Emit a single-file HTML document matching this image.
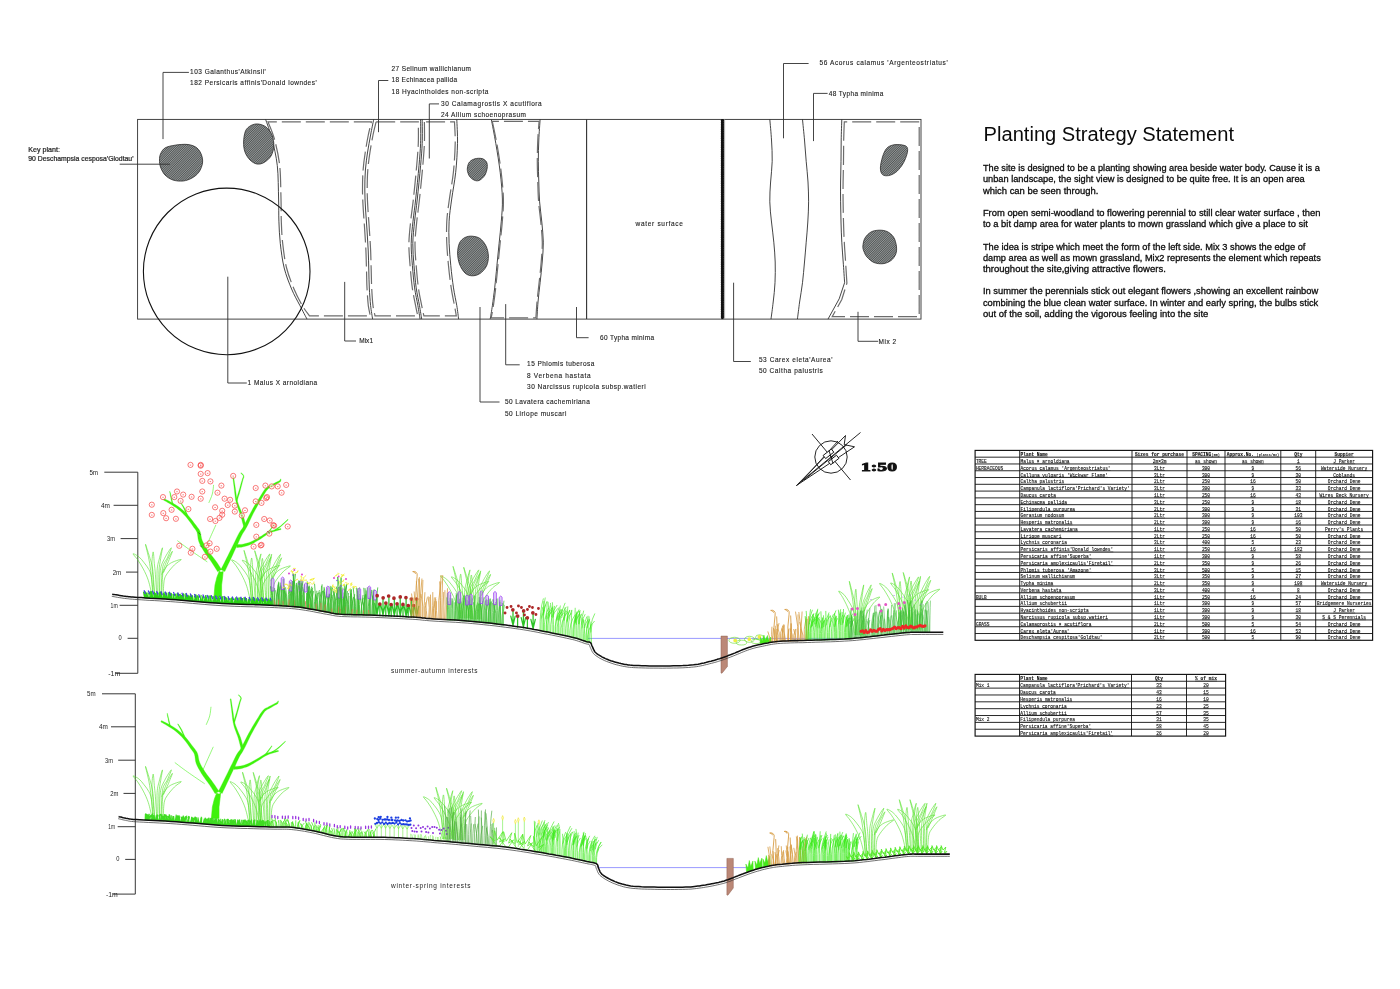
<!DOCTYPE html>
<html lang="en">
<head>
<meta charset="utf-8">
<title>Planting Strategy Statement</title>
<style>
html,body{margin:0;padding:0;background:#fff;}
body{width:1400px;height:989px;overflow:hidden;}
svg{display:block;}
.cad,.key,.ttl,.para,.tb,.ax,.scale{filter:grayscale(1);}
.cad text{font-family:"Liberation Sans","DejaVu Sans",sans-serif;fill:#222;stroke:#222;stroke-width:0.12;}
.key text{font-family:"Liberation Sans","DejaVu Sans",sans-serif;fill:#1c1c1c;stroke:#1c1c1c;stroke-width:0.2;}
.ttl text{font-family:"Liberation Sans","DejaVu Sans",sans-serif;fill:#0a0a0a;}
.para text{font-family:"Liberation Sans","DejaVu Sans",sans-serif;fill:#0c0c0c;stroke:#0c0c0c;stroke-width:0.3;}
.tb text{font-family:"Liberation Mono","DejaVu Sans Mono",monospace;fill:#111;stroke:#111;stroke-width:0.12;}
.scale text{font-family:"Liberation Serif","DejaVu Serif",serif;fill:#111;stroke:#111;stroke-width:0.9;}
.ax text{font-family:"Liberation Sans","DejaVu Sans",sans-serif;fill:#222;}
</style>
</head>
<body>
<svg width="1400" height="989" viewBox="0 0 1400 989">
<defs>
<pattern id="hatch" width="1.6" height="1.6" patternUnits="userSpaceOnUse" patternTransform="rotate(-45)">
<rect width="1.6" height="1.6" fill="#959999"/>
<rect width="1.6" height="0.8" fill="#505454"/>
</pattern>
</defs>
<rect width="1400" height="989" fill="#fff"/>
<!-- plan -->
<g fill="none" stroke="#303030" stroke-width="0.9">
<rect x="137.6" y="119.4" width="783.4" height="199.7"/>
<path d="M265.6,119.4C266.7,122.7 270.1,131.2 272.0,138.9C273.9,146.6 276.2,155.6 277.3,165.6C278.4,175.6 278.3,189.7 278.6,199.0C278.9,208.3 278.6,213.8 278.9,221.2C279.2,228.6 279.4,235.7 280.3,243.5C281.2,251.3 282.3,260.4 284.2,268.0C286.1,275.6 289.0,282.7 291.6,289.0C294.2,295.3 297.4,300.7 300.0,305.7C302.6,310.7 305.8,316.9 307.0,319.1"/>
<path d="M373.7,119.4C373.2,122.0 371.6,129.6 370.6,135.0C369.6,140.4 368.5,146.2 367.6,152.0C366.7,157.8 365.9,163.7 365.4,170.0C364.9,176.3 364.8,183.3 364.8,190.0C364.8,196.7 365.2,203.3 365.6,210.0C366.0,216.7 366.6,223.3 367.0,230.0C367.4,236.7 367.9,243.3 368.2,250.0C368.5,256.7 368.6,263.7 368.8,270.0C369.0,276.3 369.0,282.1 369.3,288.0C369.6,293.9 370.1,300.5 370.6,305.7C371.2,310.9 372.3,316.9 372.6,319.1"/>
<path d="M420.6,119.4C420.6,123.4 420.9,135.7 420.6,143.4C420.3,151.1 419.8,156.3 419.0,165.6C418.2,174.9 416.7,189.7 415.7,199.0C414.7,208.3 413.8,213.8 413.0,221.2C412.2,228.6 411.3,236.1 411.2,243.5C411.1,250.9 411.8,258.3 412.4,265.7C413.0,273.1 413.7,281.2 414.6,287.9C415.5,294.6 417.0,300.5 417.9,305.7C418.8,310.9 419.7,316.9 420.1,319.1"/>
<path d="M456.8,119.4C456.9,123.4 457.7,134.6 457.5,143.4C457.3,152.2 456.7,163.0 455.7,172.3C454.7,181.6 452.8,190.8 451.7,199.0C450.6,207.2 449.5,213.8 449.1,221.2C448.7,228.6 448.8,236.1 449.1,243.5C449.4,250.9 450.1,258.3 450.8,265.7C451.5,273.1 452.5,281.2 453.5,287.9C454.5,294.6 455.9,300.5 456.8,305.7C457.7,310.9 458.3,316.9 458.6,319.1"/>
<path d="M491.3,119.4C492.1,123.4 494.3,134.6 495.8,143.4C497.3,152.2 499.1,163.0 500.2,172.3C501.3,181.6 502.2,190.8 502.4,199.0C502.6,207.2 501.9,213.8 501.3,221.2C500.8,228.6 499.8,236.1 499.1,243.5C498.4,250.9 497.6,258.3 496.9,265.7C496.2,273.1 495.4,281.2 494.7,287.9C493.9,294.6 493.1,300.5 492.4,305.7C491.6,310.9 490.6,316.9 490.2,319.1"/>
<path d="M540.1,119.4C539.9,122.8 539.1,133.0 538.8,140.0C538.5,147.0 538.3,154.3 538.3,161.3C538.3,168.3 538.6,175.2 538.8,182.0C539.0,188.8 539.1,195.1 539.6,201.8C540.1,208.5 541.2,215.3 541.8,222.0C542.4,228.7 543.2,235.5 543.3,242.2C543.4,248.9 542.7,255.2 542.2,262.0C541.7,268.8 540.8,276.0 540.1,282.7C539.4,289.4 538.5,295.9 538.0,302.0C537.5,308.1 537.1,316.2 536.9,319.1"/>
<path d="M769.8,119.4C770.1,122.8 771.1,133.0 771.5,140.0C771.9,147.0 772.4,154.3 772.2,161.3C772.1,168.3 771.0,175.2 770.6,182.0C770.2,188.8 769.6,195.1 769.8,201.8C769.9,208.5 770.8,215.3 771.5,222.0C772.2,228.7 773.2,235.5 773.8,242.2C774.4,248.9 775.0,255.2 775.2,262.0C775.4,268.8 775.3,276.0 775.0,282.7C774.7,289.4 773.9,295.9 773.2,302.0C772.5,308.1 771.4,316.2 771.0,319.1"/>
<path d="M802.5,119.4C802.8,122.8 803.9,133.0 804.5,140.0C805.1,147.0 805.6,154.3 806.2,161.3C806.8,168.3 807.6,175.2 808.0,182.0C808.4,188.8 808.6,195.1 808.6,201.8C808.6,208.5 808.2,215.3 807.8,222.0C807.4,228.7 806.8,235.5 806.2,242.2C805.7,248.9 805.1,255.2 804.5,262.0C803.9,268.8 803.3,276.0 802.5,282.7C801.7,289.4 800.5,295.9 799.6,302.0C798.8,308.1 797.8,316.2 797.4,319.1"/>
<path d="M422.2,119.4C422.2,123.4 422.5,135.7 422.2,143.4C421.9,151.1 421.4,156.3 420.6,165.6C419.8,174.9 418.3,189.7 417.3,199.0C416.3,208.3 415.4,213.8 414.6,221.2C413.9,228.6 412.9,236.1 412.8,243.5C412.7,250.9 413.4,258.3 414.0,265.7C414.6,273.1 415.3,281.2 416.2,287.9C417.1,294.6 418.6,300.5 419.5,305.7C420.4,310.9 421.3,316.9 421.7,319.1"/>
<path d="M841.8,119.4C841.7,122.8 841.3,133.0 841.2,140.0C841.1,147.0 841.1,154.3 841.0,161.3C840.9,168.3 840.7,175.2 840.6,182.0C840.5,188.8 840.5,195.1 840.6,201.8C840.7,208.5 840.8,215.3 841.0,222.0C841.2,228.7 841.4,235.5 841.8,242.2C842.2,248.9 842.7,255.2 843.2,262.0C843.7,268.8 844.4,279.2 844.6,282.7"/>
<path d="M844.6,282.7L839.2,298.8L828.0,319.1"/>
<path d="M586.6,119.4V319.1" stroke-width="1.1"/>
</g>
<g fill="none" stroke="#6c6c6c" stroke-width="1.2" stroke-dasharray="19 5">
<path d="M268.0,121.9C269.1,124.7 272.4,131.6 274.4,138.9C276.3,146.2 278.6,155.6 279.7,165.6C280.8,175.6 280.7,189.7 281.0,199.0C281.3,208.3 281.0,213.8 281.3,221.2C281.6,228.6 281.8,235.7 282.7,243.5C283.6,251.3 284.7,260.4 286.6,268.0C288.5,275.6 291.4,282.7 294.0,289.0C296.6,295.3 299.8,301.2 302.4,305.7C305.0,310.2 308.2,314.1 309.4,315.8L370.3,315.8C370.0,314.1 368.9,310.3 368.3,305.7C367.8,301.1 367.3,293.9 367.0,288.0C366.7,282.1 366.7,276.3 366.5,270.0C366.3,263.7 366.2,256.7 365.9,250.0C365.6,243.3 365.1,236.7 364.7,230.0C364.3,223.3 363.7,216.7 363.3,210.0C362.9,203.3 362.5,196.7 362.5,190.0C362.5,183.3 362.6,176.3 363.1,170.0C363.6,163.7 364.4,157.8 365.3,152.0C366.2,146.2 367.3,140.0 368.3,135.0C369.3,130.0 370.9,124.1 371.4,121.9Z"/>
<path d="M376.1,121.9C375.6,124.1 374.0,130.0 373.0,135.0C372.0,140.0 370.9,146.2 370.0,152.0C369.1,157.8 368.3,163.7 367.8,170.0C367.3,176.3 367.2,183.3 367.2,190.0C367.2,196.7 367.6,203.3 368.0,210.0C368.4,216.7 369.0,223.3 369.4,230.0C369.8,236.7 370.3,243.3 370.6,250.0C370.9,256.7 371.0,263.7 371.2,270.0C371.4,276.3 371.4,282.1 371.7,288.0C372.0,293.9 372.4,301.1 373.0,305.7C373.6,310.3 374.7,314.1 375.0,315.8L417.8,315.8C417.4,314.1 416.5,310.4 415.6,305.7C414.7,301.0 413.2,294.6 412.3,287.9C411.4,281.2 410.7,273.1 410.1,265.7C409.5,258.3 408.8,250.9 408.9,243.5C409.0,236.1 409.9,228.6 410.7,221.2C411.4,213.8 412.4,208.3 413.4,199.0C414.4,189.7 415.9,174.9 416.7,165.6C417.5,156.3 418.0,150.7 418.3,143.4C418.6,136.1 418.3,125.5 418.3,121.9Z"/>
<path d="M424.4,121.9C424.4,125.5 424.7,136.1 424.4,143.4C424.1,150.7 423.6,156.3 422.8,165.6C422.0,174.9 420.5,189.7 419.5,199.0C418.5,208.3 417.6,213.8 416.8,221.2C416.1,228.6 415.1,236.1 415.0,243.5C414.9,250.9 415.6,258.3 416.2,265.7C416.8,273.1 417.5,281.2 418.4,287.9C419.3,294.6 420.8,301.0 421.7,305.7C422.6,310.4 423.5,314.1 423.9,315.8L456.3,315.8C456.0,314.1 455.4,310.4 454.5,305.7C453.6,301.0 452.2,294.6 451.2,287.9C450.2,281.2 449.2,273.1 448.5,265.7C447.8,258.3 447.1,250.9 446.8,243.5C446.5,236.1 446.4,228.6 446.8,221.2C447.2,213.8 448.3,207.2 449.4,199.0C450.5,190.8 452.4,181.6 453.4,172.3C454.4,163.0 455.0,151.8 455.2,143.4C455.4,135.0 454.6,125.5 454.5,121.9Z"/>
<path d="M492.3,121.3C493.1,125.0 495.3,134.9 496.8,143.4C498.3,151.9 500.1,163.0 501.2,172.3C502.3,181.6 503.2,190.8 503.4,199.0C503.6,207.2 502.9,213.8 502.3,221.2C501.8,228.6 500.8,236.1 500.1,243.5C499.4,250.9 498.6,258.3 497.9,265.7C497.2,273.1 496.4,281.2 495.7,287.9C494.9,294.6 494.1,300.7 493.4,305.7C492.6,310.7 491.6,315.8 491.2,317.8L535.9,317.8C536.1,315.2 536.5,307.9 537.0,302.0C537.5,296.1 538.4,289.4 539.1,282.7C539.8,276.0 540.7,268.8 541.2,262.0C541.7,255.2 542.4,248.9 542.3,242.2C542.2,235.5 541.4,228.7 540.8,222.0C540.2,215.3 539.1,208.5 538.6,201.8C538.1,195.1 538.0,188.8 537.8,182.0C537.6,175.2 537.3,168.3 537.3,161.3C537.3,154.3 537.5,146.7 537.8,140.0C538.1,133.3 538.9,124.4 539.1,121.3Z"/>
<path d="M844.3,121.9C844.2,124.9 843.8,133.4 843.7,140.0C843.6,146.6 843.6,154.3 843.5,161.3C843.4,168.3 843.2,175.2 843.1,182.0C843.0,188.8 843.0,195.1 843.1,201.8C843.2,208.5 843.3,215.3 843.5,222.0C843.7,228.7 843.9,235.5 844.3,242.2C844.6,248.9 845.2,255.2 845.6,262.0C846.0,268.8 846.7,279.7 846.9,283.2L841.8,299.5L832.2,316.7L919.2,316.7L919.2,121.9Z"/>
</g>
<path d="M722.4,119.4V319.1" stroke="#111" stroke-width="2.2" fill="none"/>
<path d="M722.4,120.6V317.9" stroke="#111" stroke-width="3.3" stroke-dasharray="0.1 1.7" stroke-linecap="round" fill="none"/>
<path d="M724.6,119.4V319.1" stroke="#999" stroke-width="0.8" fill="none"/>
<circle cx="226.7" cy="271.4" r="83.3" fill="none" stroke="#111" stroke-width="1.1"/>
<g fill="url(#hatch)" stroke="#2b2b2b" stroke-width="0.8">
<path d="M159.5,160.0C159.5,157.8 159.6,156.0 160.5,154.0C161.4,152.0 162.6,149.5 165.0,148.0C167.4,146.5 171.2,145.8 175.0,145.2C178.8,144.6 184.3,144.0 188.0,144.5C191.7,145.0 194.8,146.2 197.0,148.0C199.2,149.8 200.6,152.5 201.5,155.0C202.4,157.5 202.9,160.2 202.5,163.0C202.1,165.8 200.8,169.5 199.0,172.0C197.2,174.5 194.7,176.5 192.0,178.0C189.3,179.5 186.2,180.7 183.0,181.0C179.8,181.3 176.0,181.0 173.0,180.0C170.0,179.0 167.1,177.2 165.0,175.0C162.9,172.8 161.4,169.5 160.5,167.0C159.6,164.5 159.5,162.2 159.5,160.0Z"/>
<path d="M243.6,142.0C243.7,138.5 244.3,133.8 245.5,131.0C246.7,128.2 248.9,126.7 251.0,125.5C253.1,124.3 255.5,123.8 258.0,124.0C260.5,124.2 263.7,125.2 266.0,127.0C268.3,128.8 270.7,131.8 272.0,135.0C273.3,138.2 274.0,142.5 273.8,146.0C273.6,149.5 272.6,153.2 271.0,156.0C269.4,158.8 266.3,161.2 264.0,162.5C261.7,163.8 259.3,164.4 257.0,164.0C254.7,163.6 252.0,162.0 250.0,160.0C248.0,158.0 246.1,155.0 245.0,152.0C243.9,149.0 243.5,145.5 243.6,142.0Z"/>
<path d="M467.4,168.0C467.6,166.2 468.2,163.5 469.5,162.0C470.8,160.5 472.9,159.4 475.0,158.8C477.1,158.2 480.1,158.1 482.0,158.6C483.9,159.1 485.6,160.4 486.5,162.0C487.4,163.6 487.4,165.8 487.2,168.0C486.9,170.2 486.2,173.0 485.0,175.0C483.8,177.0 481.6,179.1 480.0,180.0C478.4,180.9 477.1,181.0 475.5,180.6C473.9,180.2 471.8,178.8 470.5,177.5C469.2,176.2 468.5,174.6 468.0,173.0C467.5,171.4 467.1,169.8 467.4,168.0Z"/>
<path d="M457.6,253.0C457.6,249.5 458.3,245.6 459.5,243.0C460.7,240.4 462.9,238.6 465.0,237.5C467.1,236.4 469.5,236.0 472.0,236.2C474.5,236.4 477.7,236.9 480.0,238.5C482.3,240.1 484.6,243.1 486.0,246.0C487.4,248.9 488.3,252.7 488.4,256.0C488.5,259.3 487.9,263.1 486.5,266.0C485.1,268.9 482.4,271.9 480.0,273.5C477.6,275.1 474.5,275.9 472.0,275.8C469.5,275.7 467.1,275.0 465.0,273.0C462.9,271.0 460.7,267.3 459.5,264.0C458.3,260.7 457.6,256.5 457.6,253.0Z"/>
<path d="M880.4,168.0C880.4,165.1 881.5,160.2 882.5,157.0C883.5,153.8 884.8,150.5 886.5,148.5C888.2,146.5 890.6,145.6 893.0,145.0C895.4,144.4 898.8,144.6 901.0,144.8C903.2,145.1 905.4,145.5 906.5,146.5C907.6,147.5 907.8,149.0 907.6,151.0C907.4,153.0 906.5,156.0 905.5,158.5C904.5,161.0 903.2,163.7 901.5,166.0C899.8,168.3 897.7,170.9 895.5,172.5C893.3,174.1 890.7,175.2 888.5,175.6C886.3,175.9 883.9,175.9 882.5,174.6C881.1,173.3 880.4,170.9 880.4,168.0Z"/>
<path d="M862.9,246.0C863.1,243.8 863.6,240.3 865.0,238.0C866.4,235.7 868.7,233.3 871.0,232.0C873.3,230.7 876.3,230.3 879.0,230.2C881.7,230.1 884.6,230.4 887.0,231.5C889.4,232.6 891.9,234.6 893.5,237.0C895.1,239.4 896.0,243.2 896.4,246.0C896.8,248.8 896.7,251.6 895.8,254.0C894.9,256.4 893.1,258.9 891.0,260.5C888.9,262.1 885.8,263.4 883.0,263.7C880.2,264.0 876.7,263.6 874.0,262.5C871.3,261.4 868.7,258.9 867.0,257.0C865.3,255.1 864.5,252.8 863.8,251.0C863.1,249.2 862.7,248.2 862.9,246.0Z"/>
</g>
<g fill="none" stroke="#303030" stroke-width="0.9">
<path d="M163,139.1V72.4H188.9"/>
<path d="M119.7,164.2H169.9"/>
<path d="M227.8,276.7V383H246.8"/>
<path d="M344.7,281.9V341H356"/>
<path d="M378.5,132.2V80.5H388.3"/>
<path d="M429.3,158.5V103.9H439"/>
<path d="M480,307V402H499.5"/>
<path d="M505.7,304.1V364.8H519.7"/>
<path d="M576.5,307V337.7H588.6"/>
<path d="M733.6,282.7V361.5H750.8"/>
<path d="M783.5,138.3V63.5H808.6"/>
<path d="M813.5,141.1V93.4H827.6"/>
<path d="M858,311.8V341.3H878.2"/>
</g>
<g class="cad">
<text x="190.1" y="74.4" font-size="6.5" textLength="75.7" lengthAdjust="spacing">103 Galanthus'Atkinsii'</text>
<text x="190.1" y="85.3" font-size="6.5" textLength="126.6" lengthAdjust="spacing">182 Persicaris affinis'Donald lowndes'</text>
<text x="391.6" y="71.1" font-size="6.5" textLength="79.3" lengthAdjust="spacing">27 Selinum wallichianum</text>
<text x="391.6" y="82.4" font-size="6.5" textLength="65.5" lengthAdjust="spacing">18 Echinacea pallida</text>
<text x="391.6" y="93.8" font-size="6.5" textLength="96.7" lengthAdjust="spacing">18 Hyacinthoides non-scripta</text>
<text x="441.0" y="105.9" font-size="6.5" textLength="100.7" lengthAdjust="spacing">30 Calamagrostis X acutiflora</text>
<text x="441.0" y="117.2" font-size="6.5" textLength="84.9" lengthAdjust="spacing">24 Allium schoenoprasum</text>
<text x="359.2" y="343.4" font-size="6.5" textLength="13.8" lengthAdjust="spacing">Mix1</text>
<text x="247.6" y="385.4" font-size="6.5" textLength="69.6" lengthAdjust="spacing">1 Malus X arnoldiana</text>
<text x="635.5" y="226.4" font-size="6.5" textLength="47.4" lengthAdjust="spacing">water surface</text>
<text x="600.0" y="339.7" font-size="6.5" textLength="54.1" lengthAdjust="spacing">60 Typha minima</text>
<text x="527.1" y="366.4" font-size="6.5" textLength="67.2" lengthAdjust="spacing">15 Phlomis tuberosa</text>
<text x="527.1" y="377.7" font-size="6.5" textLength="63.5" lengthAdjust="spacing">8 Verbena hastata</text>
<text x="527.1" y="389.0" font-size="6.5" textLength="118.5" lengthAdjust="spacing">30 Narcissus rupicola subsp.watieri</text>
<text x="504.9" y="404.4" font-size="6.5" textLength="84.9" lengthAdjust="spacing">50 Lavatera cachemiriana</text>
<text x="504.9" y="415.7" font-size="6.5" textLength="61.5" lengthAdjust="spacing">50 Liriope muscari</text>
<text x="819.5" y="65.4" font-size="6.5" textLength="128.2" lengthAdjust="spacing">56 Acorus calamus 'Argenteostriatus'</text>
<text x="828.8" y="96.2" font-size="6.5" textLength="54.6" lengthAdjust="spacing">48 Typha minima</text>
<text x="878.6" y="343.7" font-size="6.5" textLength="17.4" lengthAdjust="spacing">Mix 2</text>
<text x="758.9" y="361.5" font-size="6.5" textLength="73.6" lengthAdjust="spacing">53 Carex eleta'Aurea'</text>
<text x="758.9" y="372.8" font-size="6.5" textLength="63.9" lengthAdjust="spacing">50 Caltha palustris</text>
</g>
<g class="key">
<text x="28.3" y="151.9" font-size="6.6" textLength="31.6" lengthAdjust="spacingAndGlyphs">Key plant:</text>
<text x="28.3" y="160.8" font-size="6.6" textLength="105.2" lengthAdjust="spacingAndGlyphs">90 Deschampsia cesposa'Glodtau'</text>
</g>
<!-- statement -->
<g class="ttl"><text x="983.6" y="140.9" font-size="19.6" textLength="250.4" lengthAdjust="spacingAndGlyphs">Planting Strategy Statement</text></g>
<g class="para">
<text x="982.9" y="171.2" font-size="9.4" textLength="336.9" lengthAdjust="spacingAndGlyphs">The site is designed to be a planting showing area beside water body. Cause it is a</text>
<text x="982.9" y="182.4" font-size="9.4" textLength="321.8" lengthAdjust="spacingAndGlyphs">unban landscape, the sight view is designed to be quite free. It is an open area</text>
<text x="982.9" y="193.6" font-size="9.4" textLength="115.4" lengthAdjust="spacingAndGlyphs">which can be seen through.</text>
<text x="982.9" y="216.0" font-size="9.4" textLength="337.6" lengthAdjust="spacingAndGlyphs">From open semi-woodland to flowering perennial to still clear water surface , then</text>
<text x="982.9" y="227.1" font-size="9.4" textLength="325.0" lengthAdjust="spacingAndGlyphs">to a bit damp area for water plants to mown grassland which give a place to sit</text>
<text x="982.9" y="249.5" font-size="9.4" textLength="322.5" lengthAdjust="spacingAndGlyphs">The idea is stripe which meet the form of the left side. Mix 3 shows the edge of</text>
<text x="982.9" y="260.7" font-size="9.4" textLength="337.9" lengthAdjust="spacingAndGlyphs">damp area as well as mown grassland, Mix2 represents the element which repeats</text>
<text x="982.9" y="271.9" font-size="9.4" textLength="182.9" lengthAdjust="spacingAndGlyphs">throughout the site,giving attractive flowers.</text>
<text x="982.9" y="294.3" font-size="9.4" textLength="335.4" lengthAdjust="spacingAndGlyphs">In summer the perennials stick out elegant flowers ,showing an excellent rainbow</text>
<text x="982.9" y="305.5" font-size="9.4" textLength="335.4" lengthAdjust="spacingAndGlyphs">combining the blue clean water surface. In winter and early spring, the bulbs stick</text>
<text x="982.9" y="316.7" font-size="9.4" textLength="225.4" lengthAdjust="spacingAndGlyphs">out of the soil, adding the vigorous feeling into the site</text>
</g>
<!-- tables -->
<g fill="none" stroke="#111" stroke-width="0.9">
<rect x="975.1" y="450.4" width="397.5" height="189.9" stroke-width="1.15"/>
<path d="M975.1,457.18H1372.6M975.1,463.96H1372.6M975.1,470.75H1372.6M975.1,477.53H1372.6M975.1,484.31H1372.6M975.1,491.09H1372.6M975.1,497.88H1372.6M975.1,504.66H1372.6M975.1,511.44H1372.6M975.1,518.22H1372.6M975.1,525.00H1372.6M975.1,531.79H1372.6M975.1,538.57H1372.6M975.1,545.35H1372.6M975.1,552.13H1372.6M975.1,558.91H1372.6M975.1,565.70H1372.6M975.1,572.48H1372.6M975.1,579.26H1372.6M975.1,586.04H1372.6M975.1,592.82H1372.6M975.1,599.61H1372.6M975.1,606.39H1372.6M975.1,613.17H1372.6M975.1,619.95H1372.6M975.1,626.74H1372.6M975.1,633.52H1372.6M1019.7,450.4V640.3M1132.0,450.4V640.3M1187.0,450.4V640.3M1225.0,450.4V640.3M1280.8,450.4V640.3M1315.7,450.4V640.3"/>
</g>
<g class="tb">
<text x="1020.5" y="456.2" font-size="5.2" textLength="27.3" lengthAdjust="spacingAndGlyphs" font-weight="bold">Plant Name</text>
<path d="M1020.5,456.93H1047.8" stroke="#222" stroke-width="0.5"/>
<text x="1134.9" y="456.2" font-size="5.2" textLength="49.1" lengthAdjust="spacingAndGlyphs" font-weight="bold">Sizes for purchase</text>
<path d="M1134.9,456.93H1184.1" stroke="#222" stroke-width="0.5"/>
<text x="1192.2" y="456.2" font-size="5.2" textLength="19.1" lengthAdjust="spacingAndGlyphs" font-weight="bold">SPACING</text>
<text x="1211.6" y="456.2" font-size="3.9" textLength="8.2" lengthAdjust="spacingAndGlyphs">(mm)</text>
<path d="M1192.2,456.93H1219.8" stroke="#222" stroke-width="0.5"/>
<text x="1226.7" y="456.2" font-size="5.2" textLength="27.3" lengthAdjust="spacingAndGlyphs" font-weight="bold">Approx.No.</text>
<text x="1256.6" y="456.2" font-size="3.9" textLength="22.5" lengthAdjust="spacingAndGlyphs">(plants/m2)</text>
<path d="M1226.7,456.93H1279.1" stroke="#222" stroke-width="0.5"/>
<text x="1294.2" y="456.2" font-size="5.2" textLength="8.2" lengthAdjust="spacingAndGlyphs" font-weight="bold">Qty</text>
<path d="M1294.2,456.93H1302.3" stroke="#222" stroke-width="0.5"/>
<text x="1334.6" y="456.2" font-size="5.2" textLength="19.1" lengthAdjust="spacingAndGlyphs" font-weight="bold">Suppier</text>
<path d="M1334.6,456.93H1353.7" stroke="#222" stroke-width="0.5"/>
<text x="975.9" y="463.0" font-size="5.2" textLength="10.9" lengthAdjust="spacingAndGlyphs">TREE</text>
<text x="1020.5" y="463.0" font-size="5.2" textLength="49.1" lengthAdjust="spacingAndGlyphs">Malus × arnoldiana</text>
<path d="M1020.5,463.71H1069.6" stroke="#222" stroke-width="0.5"/>
<text x="1152.7" y="463.0" font-size="5.2" textLength="13.7" lengthAdjust="spacingAndGlyphs">2m×3m</text>
<path d="M1152.7,463.71H1166.3" stroke="#222" stroke-width="0.5"/>
<text x="1195.1" y="463.0" font-size="5.2" textLength="21.8" lengthAdjust="spacingAndGlyphs">as shown</text>
<path d="M1195.1,463.71H1216.9" stroke="#222" stroke-width="0.5"/>
<text x="1242.0" y="463.0" font-size="5.2" textLength="21.8" lengthAdjust="spacingAndGlyphs">as shown</text>
<path d="M1242.0,463.71H1263.8" stroke="#222" stroke-width="0.5"/>
<text x="1296.9" y="463.0" font-size="5.2" textLength="2.7" lengthAdjust="spacingAndGlyphs">1</text>
<path d="M1296.9,463.71H1299.6" stroke="#222" stroke-width="0.5"/>
<text x="1333.2" y="463.0" font-size="5.2" textLength="21.8" lengthAdjust="spacingAndGlyphs">J Parker</text>
<path d="M1333.2,463.71H1355.1" stroke="#222" stroke-width="0.5"/>
<text x="975.9" y="469.8" font-size="5.2" textLength="27.3" lengthAdjust="spacingAndGlyphs">HERBACEOUS</text>
<text x="1020.5" y="469.8" font-size="5.2" textLength="90.1" lengthAdjust="spacingAndGlyphs">Acorus calamus 'Argenteostriatus'</text>
<path d="M1020.5,470.50H1110.6" stroke="#222" stroke-width="0.5"/>
<text x="1154.0" y="469.8" font-size="5.2" textLength="10.9" lengthAdjust="spacingAndGlyphs">3Ltr</text>
<path d="M1154.0,470.50H1165.0" stroke="#222" stroke-width="0.5"/>
<text x="1201.9" y="469.8" font-size="5.2" textLength="8.2" lengthAdjust="spacingAndGlyphs">300</text>
<path d="M1201.9,470.50H1210.1" stroke="#222" stroke-width="0.5"/>
<text x="1251.5" y="469.8" font-size="5.2" textLength="2.7" lengthAdjust="spacingAndGlyphs">9</text>
<path d="M1251.5,470.50H1254.3" stroke="#222" stroke-width="0.5"/>
<text x="1295.5" y="469.8" font-size="5.2" textLength="5.5" lengthAdjust="spacingAndGlyphs">56</text>
<path d="M1295.5,470.50H1301.0" stroke="#222" stroke-width="0.5"/>
<text x="1320.9" y="469.8" font-size="5.2" textLength="46.4" lengthAdjust="spacingAndGlyphs">Waterside Nursery</text>
<path d="M1320.9,470.50H1367.4" stroke="#222" stroke-width="0.5"/>
<text x="1020.5" y="476.6" font-size="5.2" textLength="87.4" lengthAdjust="spacingAndGlyphs">Calluna vulgaris 'Wickwar Flame'</text>
<path d="M1020.5,477.28H1107.9" stroke="#222" stroke-width="0.5"/>
<text x="1154.0" y="476.6" font-size="5.2" textLength="10.9" lengthAdjust="spacingAndGlyphs">3Ltr</text>
<path d="M1154.0,477.28H1165.0" stroke="#222" stroke-width="0.5"/>
<text x="1201.9" y="476.6" font-size="5.2" textLength="8.2" lengthAdjust="spacingAndGlyphs">300</text>
<path d="M1201.9,477.28H1210.1" stroke="#222" stroke-width="0.5"/>
<text x="1251.5" y="476.6" font-size="5.2" textLength="2.7" lengthAdjust="spacingAndGlyphs">9</text>
<path d="M1251.5,477.28H1254.3" stroke="#222" stroke-width="0.5"/>
<text x="1295.5" y="476.6" font-size="5.2" textLength="5.5" lengthAdjust="spacingAndGlyphs">30</text>
<path d="M1295.5,477.28H1301.0" stroke="#222" stroke-width="0.5"/>
<text x="1333.2" y="476.6" font-size="5.2" textLength="21.8" lengthAdjust="spacingAndGlyphs">Coblands</text>
<path d="M1333.2,477.28H1355.1" stroke="#222" stroke-width="0.5"/>
<text x="1020.5" y="483.4" font-size="5.2" textLength="43.7" lengthAdjust="spacingAndGlyphs">Caltha palustris</text>
<path d="M1020.5,484.06H1064.2" stroke="#222" stroke-width="0.5"/>
<text x="1154.0" y="483.4" font-size="5.2" textLength="10.9" lengthAdjust="spacingAndGlyphs">2Ltr</text>
<path d="M1154.0,484.06H1165.0" stroke="#222" stroke-width="0.5"/>
<text x="1201.9" y="483.4" font-size="5.2" textLength="8.2" lengthAdjust="spacingAndGlyphs">250</text>
<path d="M1201.9,484.06H1210.1" stroke="#222" stroke-width="0.5"/>
<text x="1250.2" y="483.4" font-size="5.2" textLength="5.5" lengthAdjust="spacingAndGlyphs">16</text>
<path d="M1250.2,484.06H1255.6" stroke="#222" stroke-width="0.5"/>
<text x="1295.5" y="483.4" font-size="5.2" textLength="5.5" lengthAdjust="spacingAndGlyphs">50</text>
<path d="M1295.5,484.06H1301.0" stroke="#222" stroke-width="0.5"/>
<text x="1327.8" y="483.4" font-size="5.2" textLength="32.8" lengthAdjust="spacingAndGlyphs">Orchard Dene</text>
<path d="M1327.8,484.06H1360.5" stroke="#222" stroke-width="0.5"/>
<text x="1020.5" y="490.1" font-size="5.2" textLength="109.2" lengthAdjust="spacingAndGlyphs">Campanula lactiflora'Prichard's Variety'</text>
<path d="M1020.5,490.84H1129.7" stroke="#222" stroke-width="0.5"/>
<text x="1154.0" y="490.1" font-size="5.2" textLength="10.9" lengthAdjust="spacingAndGlyphs">3Ltr</text>
<path d="M1154.0,490.84H1165.0" stroke="#222" stroke-width="0.5"/>
<text x="1201.9" y="490.1" font-size="5.2" textLength="8.2" lengthAdjust="spacingAndGlyphs">300</text>
<path d="M1201.9,490.84H1210.1" stroke="#222" stroke-width="0.5"/>
<text x="1251.5" y="490.1" font-size="5.2" textLength="2.7" lengthAdjust="spacingAndGlyphs">9</text>
<path d="M1251.5,490.84H1254.3" stroke="#222" stroke-width="0.5"/>
<text x="1295.5" y="490.1" font-size="5.2" textLength="5.5" lengthAdjust="spacingAndGlyphs">33</text>
<path d="M1295.5,490.84H1301.0" stroke="#222" stroke-width="0.5"/>
<text x="1327.8" y="490.1" font-size="5.2" textLength="32.8" lengthAdjust="spacingAndGlyphs">Orchard Dene</text>
<path d="M1327.8,490.84H1360.5" stroke="#222" stroke-width="0.5"/>
<text x="1020.5" y="496.9" font-size="5.2" textLength="35.5" lengthAdjust="spacingAndGlyphs">Daucus carota</text>
<path d="M1020.5,497.62H1056.0" stroke="#222" stroke-width="0.5"/>
<text x="1154.0" y="496.9" font-size="5.2" textLength="10.9" lengthAdjust="spacingAndGlyphs">1Ltr</text>
<path d="M1154.0,497.62H1165.0" stroke="#222" stroke-width="0.5"/>
<text x="1201.9" y="496.9" font-size="5.2" textLength="8.2" lengthAdjust="spacingAndGlyphs">250</text>
<path d="M1201.9,497.62H1210.1" stroke="#222" stroke-width="0.5"/>
<text x="1250.2" y="496.9" font-size="5.2" textLength="5.5" lengthAdjust="spacingAndGlyphs">16</text>
<path d="M1250.2,497.62H1255.6" stroke="#222" stroke-width="0.5"/>
<text x="1295.5" y="496.9" font-size="5.2" textLength="5.5" lengthAdjust="spacingAndGlyphs">43</text>
<path d="M1295.5,497.62H1301.0" stroke="#222" stroke-width="0.5"/>
<text x="1319.6" y="496.9" font-size="5.2" textLength="49.1" lengthAdjust="spacingAndGlyphs">Wires Beck Nursery</text>
<path d="M1319.6,497.62H1368.7" stroke="#222" stroke-width="0.5"/>
<text x="1020.5" y="503.7" font-size="5.2" textLength="46.4" lengthAdjust="spacingAndGlyphs">Echinacea pallida</text>
<path d="M1020.5,504.41H1066.9" stroke="#222" stroke-width="0.5"/>
<text x="1154.0" y="503.7" font-size="5.2" textLength="10.9" lengthAdjust="spacingAndGlyphs">3Ltr</text>
<path d="M1154.0,504.41H1165.0" stroke="#222" stroke-width="0.5"/>
<text x="1201.9" y="503.7" font-size="5.2" textLength="8.2" lengthAdjust="spacingAndGlyphs">250</text>
<path d="M1201.9,504.41H1210.1" stroke="#222" stroke-width="0.5"/>
<text x="1251.5" y="503.7" font-size="5.2" textLength="2.7" lengthAdjust="spacingAndGlyphs">9</text>
<path d="M1251.5,504.41H1254.3" stroke="#222" stroke-width="0.5"/>
<text x="1295.5" y="503.7" font-size="5.2" textLength="5.5" lengthAdjust="spacingAndGlyphs">18</text>
<path d="M1295.5,504.41H1301.0" stroke="#222" stroke-width="0.5"/>
<text x="1327.8" y="503.7" font-size="5.2" textLength="32.8" lengthAdjust="spacingAndGlyphs">Orchard Dene</text>
<path d="M1327.8,504.41H1360.5" stroke="#222" stroke-width="0.5"/>
<text x="1020.5" y="510.5" font-size="5.2" textLength="54.6" lengthAdjust="spacingAndGlyphs">Filipendula purpurea</text>
<path d="M1020.5,511.19H1075.1" stroke="#222" stroke-width="0.5"/>
<text x="1154.0" y="510.5" font-size="5.2" textLength="10.9" lengthAdjust="spacingAndGlyphs">2Ltr</text>
<path d="M1154.0,511.19H1165.0" stroke="#222" stroke-width="0.5"/>
<text x="1201.9" y="510.5" font-size="5.2" textLength="8.2" lengthAdjust="spacingAndGlyphs">300</text>
<path d="M1201.9,511.19H1210.1" stroke="#222" stroke-width="0.5"/>
<text x="1251.5" y="510.5" font-size="5.2" textLength="2.7" lengthAdjust="spacingAndGlyphs">9</text>
<path d="M1251.5,511.19H1254.3" stroke="#222" stroke-width="0.5"/>
<text x="1295.5" y="510.5" font-size="5.2" textLength="5.5" lengthAdjust="spacingAndGlyphs">31</text>
<path d="M1295.5,511.19H1301.0" stroke="#222" stroke-width="0.5"/>
<text x="1327.8" y="510.5" font-size="5.2" textLength="32.8" lengthAdjust="spacingAndGlyphs">Orchard Dene</text>
<path d="M1327.8,511.19H1360.5" stroke="#222" stroke-width="0.5"/>
<text x="1020.5" y="517.3" font-size="5.2" textLength="43.7" lengthAdjust="spacingAndGlyphs">Geranium nodosum</text>
<path d="M1020.5,517.97H1064.2" stroke="#222" stroke-width="0.5"/>
<text x="1154.0" y="517.3" font-size="5.2" textLength="10.9" lengthAdjust="spacingAndGlyphs">2Ltr</text>
<path d="M1154.0,517.97H1165.0" stroke="#222" stroke-width="0.5"/>
<text x="1201.9" y="517.3" font-size="5.2" textLength="8.2" lengthAdjust="spacingAndGlyphs">300</text>
<path d="M1201.9,517.97H1210.1" stroke="#222" stroke-width="0.5"/>
<text x="1251.5" y="517.3" font-size="5.2" textLength="2.7" lengthAdjust="spacingAndGlyphs">9</text>
<path d="M1251.5,517.97H1254.3" stroke="#222" stroke-width="0.5"/>
<text x="1294.2" y="517.3" font-size="5.2" textLength="8.2" lengthAdjust="spacingAndGlyphs">103</text>
<path d="M1294.2,517.97H1302.3" stroke="#222" stroke-width="0.5"/>
<text x="1327.8" y="517.3" font-size="5.2" textLength="32.8" lengthAdjust="spacingAndGlyphs">Orchard Dene</text>
<path d="M1327.8,517.97H1360.5" stroke="#222" stroke-width="0.5"/>
<text x="1020.5" y="524.1" font-size="5.2" textLength="51.9" lengthAdjust="spacingAndGlyphs">Hesperis matronalis</text>
<path d="M1020.5,524.75H1072.4" stroke="#222" stroke-width="0.5"/>
<text x="1154.0" y="524.1" font-size="5.2" textLength="10.9" lengthAdjust="spacingAndGlyphs">2Ltr</text>
<path d="M1154.0,524.75H1165.0" stroke="#222" stroke-width="0.5"/>
<text x="1201.9" y="524.1" font-size="5.2" textLength="8.2" lengthAdjust="spacingAndGlyphs">300</text>
<path d="M1201.9,524.75H1210.1" stroke="#222" stroke-width="0.5"/>
<text x="1251.5" y="524.1" font-size="5.2" textLength="2.7" lengthAdjust="spacingAndGlyphs">9</text>
<path d="M1251.5,524.75H1254.3" stroke="#222" stroke-width="0.5"/>
<text x="1295.5" y="524.1" font-size="5.2" textLength="5.5" lengthAdjust="spacingAndGlyphs">16</text>
<path d="M1295.5,524.75H1301.0" stroke="#222" stroke-width="0.5"/>
<text x="1327.8" y="524.1" font-size="5.2" textLength="32.8" lengthAdjust="spacingAndGlyphs">Orchard Dene</text>
<path d="M1327.8,524.75H1360.5" stroke="#222" stroke-width="0.5"/>
<text x="1020.5" y="530.8" font-size="5.2" textLength="57.3" lengthAdjust="spacingAndGlyphs">Lavatera cachemiriana</text>
<path d="M1020.5,531.54H1077.8" stroke="#222" stroke-width="0.5"/>
<text x="1154.0" y="530.8" font-size="5.2" textLength="10.9" lengthAdjust="spacingAndGlyphs">1Ltr</text>
<path d="M1154.0,531.54H1165.0" stroke="#222" stroke-width="0.5"/>
<text x="1201.9" y="530.8" font-size="5.2" textLength="8.2" lengthAdjust="spacingAndGlyphs">250</text>
<path d="M1201.9,531.54H1210.1" stroke="#222" stroke-width="0.5"/>
<text x="1250.2" y="530.8" font-size="5.2" textLength="5.5" lengthAdjust="spacingAndGlyphs">16</text>
<path d="M1250.2,531.54H1255.6" stroke="#222" stroke-width="0.5"/>
<text x="1295.5" y="530.8" font-size="5.2" textLength="5.5" lengthAdjust="spacingAndGlyphs">50</text>
<path d="M1295.5,531.54H1301.0" stroke="#222" stroke-width="0.5"/>
<text x="1325.0" y="530.8" font-size="5.2" textLength="38.2" lengthAdjust="spacingAndGlyphs">Perry's Plants</text>
<path d="M1325.0,531.54H1363.3" stroke="#222" stroke-width="0.5"/>
<text x="1020.5" y="537.6" font-size="5.2" textLength="41.0" lengthAdjust="spacingAndGlyphs">Liriope muscari</text>
<path d="M1020.5,538.32H1061.5" stroke="#222" stroke-width="0.5"/>
<text x="1154.0" y="537.6" font-size="5.2" textLength="10.9" lengthAdjust="spacingAndGlyphs">2Ltr</text>
<path d="M1154.0,538.32H1165.0" stroke="#222" stroke-width="0.5"/>
<text x="1201.9" y="537.6" font-size="5.2" textLength="8.2" lengthAdjust="spacingAndGlyphs">250</text>
<path d="M1201.9,538.32H1210.1" stroke="#222" stroke-width="0.5"/>
<text x="1250.2" y="537.6" font-size="5.2" textLength="5.5" lengthAdjust="spacingAndGlyphs">16</text>
<path d="M1250.2,538.32H1255.6" stroke="#222" stroke-width="0.5"/>
<text x="1295.5" y="537.6" font-size="5.2" textLength="5.5" lengthAdjust="spacingAndGlyphs">50</text>
<path d="M1295.5,538.32H1301.0" stroke="#222" stroke-width="0.5"/>
<text x="1327.8" y="537.6" font-size="5.2" textLength="32.8" lengthAdjust="spacingAndGlyphs">Orchard Dene</text>
<path d="M1327.8,538.32H1360.5" stroke="#222" stroke-width="0.5"/>
<text x="1020.5" y="544.4" font-size="5.2" textLength="46.4" lengthAdjust="spacingAndGlyphs">Lychnis coronaria</text>
<path d="M1020.5,545.10H1066.9" stroke="#222" stroke-width="0.5"/>
<text x="1154.0" y="544.4" font-size="5.2" textLength="10.9" lengthAdjust="spacingAndGlyphs">3Ltr</text>
<path d="M1154.0,545.10H1165.0" stroke="#222" stroke-width="0.5"/>
<text x="1201.9" y="544.4" font-size="5.2" textLength="8.2" lengthAdjust="spacingAndGlyphs">400</text>
<path d="M1201.9,545.10H1210.1" stroke="#222" stroke-width="0.5"/>
<text x="1251.5" y="544.4" font-size="5.2" textLength="2.7" lengthAdjust="spacingAndGlyphs">5</text>
<path d="M1251.5,545.10H1254.3" stroke="#222" stroke-width="0.5"/>
<text x="1295.5" y="544.4" font-size="5.2" textLength="5.5" lengthAdjust="spacingAndGlyphs">23</text>
<path d="M1295.5,545.10H1301.0" stroke="#222" stroke-width="0.5"/>
<text x="1327.8" y="544.4" font-size="5.2" textLength="32.8" lengthAdjust="spacingAndGlyphs">Orchard Dene</text>
<path d="M1327.8,545.10H1360.5" stroke="#222" stroke-width="0.5"/>
<text x="1020.5" y="551.2" font-size="5.2" textLength="92.8" lengthAdjust="spacingAndGlyphs">Persicaris affinis'Donald lowndes'</text>
<path d="M1020.5,551.88H1113.3" stroke="#222" stroke-width="0.5"/>
<text x="1154.0" y="551.2" font-size="5.2" textLength="10.9" lengthAdjust="spacingAndGlyphs">1Ltr</text>
<path d="M1154.0,551.88H1165.0" stroke="#222" stroke-width="0.5"/>
<text x="1201.9" y="551.2" font-size="5.2" textLength="8.2" lengthAdjust="spacingAndGlyphs">250</text>
<path d="M1201.9,551.88H1210.1" stroke="#222" stroke-width="0.5"/>
<text x="1250.2" y="551.2" font-size="5.2" textLength="5.5" lengthAdjust="spacingAndGlyphs">16</text>
<path d="M1250.2,551.88H1255.6" stroke="#222" stroke-width="0.5"/>
<text x="1294.2" y="551.2" font-size="5.2" textLength="8.2" lengthAdjust="spacingAndGlyphs">182</text>
<path d="M1294.2,551.88H1302.3" stroke="#222" stroke-width="0.5"/>
<text x="1327.8" y="551.2" font-size="5.2" textLength="32.8" lengthAdjust="spacingAndGlyphs">Orchard Dene</text>
<path d="M1327.8,551.88H1360.5" stroke="#222" stroke-width="0.5"/>
<text x="1020.5" y="558.0" font-size="5.2" textLength="71.0" lengthAdjust="spacingAndGlyphs">Persicaria affine'Superba'</text>
<path d="M1020.5,558.66H1091.5" stroke="#222" stroke-width="0.5"/>
<text x="1154.0" y="558.0" font-size="5.2" textLength="10.9" lengthAdjust="spacingAndGlyphs">1Ltr</text>
<path d="M1154.0,558.66H1165.0" stroke="#222" stroke-width="0.5"/>
<text x="1201.9" y="558.0" font-size="5.2" textLength="8.2" lengthAdjust="spacingAndGlyphs">300</text>
<path d="M1201.9,558.66H1210.1" stroke="#222" stroke-width="0.5"/>
<text x="1251.5" y="558.0" font-size="5.2" textLength="2.7" lengthAdjust="spacingAndGlyphs">9</text>
<path d="M1251.5,558.66H1254.3" stroke="#222" stroke-width="0.5"/>
<text x="1295.5" y="558.0" font-size="5.2" textLength="5.5" lengthAdjust="spacingAndGlyphs">58</text>
<path d="M1295.5,558.66H1301.0" stroke="#222" stroke-width="0.5"/>
<text x="1327.8" y="558.0" font-size="5.2" textLength="32.8" lengthAdjust="spacingAndGlyphs">Orchard Dene</text>
<path d="M1327.8,558.66H1360.5" stroke="#222" stroke-width="0.5"/>
<text x="1020.5" y="564.7" font-size="5.2" textLength="92.8" lengthAdjust="spacingAndGlyphs">Persicaria amplexicaulis'Firetail'</text>
<path d="M1020.5,565.45H1113.3" stroke="#222" stroke-width="0.5"/>
<text x="1154.0" y="564.7" font-size="5.2" textLength="10.9" lengthAdjust="spacingAndGlyphs">2Ltr</text>
<path d="M1154.0,565.45H1165.0" stroke="#222" stroke-width="0.5"/>
<text x="1201.9" y="564.7" font-size="5.2" textLength="8.2" lengthAdjust="spacingAndGlyphs">350</text>
<path d="M1201.9,565.45H1210.1" stroke="#222" stroke-width="0.5"/>
<text x="1251.5" y="564.7" font-size="5.2" textLength="2.7" lengthAdjust="spacingAndGlyphs">9</text>
<path d="M1251.5,565.45H1254.3" stroke="#222" stroke-width="0.5"/>
<text x="1295.5" y="564.7" font-size="5.2" textLength="5.5" lengthAdjust="spacingAndGlyphs">26</text>
<path d="M1295.5,565.45H1301.0" stroke="#222" stroke-width="0.5"/>
<text x="1327.8" y="564.7" font-size="5.2" textLength="32.8" lengthAdjust="spacingAndGlyphs">Orchard Dene</text>
<path d="M1327.8,565.45H1360.5" stroke="#222" stroke-width="0.5"/>
<text x="1020.5" y="571.5" font-size="5.2" textLength="71.0" lengthAdjust="spacingAndGlyphs">Phlomis tuberosa 'Amazone'</text>
<path d="M1020.5,572.23H1091.5" stroke="#222" stroke-width="0.5"/>
<text x="1154.0" y="571.5" font-size="5.2" textLength="10.9" lengthAdjust="spacingAndGlyphs">3Ltr</text>
<path d="M1154.0,572.23H1165.0" stroke="#222" stroke-width="0.5"/>
<text x="1201.9" y="571.5" font-size="5.2" textLength="8.2" lengthAdjust="spacingAndGlyphs">500</text>
<path d="M1201.9,572.23H1210.1" stroke="#222" stroke-width="0.5"/>
<text x="1251.5" y="571.5" font-size="5.2" textLength="2.7" lengthAdjust="spacingAndGlyphs">5</text>
<path d="M1251.5,572.23H1254.3" stroke="#222" stroke-width="0.5"/>
<text x="1295.5" y="571.5" font-size="5.2" textLength="5.5" lengthAdjust="spacingAndGlyphs">15</text>
<path d="M1295.5,572.23H1301.0" stroke="#222" stroke-width="0.5"/>
<text x="1327.8" y="571.5" font-size="5.2" textLength="32.8" lengthAdjust="spacingAndGlyphs">Orchard Dene</text>
<path d="M1327.8,572.23H1360.5" stroke="#222" stroke-width="0.5"/>
<text x="1020.5" y="578.3" font-size="5.2" textLength="54.6" lengthAdjust="spacingAndGlyphs">Selinum wallichianum</text>
<path d="M1020.5,579.01H1075.1" stroke="#222" stroke-width="0.5"/>
<text x="1154.0" y="578.3" font-size="5.2" textLength="10.9" lengthAdjust="spacingAndGlyphs">3Ltr</text>
<path d="M1154.0,579.01H1165.0" stroke="#222" stroke-width="0.5"/>
<text x="1201.9" y="578.3" font-size="5.2" textLength="8.2" lengthAdjust="spacingAndGlyphs">350</text>
<path d="M1201.9,579.01H1210.1" stroke="#222" stroke-width="0.5"/>
<text x="1251.5" y="578.3" font-size="5.2" textLength="2.7" lengthAdjust="spacingAndGlyphs">9</text>
<path d="M1251.5,579.01H1254.3" stroke="#222" stroke-width="0.5"/>
<text x="1295.5" y="578.3" font-size="5.2" textLength="5.5" lengthAdjust="spacingAndGlyphs">27</text>
<path d="M1295.5,579.01H1301.0" stroke="#222" stroke-width="0.5"/>
<text x="1327.8" y="578.3" font-size="5.2" textLength="32.8" lengthAdjust="spacingAndGlyphs">Orchard Dene</text>
<path d="M1327.8,579.01H1360.5" stroke="#222" stroke-width="0.5"/>
<text x="1020.5" y="585.1" font-size="5.2" textLength="32.8" lengthAdjust="spacingAndGlyphs">Typha minima</text>
<path d="M1020.5,585.79H1053.3" stroke="#222" stroke-width="0.5"/>
<text x="1154.0" y="585.1" font-size="5.2" textLength="10.9" lengthAdjust="spacingAndGlyphs">2Ltr</text>
<path d="M1154.0,585.79H1165.0" stroke="#222" stroke-width="0.5"/>
<text x="1201.9" y="585.1" font-size="5.2" textLength="8.2" lengthAdjust="spacingAndGlyphs">350</text>
<path d="M1201.9,585.79H1210.1" stroke="#222" stroke-width="0.5"/>
<text x="1251.5" y="585.1" font-size="5.2" textLength="2.7" lengthAdjust="spacingAndGlyphs">9</text>
<path d="M1251.5,585.79H1254.3" stroke="#222" stroke-width="0.5"/>
<text x="1294.2" y="585.1" font-size="5.2" textLength="8.2" lengthAdjust="spacingAndGlyphs">108</text>
<path d="M1294.2,585.79H1302.3" stroke="#222" stroke-width="0.5"/>
<text x="1320.9" y="585.1" font-size="5.2" textLength="46.4" lengthAdjust="spacingAndGlyphs">Waterside Nursery</text>
<path d="M1320.9,585.79H1367.4" stroke="#222" stroke-width="0.5"/>
<text x="1020.5" y="591.9" font-size="5.2" textLength="41.0" lengthAdjust="spacingAndGlyphs">Verbena hastata</text>
<path d="M1020.5,592.57H1061.5" stroke="#222" stroke-width="0.5"/>
<text x="1154.0" y="591.9" font-size="5.2" textLength="10.9" lengthAdjust="spacingAndGlyphs">3Ltr</text>
<path d="M1154.0,592.57H1165.0" stroke="#222" stroke-width="0.5"/>
<text x="1201.9" y="591.9" font-size="5.2" textLength="8.2" lengthAdjust="spacingAndGlyphs">400</text>
<path d="M1201.9,592.57H1210.1" stroke="#222" stroke-width="0.5"/>
<text x="1251.5" y="591.9" font-size="5.2" textLength="2.7" lengthAdjust="spacingAndGlyphs">4</text>
<path d="M1251.5,592.57H1254.3" stroke="#222" stroke-width="0.5"/>
<text x="1296.9" y="591.9" font-size="5.2" textLength="2.7" lengthAdjust="spacingAndGlyphs">8</text>
<path d="M1296.9,592.57H1299.6" stroke="#222" stroke-width="0.5"/>
<text x="1327.8" y="591.9" font-size="5.2" textLength="32.8" lengthAdjust="spacingAndGlyphs">Orchard Dene</text>
<path d="M1327.8,592.57H1360.5" stroke="#222" stroke-width="0.5"/>
<text x="975.9" y="598.7" font-size="5.2" textLength="10.9" lengthAdjust="spacingAndGlyphs">BULB</text>
<text x="1020.5" y="598.7" font-size="5.2" textLength="54.6" lengthAdjust="spacingAndGlyphs">Allium schoenoprasum</text>
<path d="M1020.5,599.36H1075.1" stroke="#222" stroke-width="0.5"/>
<text x="1154.0" y="598.7" font-size="5.2" textLength="10.9" lengthAdjust="spacingAndGlyphs">1Ltr</text>
<path d="M1154.0,599.36H1165.0" stroke="#222" stroke-width="0.5"/>
<text x="1201.9" y="598.7" font-size="5.2" textLength="8.2" lengthAdjust="spacingAndGlyphs">250</text>
<path d="M1201.9,599.36H1210.1" stroke="#222" stroke-width="0.5"/>
<text x="1250.2" y="598.7" font-size="5.2" textLength="5.5" lengthAdjust="spacingAndGlyphs">16</text>
<path d="M1250.2,599.36H1255.6" stroke="#222" stroke-width="0.5"/>
<text x="1295.5" y="598.7" font-size="5.2" textLength="5.5" lengthAdjust="spacingAndGlyphs">24</text>
<path d="M1295.5,599.36H1301.0" stroke="#222" stroke-width="0.5"/>
<text x="1327.8" y="598.7" font-size="5.2" textLength="32.8" lengthAdjust="spacingAndGlyphs">Orchard Dene</text>
<path d="M1327.8,599.36H1360.5" stroke="#222" stroke-width="0.5"/>
<text x="1020.5" y="605.4" font-size="5.2" textLength="46.4" lengthAdjust="spacingAndGlyphs">Allium schubertii</text>
<path d="M1020.5,606.14H1066.9" stroke="#222" stroke-width="0.5"/>
<text x="1154.0" y="605.4" font-size="5.2" textLength="10.9" lengthAdjust="spacingAndGlyphs">1Ltr</text>
<path d="M1154.0,606.14H1165.0" stroke="#222" stroke-width="0.5"/>
<text x="1201.9" y="605.4" font-size="5.2" textLength="8.2" lengthAdjust="spacingAndGlyphs">300</text>
<path d="M1201.9,606.14H1210.1" stroke="#222" stroke-width="0.5"/>
<text x="1251.5" y="605.4" font-size="5.2" textLength="2.7" lengthAdjust="spacingAndGlyphs">9</text>
<path d="M1251.5,606.14H1254.3" stroke="#222" stroke-width="0.5"/>
<text x="1295.5" y="605.4" font-size="5.2" textLength="5.5" lengthAdjust="spacingAndGlyphs">57</text>
<path d="M1295.5,606.14H1301.0" stroke="#222" stroke-width="0.5"/>
<text x="1316.9" y="605.4" font-size="5.2" textLength="54.6" lengthAdjust="spacingAndGlyphs">Bridgemere Nurseries</text>
<path d="M1316.9,606.14H1371.5" stroke="#222" stroke-width="0.5"/>
<text x="1020.5" y="612.2" font-size="5.2" textLength="68.2" lengthAdjust="spacingAndGlyphs">Hyacinthoides non-scripta</text>
<path d="M1020.5,612.92H1088.8" stroke="#222" stroke-width="0.5"/>
<text x="1154.0" y="612.2" font-size="5.2" textLength="10.9" lengthAdjust="spacingAndGlyphs">1Ltr</text>
<path d="M1154.0,612.92H1165.0" stroke="#222" stroke-width="0.5"/>
<text x="1201.9" y="612.2" font-size="5.2" textLength="8.2" lengthAdjust="spacingAndGlyphs">300</text>
<path d="M1201.9,612.92H1210.1" stroke="#222" stroke-width="0.5"/>
<text x="1251.5" y="612.2" font-size="5.2" textLength="2.7" lengthAdjust="spacingAndGlyphs">9</text>
<path d="M1251.5,612.92H1254.3" stroke="#222" stroke-width="0.5"/>
<text x="1295.5" y="612.2" font-size="5.2" textLength="5.5" lengthAdjust="spacingAndGlyphs">18</text>
<path d="M1295.5,612.92H1301.0" stroke="#222" stroke-width="0.5"/>
<text x="1333.2" y="612.2" font-size="5.2" textLength="21.8" lengthAdjust="spacingAndGlyphs">J Parker</text>
<path d="M1333.2,612.92H1355.1" stroke="#222" stroke-width="0.5"/>
<text x="1020.5" y="619.0" font-size="5.2" textLength="87.4" lengthAdjust="spacingAndGlyphs">Narcissus rupicola subsp.watieri</text>
<path d="M1020.5,619.70H1107.9" stroke="#222" stroke-width="0.5"/>
<text x="1154.0" y="619.0" font-size="5.2" textLength="10.9" lengthAdjust="spacingAndGlyphs">1Ltr</text>
<path d="M1154.0,619.70H1165.0" stroke="#222" stroke-width="0.5"/>
<text x="1201.9" y="619.0" font-size="5.2" textLength="8.2" lengthAdjust="spacingAndGlyphs">300</text>
<path d="M1201.9,619.70H1210.1" stroke="#222" stroke-width="0.5"/>
<text x="1251.5" y="619.0" font-size="5.2" textLength="2.7" lengthAdjust="spacingAndGlyphs">9</text>
<path d="M1251.5,619.70H1254.3" stroke="#222" stroke-width="0.5"/>
<text x="1295.5" y="619.0" font-size="5.2" textLength="5.5" lengthAdjust="spacingAndGlyphs">30</text>
<path d="M1295.5,619.70H1301.0" stroke="#222" stroke-width="0.5"/>
<text x="1322.3" y="619.0" font-size="5.2" textLength="43.7" lengthAdjust="spacingAndGlyphs">S &amp; S Perennials</text>
<path d="M1322.3,619.70H1366.0" stroke="#222" stroke-width="0.5"/>
<text x="975.9" y="625.8" font-size="5.2" textLength="13.7" lengthAdjust="spacingAndGlyphs">GRASS</text>
<text x="1020.5" y="625.8" font-size="5.2" textLength="71.0" lengthAdjust="spacingAndGlyphs">Calamagrostis × acutiflora</text>
<path d="M1020.5,626.49H1091.5" stroke="#222" stroke-width="0.5"/>
<text x="1154.0" y="625.8" font-size="5.2" textLength="10.9" lengthAdjust="spacingAndGlyphs">2Ltr</text>
<path d="M1154.0,626.49H1165.0" stroke="#222" stroke-width="0.5"/>
<text x="1201.9" y="625.8" font-size="5.2" textLength="8.2" lengthAdjust="spacingAndGlyphs">500</text>
<path d="M1201.9,626.49H1210.1" stroke="#222" stroke-width="0.5"/>
<text x="1251.5" y="625.8" font-size="5.2" textLength="2.7" lengthAdjust="spacingAndGlyphs">5</text>
<path d="M1251.5,626.49H1254.3" stroke="#222" stroke-width="0.5"/>
<text x="1295.5" y="625.8" font-size="5.2" textLength="5.5" lengthAdjust="spacingAndGlyphs">54</text>
<path d="M1295.5,626.49H1301.0" stroke="#222" stroke-width="0.5"/>
<text x="1327.8" y="625.8" font-size="5.2" textLength="32.8" lengthAdjust="spacingAndGlyphs">Orchard Dene</text>
<path d="M1327.8,626.49H1360.5" stroke="#222" stroke-width="0.5"/>
<text x="1020.5" y="632.6" font-size="5.2" textLength="49.1" lengthAdjust="spacingAndGlyphs">Carex eleta'Aurea'</text>
<path d="M1020.5,633.27H1069.6" stroke="#222" stroke-width="0.5"/>
<text x="1154.0" y="632.6" font-size="5.2" textLength="10.9" lengthAdjust="spacingAndGlyphs">1Ltr</text>
<path d="M1154.0,633.27H1165.0" stroke="#222" stroke-width="0.5"/>
<text x="1201.9" y="632.6" font-size="5.2" textLength="8.2" lengthAdjust="spacingAndGlyphs">300</text>
<path d="M1201.9,633.27H1210.1" stroke="#222" stroke-width="0.5"/>
<text x="1250.2" y="632.6" font-size="5.2" textLength="5.5" lengthAdjust="spacingAndGlyphs">16</text>
<path d="M1250.2,633.27H1255.6" stroke="#222" stroke-width="0.5"/>
<text x="1295.5" y="632.6" font-size="5.2" textLength="5.5" lengthAdjust="spacingAndGlyphs">53</text>
<path d="M1295.5,633.27H1301.0" stroke="#222" stroke-width="0.5"/>
<text x="1327.8" y="632.6" font-size="5.2" textLength="32.8" lengthAdjust="spacingAndGlyphs">Orchard Dene</text>
<path d="M1327.8,633.27H1360.5" stroke="#222" stroke-width="0.5"/>
<text x="1020.5" y="639.3" font-size="5.2" textLength="81.9" lengthAdjust="spacingAndGlyphs">Deschampsia cespitosa'Goldtau'</text>
<path d="M1020.5,640.05H1102.4" stroke="#222" stroke-width="0.5"/>
<text x="1154.0" y="639.3" font-size="5.2" textLength="10.9" lengthAdjust="spacingAndGlyphs">2Ltr</text>
<path d="M1154.0,640.05H1165.0" stroke="#222" stroke-width="0.5"/>
<text x="1201.9" y="639.3" font-size="5.2" textLength="8.2" lengthAdjust="spacingAndGlyphs">500</text>
<path d="M1201.9,640.05H1210.1" stroke="#222" stroke-width="0.5"/>
<text x="1251.5" y="639.3" font-size="5.2" textLength="2.7" lengthAdjust="spacingAndGlyphs">5</text>
<path d="M1251.5,640.05H1254.3" stroke="#222" stroke-width="0.5"/>
<text x="1295.5" y="639.3" font-size="5.2" textLength="5.5" lengthAdjust="spacingAndGlyphs">90</text>
<path d="M1295.5,640.05H1301.0" stroke="#222" stroke-width="0.5"/>
<text x="1327.8" y="639.3" font-size="5.2" textLength="32.8" lengthAdjust="spacingAndGlyphs">Orchard Dene</text>
<path d="M1327.8,640.05H1360.5" stroke="#222" stroke-width="0.5"/>
</g>
<g fill="none" stroke="#111" stroke-width="0.9">
<rect x="975.1" y="674.4" width="250.5" height="61.7" stroke-width="1.15"/>
<path d="M975.1,681.26H1225.6M975.1,688.11H1225.6M975.1,694.97H1225.6M975.1,701.82H1225.6M975.1,708.68H1225.6M975.1,715.53H1225.6M975.1,722.39H1225.6M975.1,729.24H1225.6M1019.5,674.4V736.1M1131.5,674.4V736.1M1186.5,674.4V736.1"/>
</g>
<g class="tb">
<text x="1020.3" y="680.3" font-size="5.2" textLength="27.3" lengthAdjust="spacingAndGlyphs" font-weight="bold">Plant Name</text>
<path d="M1020.3,681.01H1047.6" stroke="#222" stroke-width="0.5"/>
<text x="1154.9" y="680.3" font-size="5.2" textLength="8.2" lengthAdjust="spacingAndGlyphs" font-weight="bold">Qty</text>
<path d="M1154.9,681.01H1163.1" stroke="#222" stroke-width="0.5"/>
<text x="1195.1" y="680.3" font-size="5.2" textLength="21.8" lengthAdjust="spacingAndGlyphs" font-weight="bold">% of mix</text>
<path d="M1195.1,681.01H1217.0" stroke="#222" stroke-width="0.5"/>
<text x="975.9" y="687.2" font-size="5.2" textLength="13.7" lengthAdjust="spacingAndGlyphs">Mix 1</text>
<text x="1020.3" y="687.2" font-size="5.2" textLength="109.2" lengthAdjust="spacingAndGlyphs">Campanula lactiflora'Prichard's Variety'</text>
<path d="M1020.3,687.86H1129.5" stroke="#222" stroke-width="0.5"/>
<text x="1156.3" y="687.2" font-size="5.2" textLength="5.5" lengthAdjust="spacingAndGlyphs">33</text>
<path d="M1156.3,687.86H1161.7" stroke="#222" stroke-width="0.5"/>
<text x="1203.3" y="687.2" font-size="5.2" textLength="5.5" lengthAdjust="spacingAndGlyphs">20</text>
<path d="M1203.3,687.86H1208.8" stroke="#222" stroke-width="0.5"/>
<text x="1020.3" y="694.0" font-size="5.2" textLength="35.5" lengthAdjust="spacingAndGlyphs">Daucus carota</text>
<path d="M1020.3,694.72H1055.8" stroke="#222" stroke-width="0.5"/>
<text x="1156.3" y="694.0" font-size="5.2" textLength="5.5" lengthAdjust="spacingAndGlyphs">43</text>
<path d="M1156.3,694.72H1161.7" stroke="#222" stroke-width="0.5"/>
<text x="1203.3" y="694.0" font-size="5.2" textLength="5.5" lengthAdjust="spacingAndGlyphs">15</text>
<path d="M1203.3,694.72H1208.8" stroke="#222" stroke-width="0.5"/>
<text x="1020.3" y="700.9" font-size="5.2" textLength="51.9" lengthAdjust="spacingAndGlyphs">Hesperis matronalis</text>
<path d="M1020.3,701.57H1072.2" stroke="#222" stroke-width="0.5"/>
<text x="1156.3" y="700.9" font-size="5.2" textLength="5.5" lengthAdjust="spacingAndGlyphs">16</text>
<path d="M1156.3,701.57H1161.7" stroke="#222" stroke-width="0.5"/>
<text x="1203.3" y="700.9" font-size="5.2" textLength="5.5" lengthAdjust="spacingAndGlyphs">10</text>
<path d="M1203.3,701.57H1208.8" stroke="#222" stroke-width="0.5"/>
<text x="1020.3" y="707.7" font-size="5.2" textLength="46.4" lengthAdjust="spacingAndGlyphs">Lychnis coronaria</text>
<path d="M1020.3,708.43H1066.7" stroke="#222" stroke-width="0.5"/>
<text x="1156.3" y="707.7" font-size="5.2" textLength="5.5" lengthAdjust="spacingAndGlyphs">23</text>
<path d="M1156.3,708.43H1161.7" stroke="#222" stroke-width="0.5"/>
<text x="1203.3" y="707.7" font-size="5.2" textLength="5.5" lengthAdjust="spacingAndGlyphs">25</text>
<path d="M1203.3,708.43H1208.8" stroke="#222" stroke-width="0.5"/>
<text x="1020.3" y="714.6" font-size="5.2" textLength="46.4" lengthAdjust="spacingAndGlyphs">Allium schubertii</text>
<path d="M1020.3,715.28H1066.7" stroke="#222" stroke-width="0.5"/>
<text x="1156.3" y="714.6" font-size="5.2" textLength="5.5" lengthAdjust="spacingAndGlyphs">57</text>
<path d="M1156.3,715.28H1161.7" stroke="#222" stroke-width="0.5"/>
<text x="1203.3" y="714.6" font-size="5.2" textLength="5.5" lengthAdjust="spacingAndGlyphs">35</text>
<path d="M1203.3,715.28H1208.8" stroke="#222" stroke-width="0.5"/>
<text x="975.9" y="721.4" font-size="5.2" textLength="13.7" lengthAdjust="spacingAndGlyphs">Mix 2</text>
<text x="1020.3" y="721.4" font-size="5.2" textLength="54.6" lengthAdjust="spacingAndGlyphs">Filipendula purpurea</text>
<path d="M1020.3,722.14H1074.9" stroke="#222" stroke-width="0.5"/>
<text x="1156.3" y="721.4" font-size="5.2" textLength="5.5" lengthAdjust="spacingAndGlyphs">31</text>
<path d="M1156.3,722.14H1161.7" stroke="#222" stroke-width="0.5"/>
<text x="1203.3" y="721.4" font-size="5.2" textLength="5.5" lengthAdjust="spacingAndGlyphs">35</text>
<path d="M1203.3,722.14H1208.8" stroke="#222" stroke-width="0.5"/>
<text x="1020.3" y="728.3" font-size="5.2" textLength="71.0" lengthAdjust="spacingAndGlyphs">Persicaria affine'Superba'</text>
<path d="M1020.3,728.99H1091.3" stroke="#222" stroke-width="0.5"/>
<text x="1156.3" y="728.3" font-size="5.2" textLength="5.5" lengthAdjust="spacingAndGlyphs">58</text>
<path d="M1156.3,728.99H1161.7" stroke="#222" stroke-width="0.5"/>
<text x="1203.3" y="728.3" font-size="5.2" textLength="5.5" lengthAdjust="spacingAndGlyphs">45</text>
<path d="M1203.3,728.99H1208.8" stroke="#222" stroke-width="0.5"/>
<text x="1020.3" y="735.1" font-size="5.2" textLength="92.8" lengthAdjust="spacingAndGlyphs">Persicaria amplexicaulis'Firetail'</text>
<path d="M1020.3,735.85H1113.1" stroke="#222" stroke-width="0.5"/>
<text x="1156.3" y="735.1" font-size="5.2" textLength="5.5" lengthAdjust="spacingAndGlyphs">26</text>
<path d="M1156.3,735.85H1161.7" stroke="#222" stroke-width="0.5"/>
<text x="1203.3" y="735.1" font-size="5.2" textLength="5.5" lengthAdjust="spacingAndGlyphs">20</text>
<path d="M1203.3,735.85H1208.8" stroke="#222" stroke-width="0.5"/>
</g>
<!-- compass -->
<g fill="none" stroke="#1a1a1a" stroke-width="0.95">
<circle cx="831" cy="457" r="16.2"/>
<path d="M812,434L850.5,480"/>
<path d="M796.5,485.5L860.5,432.5"/>
<path d="M796.5,485.5L845.5,435.5L844.2,444.6L854.5,446.8Z"/>
<path d="M802,481L838,441M804,480L847,444.5"/>
</g>
<g fill="#fff" stroke="#111" stroke-width="0.9">
<rect x="-5.2" y="-2" width="10.4" height="4" transform="translate(828.5,453.8) rotate(-38)"/>
<rect x="-5.2" y="-2" width="10.4" height="4" transform="translate(833.6,460.0) rotate(-38)"/>
<path d="M829,450.5L833,463.5" fill="none"/>
</g>
<g class="scale"><text x="861.0" y="471.0" font-size="13.5" textLength="36.0" lengthAdjust="spacingAndGlyphs" font-weight="bold">1:50</text></g>
<!-- sections -->
<g fill="none" stroke="#2c2c2c" stroke-width="0.95">
<path d="M137.8,472.2V673.3M104.3,472.2H137.8M113.6,505.3H137.8M120.6,538.6H137.8M126.0,572.1H137.8M119.6,605.3H137.8M127.6,638.3H137.8M115.4,673.3H137.8"/>
</g><g class="ax">
<text x="89.4" y="474.6" font-size="6.5" textLength="8.7" lengthAdjust="spacingAndGlyphs">5m</text>
<text x="100.9" y="507.7" font-size="6.5" textLength="9.0" lengthAdjust="spacingAndGlyphs">4m</text>
<text x="107.0" y="541.0" font-size="6.5" textLength="7.9" lengthAdjust="spacingAndGlyphs">3m</text>
<text x="112.7" y="574.5" font-size="6.5" textLength="8.5" lengthAdjust="spacingAndGlyphs">2m</text>
<text x="110.6" y="607.7" font-size="6.5" textLength="7.1" lengthAdjust="spacingAndGlyphs">1m</text>
<text x="118.6" y="639.6" font-size="6.5" textLength="3.2" lengthAdjust="spacingAndGlyphs">0</text>
<text x="108.3" y="675.7" font-size="6.5" textLength="11.9" lengthAdjust="spacingAndGlyphs">-1m</text>
</g>
<path d="M588,638.4H849" stroke="#6f6fff" stroke-width="0.7" fill="none"/>
<path d="M152.2,596.1C151.5,593.4 149.8,584.9 148.3,580.3C146.8,575.8 145.1,572.4 143.3,569.0C141.6,565.6 139.4,562.4 137.7,559.8C136.0,557.3 132.8,554.3 133.1,553.8C133.3,553.3 137.3,555.5 139.1,557.0C140.9,558.5 142.4,560.5 144.1,562.7C145.7,564.8 147.8,567.3 149.0,569.7C150.2,572.2 150.8,573.1 151.5,577.5C152.2,581.9 153.0,593.0 153.3,596.1M152.9,596.1C152.6,592.5 151.8,580.7 151.1,574.7C150.5,568.6 150.0,564.9 149.0,559.8C148.1,554.7 145.4,544.8 145.5,544.3C145.5,543.7 148.3,552.9 149.4,556.3C150.4,559.7 151.2,561.7 151.8,564.8C152.5,567.8 152.8,569.5 153.3,574.7C153.7,579.9 154.4,592.5 154.7,596.1M154.7,596.1C154.3,591.5 152.6,575.3 152.2,569.0C151.8,562.7 152.0,561.2 152.2,558.4C152.4,555.6 152.9,551.2 153.3,552.0C153.6,552.9 154.0,559.6 154.3,563.4C154.7,567.1 155.0,569.2 155.4,574.7C155.8,580.1 156.6,592.5 156.8,596.1M157.5,596.1C157.4,591.8 156.8,576.8 157.1,570.4C157.5,564.0 158.7,561.5 159.6,557.7C160.5,553.9 162.3,547.7 162.5,547.8C162.6,547.9 161.3,554.4 160.7,558.4C160.1,562.4 159.2,565.6 158.9,571.9C158.7,578.1 159.2,592.0 159.3,596.1M159.6,596.1C159.7,591.8 159.5,576.7 160.3,570.4C161.2,564.2 162.7,562.2 164.6,558.4C166.4,554.6 170.8,547.9 171.3,547.8C171.8,547.7 168.9,554.3 167.4,557.7C165.9,561.1 163.5,561.9 162.5,568.3C161.4,574.7 161.3,591.4 161.0,596.1M161.7,574.7C162.6,572.4 164.9,565.1 166.7,561.2C168.5,557.3 172.1,551.3 172.4,551.3C172.7,551.3 169.9,557.7 168.5,561.2C167.0,564.8 164.3,570.7 163.5,572.6M161.7,596.1C161.9,593.0 162.1,581.8 162.5,577.5C162.8,573.2 162.6,572.8 163.9,570.4C165.2,568.1 167.3,565.2 170.2,563.4C173.1,561.5 180.5,559.2 181.2,559.5C181.9,559.7 176.8,562.5 174.5,564.8C172.2,567.1 169.1,570.7 167.4,573.3C165.7,575.9 164.9,576.5 164.2,580.3C163.5,584.1 163.3,593.4 163.2,596.1" fill="none" stroke="#56e22c" stroke-width="0.62" stroke-linejoin="round"/>
<path d="M250.7,602.2C250.0,599.5 248.3,591.0 246.8,586.5C245.3,581.9 243.6,578.6 241.8,575.1C240.1,571.7 237.9,568.5 236.2,565.9C234.5,563.4 231.3,560.4 231.6,559.9C231.8,559.4 235.8,561.6 237.6,563.1C239.4,564.6 240.9,566.6 242.6,568.8C244.2,570.9 246.3,573.4 247.5,575.8C248.7,578.3 249.3,579.2 250.0,583.6C250.7,588.0 251.5,599.1 251.8,602.2M251.4,602.2C251.1,598.6 250.3,586.8 249.6,580.8C249.0,574.8 248.5,571.0 247.5,565.9C246.6,560.9 243.9,550.9 244.0,550.4C244.0,549.8 246.8,559.0 247.9,562.4C248.9,565.8 249.7,567.8 250.3,570.9C251.0,574.0 251.3,575.6 251.8,580.8C252.2,586.0 252.9,598.6 253.2,602.2M253.2,602.2C252.8,597.7 251.1,581.4 250.7,575.1C250.3,568.9 250.5,567.3 250.7,564.5C250.9,561.7 251.4,557.3 251.8,558.1C252.1,559.0 252.5,565.7 252.8,569.5C253.2,573.2 253.5,575.3 253.9,580.8C254.3,586.2 255.1,598.6 255.3,602.2M256.0,602.2C255.9,597.9 255.3,582.9 255.6,576.5C256.0,570.2 257.2,567.6 258.1,563.8C259.0,560.0 260.8,553.8 261.0,553.9C261.1,554.0 259.8,560.5 259.2,564.5C258.6,568.5 257.7,571.7 257.4,578.0C257.2,584.2 257.7,598.1 257.8,602.2M258.1,602.2C258.2,597.9 258.0,582.8 258.8,576.5C259.7,570.3 261.2,568.3 263.1,564.5C264.9,560.7 269.3,554.0 269.8,553.9C270.3,553.8 267.4,560.4 265.9,563.8C264.4,567.2 262.0,568.0 261.0,574.4C259.9,580.8 259.8,597.5 259.5,602.2M260.2,580.8C261.1,578.6 263.4,571.2 265.2,567.3C267.0,563.5 270.6,557.4 270.9,557.4C271.2,557.4 268.4,563.8 267.0,567.3C265.5,570.9 262.8,576.8 262.0,578.7M260.2,602.2C260.4,599.1 260.6,587.9 261.0,583.6C261.3,579.4 261.1,578.9 262.4,576.5C263.7,574.2 265.8,571.3 268.7,569.5C271.6,567.6 279.0,565.3 279.7,565.6C280.4,565.8 275.3,568.6 273.0,570.9C270.7,573.2 267.6,576.8 265.9,579.4C264.2,582.0 263.4,582.7 262.7,586.5C262.0,590.3 261.8,599.5 261.7,602.2" fill="none" stroke="#56e22c" stroke-width="0.62" stroke-linejoin="round"/>
<path d="M261.4,602.5C260.7,599.9 259.0,591.3 257.5,586.8C256.0,582.3 254.3,578.9 252.5,575.5C250.8,572.1 248.6,568.8 246.9,566.3C245.2,563.7 242.0,560.7 242.3,560.3C242.5,559.8 246.5,562.0 248.3,563.5C250.1,564.9 251.6,567.0 253.3,569.1C254.9,571.2 257.0,573.7 258.2,576.2C259.4,578.7 260.0,579.6 260.7,584.0C261.4,588.4 262.2,599.4 262.5,602.5M262.1,602.5C261.8,599.0 261.0,587.2 260.3,581.1C259.7,575.1 259.2,571.4 258.2,566.3C257.3,561.2 254.6,551.3 254.7,550.7C254.7,550.1 257.5,559.3 258.6,562.7C259.6,566.2 260.4,568.2 261.0,571.2C261.7,574.3 262.0,575.9 262.5,581.1C262.9,586.4 263.6,599.0 263.9,602.5M263.9,602.5C263.5,598.0 261.8,581.8 261.4,575.5C261.0,569.2 261.2,567.7 261.4,564.9C261.6,562.0 262.1,557.7 262.5,558.5C262.8,559.3 263.2,566.0 263.5,569.8C263.9,573.6 264.2,575.7 264.6,581.1C265.0,586.6 265.8,599.0 266.0,602.5M266.7,602.5C266.6,598.2 266.0,583.3 266.3,576.9C266.7,570.5 267.9,567.9 268.8,564.2C269.7,560.4 271.5,554.1 271.7,554.3C271.8,554.4 270.5,560.9 269.9,564.9C269.3,568.9 268.4,572.0 268.1,578.3C267.9,584.6 268.4,598.5 268.5,602.5M268.8,602.5C268.9,598.2 268.7,583.2 269.5,576.9C270.4,570.6 271.9,568.6 273.8,564.9C275.6,561.1 280.0,554.4 280.5,554.3C281.0,554.1 278.1,560.7 276.6,564.2C275.1,567.6 272.7,568.4 271.7,574.8C270.6,581.2 270.5,597.9 270.2,602.5M270.9,581.1C271.8,578.9 274.1,571.6 275.9,567.7C277.7,563.8 281.3,557.8 281.6,557.8C281.9,557.8 279.1,564.2 277.7,567.7C276.2,571.2 273.5,577.1 272.7,579.0M270.9,602.5C271.1,599.4 271.3,588.2 271.7,584.0C272.0,579.7 271.8,579.3 273.1,576.9C274.4,574.5 276.5,571.6 279.4,569.8C282.3,568.0 289.7,565.7 290.4,565.9C291.1,566.2 286.0,568.9 283.7,571.2C281.4,573.5 278.3,577.1 276.6,579.7C274.9,582.3 274.1,583.0 273.4,586.8C272.7,590.6 272.5,599.9 272.4,602.5" fill="none" stroke="#56e22c" stroke-width="0.62" stroke-linejoin="round"/>
<path d="M459.7,618.2C459.0,615.6 457.3,607.0 455.8,602.5C454.3,598.0 452.6,594.6 450.8,591.2C449.1,587.8 446.9,584.5 445.2,582.0C443.5,579.4 440.3,576.4 440.6,576.0C440.8,575.5 444.8,577.7 446.6,579.2C448.4,580.6 449.9,582.7 451.6,584.8C453.2,586.9 455.3,589.4 456.5,591.9C457.7,594.4 458.3,595.3 459.0,599.7C459.7,604.1 460.5,615.1 460.8,618.2M460.4,618.2C460.1,614.7 459.3,602.9 458.6,596.8C458.0,590.8 457.5,587.1 456.5,582.0C455.6,576.9 452.9,567.0 453.0,566.4C453.0,565.8 455.8,575.0 456.9,578.4C457.9,581.9 458.7,583.9 459.3,586.9C460.0,590.0 460.3,591.6 460.8,596.8C461.2,602.1 461.9,614.7 462.2,618.2M462.2,618.2C461.8,613.7 460.1,597.5 459.7,591.2C459.3,584.9 459.5,583.4 459.7,580.6C459.9,577.7 460.4,573.4 460.8,574.2C461.1,575.0 461.5,581.7 461.8,585.5C462.2,589.3 462.5,591.4 462.9,596.8C463.3,602.3 464.1,614.7 464.3,618.2M465.0,618.2C464.9,613.9 464.3,599.0 464.6,592.6C465.0,586.2 466.2,583.6 467.1,579.9C468.0,576.1 469.8,569.8 470.0,569.9C470.1,570.1 468.8,576.6 468.2,580.6C467.6,584.6 466.7,587.7 466.4,594.0C466.2,600.3 466.7,614.2 466.8,618.2M467.1,618.2C467.2,613.9 467.0,598.9 467.8,592.6C468.7,586.3 470.2,584.3 472.1,580.6C473.9,576.8 478.3,570.1 478.8,569.9C479.3,569.8 476.4,576.4 474.9,579.9C473.4,583.3 471.0,584.1 470.0,590.5C468.9,596.9 468.8,613.6 468.5,618.2M469.2,596.8C470.1,594.6 472.4,587.3 474.2,583.4C476.0,579.5 479.6,573.5 479.9,573.5C480.2,573.5 477.4,579.9 476.0,583.4C474.5,586.9 471.8,592.8 471.0,594.7M469.2,618.2C469.4,615.1 469.6,603.9 470.0,599.7C470.3,595.4 470.1,595.0 471.4,592.6C472.7,590.2 474.8,587.3 477.7,585.5C480.6,583.7 488.0,581.4 488.7,581.6C489.4,581.9 484.3,584.6 482.0,586.9C479.7,589.2 476.6,592.8 474.9,595.4C473.2,598.0 472.4,598.7 471.7,602.5C471.0,606.3 470.8,615.6 470.7,618.2" fill="none" stroke="#56e22c" stroke-width="0.62" stroke-linejoin="round"/>
<path d="M470.4,619.1C469.7,616.5 468.0,607.9 466.5,603.4C465.0,598.9 463.3,595.5 461.5,592.1C459.8,588.7 457.6,585.4 455.9,582.9C454.2,580.3 451.0,577.3 451.3,576.9C451.5,576.4 455.5,578.6 457.3,580.1C459.1,581.5 460.6,583.6 462.3,585.7C463.9,587.8 466.0,590.3 467.2,592.8C468.4,595.3 469.0,596.2 469.7,600.6C470.4,605.0 471.2,616.0 471.5,619.1M471.1,619.1C470.8,615.6 470.0,603.8 469.3,597.7C468.7,591.7 468.2,588.0 467.2,582.9C466.3,577.8 463.6,567.9 463.7,567.3C463.7,566.7 466.5,575.9 467.6,579.3C468.6,582.8 469.4,584.8 470.0,587.8C470.7,590.9 471.0,592.5 471.5,597.7C471.9,603.0 472.6,615.6 472.9,619.1M472.9,619.1C472.5,614.6 470.8,598.4 470.4,592.1C470.0,585.8 470.2,584.3 470.4,581.5C470.6,578.6 471.1,574.3 471.5,575.1C471.8,575.9 472.2,582.6 472.5,586.4C472.9,590.2 473.2,592.3 473.6,597.7C474.0,603.2 474.8,615.6 475.0,619.1M475.7,619.1C475.6,614.8 475.0,599.9 475.3,593.5C475.7,587.1 476.9,584.5 477.8,580.8C478.7,577.0 480.5,570.7 480.7,570.9C480.8,571.0 479.5,577.5 478.9,581.5C478.3,585.5 477.4,588.6 477.1,594.9C476.9,601.2 477.4,615.1 477.5,619.1M477.8,619.1C477.9,614.8 477.7,599.8 478.5,593.5C479.4,587.2 480.9,585.2 482.8,581.5C484.6,577.7 489.0,571.0 489.5,570.9C490.0,570.7 487.1,577.3 485.6,580.8C484.1,584.2 481.7,585.0 480.7,591.4C479.6,597.8 479.5,614.5 479.2,619.1M479.9,597.7C480.8,595.5 483.1,588.2 484.9,584.3C486.7,580.4 490.3,574.4 490.6,574.4C490.9,574.4 488.1,580.8 486.7,584.3C485.2,587.8 482.5,593.7 481.7,595.6M479.9,619.1C480.1,616.0 480.3,604.8 480.7,600.6C481.0,596.3 480.8,595.9 482.1,593.5C483.4,591.1 485.5,588.3 488.4,586.4C491.3,584.6 498.7,582.3 499.4,582.5C500.1,582.8 495.0,585.5 492.7,587.8C490.4,590.1 487.3,593.7 485.6,596.3C483.9,598.9 483.1,599.6 482.4,603.4C481.7,607.2 481.5,616.5 481.4,619.1" fill="none" stroke="#56e22c" stroke-width="0.62" stroke-linejoin="round"/>
<path d="M855.0,635.1C854.4,632.4 852.9,623.5 851.7,618.8C850.4,614.1 849.0,610.6 847.5,607.0C846.0,603.5 844.1,600.1 842.7,597.4C841.2,594.8 838.5,591.7 838.7,591.2C838.9,590.7 842.3,593.0 843.9,594.5C845.4,596.0 846.7,598.2 848.1,600.4C849.5,602.6 851.2,605.2 852.3,607.7C853.3,610.3 853.8,611.3 854.4,615.8C855.0,620.4 855.6,631.9 855.9,635.1M855.6,635.1C855.3,631.4 854.6,619.2 854.1,612.9C853.5,606.6 853.1,602.7 852.3,597.4C851.5,592.2 849.2,581.9 849.3,581.3C849.3,580.6 851.7,590.2 852.6,593.8C853.5,597.3 854.1,599.4 854.7,602.6C855.2,605.8 855.5,607.5 855.9,612.9C856.3,618.3 856.9,631.4 857.1,635.1M857.1,635.1C856.7,630.4 855.3,613.5 855.0,607.0C854.6,600.5 854.8,598.9 855.0,596.0C855.1,593.0 855.6,588.5 855.9,589.3C856.2,590.2 856.5,597.2 856.8,601.1C857.1,605.1 857.3,607.2 857.7,612.9C858.0,618.6 858.7,631.4 858.9,635.1M859.5,635.1C859.4,630.7 858.9,615.1 859.2,608.5C859.5,601.8 860.6,599.2 861.3,595.2C862.1,591.3 863.6,584.8 863.7,584.9C863.9,585.1 862.7,591.8 862.2,596.0C861.7,600.1 860.9,603.4 860.7,610.0C860.5,616.5 861.0,630.9 861.0,635.1M861.3,635.1C861.4,630.7 861.2,615.0 861.9,608.5C862.6,602.0 864.0,599.9 865.5,596.0C867.1,592.0 870.8,585.1 871.2,584.9C871.6,584.8 869.2,591.7 867.9,595.2C866.7,598.8 864.6,599.6 863.7,606.3C862.8,612.9 862.7,630.3 862.5,635.1M863.1,612.9C863.8,610.6 865.8,603.0 867.3,598.9C868.8,594.9 871.9,588.6 872.1,588.6C872.4,588.6 870.1,595.2 868.8,598.9C867.6,602.6 865.3,608.7 864.6,610.7M863.1,635.1C863.2,631.9 863.4,620.3 863.7,615.8C864.0,611.4 863.8,610.9 864.9,608.5C866.0,606.0 867.9,603.0 870.3,601.1C872.8,599.2 879.1,596.8 879.7,597.1C880.3,597.3 875.9,600.2 873.9,602.6C872.0,605.0 869.4,608.7 867.9,611.4C866.5,614.1 865.8,614.8 865.2,618.8C864.6,622.7 864.5,632.4 864.3,635.1" fill="none" stroke="#56e22c" stroke-width="0.62" stroke-linejoin="round"/>
<path d="M899.1,630.0C898.4,627.1 896.6,617.7 895.1,612.7C893.6,607.7 891.9,604.0 890.1,600.2C888.3,596.5 886.0,592.9 884.3,590.1C882.5,587.3 879.4,584.0 879.6,583.5C879.8,583.0 883.9,585.4 885.7,587.0C887.6,588.6 889.1,590.9 890.8,593.2C892.5,595.6 894.6,598.3 895.8,601.0C897.1,603.7 897.6,604.8 898.4,609.6C899.1,614.4 899.9,626.6 900.2,630.0M899.8,630.0C899.5,626.1 898.7,613.1 898.0,606.5C897.3,599.8 896.8,595.7 895.8,590.1C894.9,584.5 892.2,573.6 892.2,573.0C892.3,572.3 895.1,582.5 896.2,586.2C897.3,590.0 898.1,592.2 898.7,595.6C899.4,598.9 899.7,600.7 900.2,606.5C900.7,612.2 901.4,626.1 901.6,630.0M901.6,630.0C901.2,625.0 899.5,607.1 899.1,600.2C898.7,593.3 898.9,591.7 899.1,588.6C899.3,585.4 899.8,580.6 900.2,581.6C900.5,582.5 900.9,589.9 901.3,594.0C901.6,598.2 901.9,600.5 902.3,606.5C902.8,612.5 903.5,626.1 903.8,630.0M904.5,630.0C904.4,625.3 903.8,608.8 904.1,601.8C904.5,594.8 905.8,591.9 906.7,587.8C907.6,583.6 909.4,576.8 909.6,576.9C909.7,577.0 908.3,584.2 907.7,588.6C907.1,593.0 906.2,596.5 905.9,603.4C905.7,610.3 906.2,625.5 906.3,630.0M906.7,630.0C906.8,625.3 906.5,608.7 907.4,601.8C908.2,594.9 909.9,592.7 911.7,588.6C913.6,584.4 918.1,577.0 918.6,576.9C919.1,576.8 916.1,584.0 914.6,587.8C913.1,591.5 910.6,592.4 909.6,599.5C908.5,606.5 908.3,624.9 908.1,630.0M908.8,606.5C909.7,604.0 912.1,596.0 913.9,591.7C915.7,587.4 919.4,580.8 919.7,580.8C920.0,580.8 917.2,587.8 915.7,591.7C914.2,595.6 911.5,602.1 910.6,604.1M908.8,630.0C909.0,626.6 909.2,614.3 909.6,609.6C909.9,604.9 909.7,604.4 911.0,601.8C912.3,599.2 914.5,596.0 917.5,594.0C920.4,592.0 928.0,589.5 928.7,589.7C929.4,590.0 924.2,593.0 921.8,595.6C919.5,598.1 916.4,602.1 914.6,604.9C912.9,607.8 912.1,608.5 911.4,612.7C910.6,616.9 910.5,627.1 910.3,630.0" fill="none" stroke="#56e22c" stroke-width="0.62" stroke-linejoin="round"/>
<path d="M910.1,629.5C909.4,626.6 907.6,617.2 906.1,612.2C904.6,607.3 902.9,603.5 901.1,599.8C899.3,596.0 897.0,592.4 895.3,589.6C893.5,586.8 890.4,583.5 890.6,583.0C890.8,582.5 894.9,584.9 896.7,586.5C898.6,588.1 900.1,590.4 901.8,592.7C903.5,595.1 905.6,597.8 906.8,600.5C908.1,603.3 908.6,604.3 909.4,609.1C910.1,613.9 910.9,626.1 911.2,629.5M910.8,629.5C910.5,625.6 909.7,612.6 909.0,606.0C908.3,599.3 907.8,595.2 906.8,589.6C905.9,584.1 903.2,573.2 903.2,572.5C903.3,571.9 906.1,582.0 907.2,585.7C908.3,589.5 909.1,591.7 909.7,595.1C910.4,598.5 910.7,600.2 911.2,606.0C911.7,611.7 912.4,625.6 912.6,629.5M912.6,629.5C912.2,624.5 910.5,606.7 910.1,599.8C909.7,592.9 909.9,591.2 910.1,588.1C910.3,585.0 910.8,580.2 911.2,581.1C911.5,582.0 911.9,589.4 912.3,593.5C912.6,597.7 912.9,600.0 913.3,606.0C913.8,612.0 914.5,625.6 914.8,629.5M915.5,629.5C915.4,624.8 914.8,608.3 915.1,601.3C915.5,594.3 916.8,591.4 917.7,587.3C918.6,583.1 920.4,576.3 920.6,576.4C920.7,576.5 919.3,583.7 918.7,588.1C918.1,592.5 917.2,596.0 916.9,602.9C916.7,609.8 917.2,625.1 917.3,629.5M917.7,629.5C917.8,624.8 917.5,608.2 918.4,601.3C919.2,594.4 920.9,592.2 922.7,588.1C924.6,583.9 929.1,576.5 929.6,576.4C930.1,576.3 927.1,583.5 925.6,587.3C924.1,591.1 921.6,591.9 920.6,599.0C919.5,606.0 919.3,624.4 919.1,629.5M919.8,606.0C920.7,603.5 923.1,595.5 924.9,591.2C926.7,586.9 930.4,580.3 930.7,580.3C931.0,580.3 928.2,587.3 926.7,591.2C925.2,595.1 922.5,601.6 921.6,603.6M919.8,629.5C920.0,626.1 920.2,613.8 920.6,609.1C920.9,604.4 920.7,603.9 922.0,601.3C923.3,598.7 925.5,595.5 928.5,593.5C931.4,591.5 939.0,589.0 939.7,589.2C940.4,589.5 935.2,592.6 932.8,595.1C930.5,597.6 927.4,601.6 925.6,604.4C923.9,607.3 923.1,608.0 922.4,612.2C921.6,616.4 921.5,626.6 921.3,629.5" fill="none" stroke="#56e22c" stroke-width="0.62" stroke-linejoin="round"/>
<path d="M214.0,596.5L215.0,585.0L217.0,577.0L219.3,571.2L223.2,571.2L222.6,577.0L221.6,585.0L221.6,596.5Z" fill="#3ef20c" stroke="#3ef20c" stroke-width="0.6" stroke-linejoin="round"/>
<path d="M220.0,570.2L222.8,570.0L222.6,571.6L220.3,571.8Z" fill="#fff" stroke="none"/>
<path d="M221.5,569.4L220.5,567.9L219.1,565.8L217.5,563.3L215.7,560.8L213.8,558.2L211.6,555.4L209.5,552.6L207.6,549.9L206.0,547.4L204.5,545.0L203.2,542.6L202.2,540.4L201.5,538.2L201.1,536.0L200.7,533.7L200.1,531.5L199.3,529.8L198.4,528.5L197.4,527.2L196.2,525.6L194.4,523.3L192.4,520.6L190.1,517.7L188.0,515.2L185.9,513.0L183.9,511.1L181.8,509.3L179.7,507.6L177.5,506.0L175.2,504.6L173.0,503.3L171.0,502.2L169.0,501.1L167.0,500.1L165.3,499.3L164.2,498.7L163.4,500.1L164.6,500.7L166.2,501.6L168.1,502.7L170.0,503.8L172.0,505.1L174.1,506.4L176.3,507.8L178.3,509.4L180.3,511.0L182.2,512.8L184.1,514.7L186.0,516.8L188.1,519.4L190.2,522.2L192.2,525.0L193.8,527.4L195.1,529.0L195.9,530.2L196.5,531.2L197.1,532.5L197.5,534.3L197.8,536.5L198.1,539.0L198.8,541.6L199.9,544.2L201.3,546.8L202.8,549.4L204.4,552.1L206.3,554.9L208.4,557.8L210.5,560.6L212.3,563.2L213.9,565.7L215.5,568.2L216.8,570.3L217.7,571.8Z" fill="#3ef20c" stroke="#3ef20c" stroke-width="0.3"/>
<path d="M224.8,571.6L225.6,569.7L226.9,567.1L228.3,564.1L229.8,560.9L231.5,557.4L233.2,553.7L235.0,549.8L236.7,546.3L238.2,543.1L239.5,540.0L240.8,537.3L242.0,534.8L243.0,533.0L244.0,531.6L245.0,530.0L246.3,527.7L247.9,524.7L249.6,521.1L251.4,517.3L253.2,513.6L255.1,510.1L257.1,506.4L259.2,502.8L261.0,499.6L262.7,496.7L264.4,493.9L265.9,491.6L267.3,489.7L268.5,488.5L269.6,487.7L270.9,487.1L272.4,486.3L274.5,485.1L276.9,483.7L279.1,482.5L280.6,481.6L280.0,480.4L278.4,481.2L276.1,482.3L273.7,483.6L271.6,484.7L270.1,485.5L268.7,486.1L267.3,486.9L265.7,488.3L264.1,490.3L262.5,492.7L260.8,495.5L259.0,498.4L257.0,501.6L254.9,505.1L252.8,508.8L250.8,512.4L248.9,516.0L247.0,519.8L245.2,523.3L243.7,526.3L242.4,528.3L241.3,529.7L240.2,531.2L239.0,533.2L237.7,535.7L236.3,538.5L234.9,541.5L233.3,544.7L231.6,548.2L229.7,552.0L227.9,555.7L226.2,559.1L224.6,562.3L223.1,565.3L221.8,567.8L220.8,569.6Z" fill="#3ef20c" stroke="#3ef20c" stroke-width="0.3"/>
<path d="M236.7,547.5L237.8,547.4L239.4,547.3L241.3,547.2L243.2,546.8L245.2,546.3L247.2,545.7L249.3,545.0L251.5,544.1L253.7,542.9L256.0,541.6L258.3,540.2L260.5,538.9L262.6,537.5L264.7,536.1L266.6,534.8L268.4,533.8L270.1,533.0L271.6,532.3L273.1,531.8L274.7,531.3L276.4,530.8L278.3,530.3L280.0,529.8L281.1,529.5L280.9,528.5L279.7,528.7L278.0,529.0L276.1,529.5L274.3,529.9L272.7,530.4L271.1,530.8L269.4,531.4L267.6,532.2L265.7,533.3L263.6,534.5L261.6,535.9L259.5,537.1L257.3,538.4L255.0,539.7L252.7,540.9L250.5,541.9L248.5,542.7L246.5,543.3L244.5,543.8L242.8,544.2L241.0,544.4L239.2,544.5L237.7,544.5L236.5,544.5Z" fill="#3ef20c" stroke="#3ef20c" stroke-width="0.3"/>
<path d="M274.8,531.0L275.9,530.2L277.6,529.1L279.4,527.7L281.2,526.3L283.1,524.6L285.1,522.7L286.9,520.9L288.2,519.7L287.8,519.3L286.5,520.5L284.7,522.2L282.6,524.1L280.8,525.7L278.9,527.1L277.1,528.3L275.4,529.4L274.2,530.2Z" fill="#3ef20c" stroke="#3ef20c" stroke-width="0.3"/>
<path d="M268.4,533.3L269.1,532.2L270.2,530.7L271.3,529.1L272.3,527.7L273.0,526.6L273.7,525.6L274.3,524.7L274.7,524.1L274.3,523.9L273.9,524.4L273.3,525.3L272.6,526.2L271.7,527.3L270.7,528.7L269.5,530.2L268.4,531.7L267.6,532.7Z" fill="#3ef20c" stroke="#3ef20c" stroke-width="0.3"/>
<path d="M246.3,526.7L245.7,524.7L244.9,521.8L244.0,518.5L243.1,515.7L242.1,513.2L241.1,510.9L240.2,508.7L239.4,506.7L238.7,504.9L238.1,503.3L237.6,501.7L237.1,499.8L236.7,497.7L236.3,495.3L236.0,492.7L235.6,489.9L235.1,486.6L234.5,482.8L234.0,479.3L233.6,476.9L232.8,477.1L233.1,479.5L233.5,482.9L234.0,486.7L234.4,490.1L234.7,492.9L235.0,495.5L235.3,497.9L235.7,500.2L236.1,502.1L236.5,503.8L237.0,505.5L237.6,507.3L238.4,509.4L239.2,511.6L240.1,513.9L240.9,516.3L241.7,519.2L242.5,522.4L243.3,525.3L243.7,527.3Z" fill="#3ef20c" stroke="#3ef20c" stroke-width="0.3"/>
<path d="M237.2,500.7L237.7,499.0L238.4,496.6L239.3,493.9L240.0,491.2L240.8,488.3L241.6,485.3L242.3,482.4L242.9,480.1L243.4,478.6L243.8,477.6L244.0,476.8L243.9,475.9L243.4,474.9L242.6,474.0L241.7,473.3L241.2,472.8L240.8,473.2L241.4,473.7L242.2,474.5L242.9,475.3L243.3,476.1L243.3,476.7L243.0,477.4L242.6,478.3L242.1,479.9L241.4,482.2L240.6,485.0L239.8,488.1L239.0,490.8L238.1,493.5L237.3,496.3L236.5,498.6L236.0,500.3Z" fill="#3ef20c" stroke="#3ef20c" stroke-width="0.3"/>
<path d="M187.5,514.5L186.9,513.3L186.1,511.5L185.3,509.6L184.4,507.8L183.4,506.1L182.3,504.4L181.3,502.9L180.6,501.9L180.2,502.1L180.8,503.2L181.7,504.8L182.7,506.5L183.6,508.2L184.4,510.0L185.2,511.9L185.9,513.7L186.3,514.9Z" fill="#3ef20c" stroke="#3ef20c" stroke-width="0.3"/>
<path d="M173.1,504.4L172.8,503.0L172.3,501.0L171.8,498.8L171.3,496.9L170.9,495.3L170.6,493.7L170.2,492.4L170.0,491.5L169.6,491.5L169.8,492.5L170.0,493.8L170.3,495.4L170.7,497.1L171.0,499.0L171.5,501.2L171.9,503.2L172.1,504.6Z" fill="#3ef20c" stroke="#3ef20c" stroke-width="0.3"/>
<path d="M280.7,481.1L280.8,480.7L280.9,480.1L281.0,479.5L281.0,479.1L280.6,478.9L280.4,479.3L280.2,479.9L280.0,480.5L279.9,480.9Z" fill="#3ef20c" stroke="#3ef20c" stroke-width="0.3"/>
<path d="M208.8,502.9C209.4,501.4 211.5,497.0 212.3,494.0C213.1,491.0 213.4,486.4 213.6,484.9" fill="none" stroke="#3ef20c" stroke-width="0.55"/>
<path d="M215.9,524.9C214.9,527.1 211.7,534.2 210.0,538.0C208.3,541.8 206.4,546.1 205.7,547.7" fill="none" stroke="#3ef20c" stroke-width="0.55"/>
<path d="M177.4,540.6C179.5,542.2 185.0,546.5 190.0,550.0C195.0,553.5 204.4,559.9 207.3,561.9" fill="none" stroke="#3ef20c" stroke-width="0.55"/>
<path d="M187.9,464.9a2.60,2.60 0 1,0 5.20,0a2.60,2.60 0 1,0 -5.20,0M189.8,465.1h1.4M198.1,464.9a2.60,2.60 0 1,0 5.20,0a2.60,2.60 0 1,0 -5.20,0M200.0,465.1h1.4M198.1,473.9a2.60,2.60 0 1,0 5.20,0a2.60,2.60 0 1,0 -5.20,0M200.0,474.1h1.4M205.0,473.1a2.60,2.60 0 1,0 5.20,0a2.60,2.60 0 1,0 -5.20,0M206.9,473.3h1.4M199.7,480.9a2.60,2.60 0 1,0 5.20,0a2.60,2.60 0 1,0 -5.20,0M201.6,481.1h1.4M207.8,481.4a2.60,2.60 0 1,0 5.20,0a2.60,2.60 0 1,0 -5.20,0M209.7,481.6h1.4M199.7,491.5a2.60,2.60 0 1,0 5.20,0a2.60,2.60 0 1,0 -5.20,0M201.6,491.7h1.4M198.1,498.7a2.60,2.60 0 1,0 5.20,0a2.60,2.60 0 1,0 -5.20,0M200.0,498.9h1.4M189.0,496.8a2.60,2.60 0 1,0 5.20,0a2.60,2.60 0 1,0 -5.20,0M190.9,497.0h1.4M180.6,494.6a2.60,2.60 0 1,0 5.20,0a2.60,2.60 0 1,0 -5.20,0M182.5,494.8h1.4M174.4,491.5a2.60,2.60 0 1,0 5.20,0a2.60,2.60 0 1,0 -5.20,0M176.3,491.7h1.4M171.7,497.1a2.60,2.60 0 1,0 5.20,0a2.60,2.60 0 1,0 -5.20,0M173.6,497.3h1.4M178.0,500.9a2.60,2.60 0 1,0 5.20,0a2.60,2.60 0 1,0 -5.20,0M179.9,501.1h1.4M160.4,497.1a2.60,2.60 0 1,0 5.20,0a2.60,2.60 0 1,0 -5.20,0M162.3,497.3h1.4M149.2,504.7a2.60,2.60 0 1,0 5.20,0a2.60,2.60 0 1,0 -5.20,0M151.1,504.9h1.4M149.2,514.9a2.60,2.60 0 1,0 5.20,0a2.60,2.60 0 1,0 -5.20,0M151.1,515.1h1.4M160.7,513.1a2.60,2.60 0 1,0 5.20,0a2.60,2.60 0 1,0 -5.20,0M162.6,513.3h1.4M163.5,518.2a2.60,2.60 0 1,0 5.20,0a2.60,2.60 0 1,0 -5.20,0M165.4,518.4h1.4M173.3,518.8a2.60,2.60 0 1,0 5.20,0a2.60,2.60 0 1,0 -5.20,0M175.2,519.0h1.4M169.0,509.8a2.60,2.60 0 1,0 5.20,0a2.60,2.60 0 1,0 -5.20,0M170.9,510.0h1.4M185.8,509.1a2.60,2.60 0 1,0 5.20,0a2.60,2.60 0 1,0 -5.20,0M187.7,509.3h1.4M218.8,485.6a2.60,2.60 0 1,0 5.20,0a2.60,2.60 0 1,0 -5.20,0M220.7,485.8h1.4M214.9,492.7a2.60,2.60 0 1,0 5.20,0a2.60,2.60 0 1,0 -5.20,0M216.8,492.9h1.4M222.0,498.7a2.60,2.60 0 1,0 5.20,0a2.60,2.60 0 1,0 -5.20,0M223.9,498.9h1.4M227.5,499.8a2.60,2.60 0 1,0 5.20,0a2.60,2.60 0 1,0 -5.20,0M229.4,500.0h1.4M225.1,505.0a2.60,2.60 0 1,0 5.20,0a2.60,2.60 0 1,0 -5.20,0M227.0,505.2h1.4M232.2,505.6a2.60,2.60 0 1,0 5.20,0a2.60,2.60 0 1,0 -5.20,0M234.1,505.8h1.4M212.5,507.3a2.60,2.60 0 1,0 5.20,0a2.60,2.60 0 1,0 -5.20,0M214.4,507.5h1.4M219.6,510.8a2.60,2.60 0 1,0 5.20,0a2.60,2.60 0 1,0 -5.20,0M221.5,511.0h1.4M232.2,511.6a2.60,2.60 0 1,0 5.20,0a2.60,2.60 0 1,0 -5.20,0M234.1,511.8h1.4M219.6,514.7a2.60,2.60 0 1,0 5.20,0a2.60,2.60 0 1,0 -5.20,0M221.5,514.9h1.4M216.9,517.9a2.60,2.60 0 1,0 5.20,0a2.60,2.60 0 1,0 -5.20,0M218.8,518.1h1.4M207.5,519.0a2.60,2.60 0 1,0 5.20,0a2.60,2.60 0 1,0 -5.20,0M209.4,519.2h1.4M212.8,521.0a2.60,2.60 0 1,0 5.20,0a2.60,2.60 0 1,0 -5.20,0M214.7,521.2h1.4M230.6,475.9a2.60,2.60 0 1,0 5.20,0a2.60,2.60 0 1,0 -5.20,0M232.5,476.1h1.4M242.4,510.3a2.60,2.60 0 1,0 5.20,0a2.60,2.60 0 1,0 -5.20,0M244.3,510.5h1.4M239.2,515.5a2.60,2.60 0 1,0 5.20,0a2.60,2.60 0 1,0 -5.20,0M241.1,515.7h1.4M253.1,488.0a2.60,2.60 0 1,0 5.20,0a2.60,2.60 0 1,0 -5.20,0M255.0,488.2h1.4M262.8,485.6a2.60,2.60 0 1,0 5.20,0a2.60,2.60 0 1,0 -5.20,0M264.7,485.8h1.4M269.1,486.4a2.60,2.60 0 1,0 5.20,0a2.60,2.60 0 1,0 -5.20,0M271.0,486.6h1.4M275.1,486.4a2.60,2.60 0 1,0 5.20,0a2.60,2.60 0 1,0 -5.20,0M277.0,486.6h1.4M283.6,484.9a2.60,2.60 0 1,0 5.20,0a2.60,2.60 0 1,0 -5.20,0M285.5,485.1h1.4M279.0,492.7a2.60,2.60 0 1,0 5.20,0a2.60,2.60 0 1,0 -5.20,0M280.9,492.9h1.4M264.4,497.1a2.60,2.60 0 1,0 5.20,0a2.60,2.60 0 1,0 -5.20,0M266.3,497.3h1.4M253.1,501.4a2.60,2.60 0 1,0 5.20,0a2.60,2.60 0 1,0 -5.20,0M255.0,501.6h1.4M258.9,502.9a2.60,2.60 0 1,0 5.20,0a2.60,2.60 0 1,0 -5.20,0M260.8,503.1h1.4M261.6,519.0a2.60,2.60 0 1,0 5.20,0a2.60,2.60 0 1,0 -5.20,0M263.5,519.2h1.4M267.1,520.5a2.60,2.60 0 1,0 5.20,0a2.60,2.60 0 1,0 -5.20,0M269.0,520.7h1.4M270.7,525.2a2.60,2.60 0 1,0 5.20,0a2.60,2.60 0 1,0 -5.20,0M272.6,525.4h1.4M253.7,524.9a2.60,2.60 0 1,0 5.20,0a2.60,2.60 0 1,0 -5.20,0M255.6,525.1h1.4M285.1,526.5a2.60,2.60 0 1,0 5.20,0a2.60,2.60 0 1,0 -5.20,0M287.0,526.7h1.4M266.7,533.6a2.60,2.60 0 1,0 5.20,0a2.60,2.60 0 1,0 -5.20,0M268.6,533.8h1.4M253.7,536.7a2.60,2.60 0 1,0 5.20,0a2.60,2.60 0 1,0 -5.20,0M255.6,536.9h1.4M251.0,546.6a2.60,2.60 0 1,0 5.20,0a2.60,2.60 0 1,0 -5.20,0M252.9,546.8h1.4M258.9,544.9a2.60,2.60 0 1,0 5.20,0a2.60,2.60 0 1,0 -5.20,0M260.8,545.1h1.4M176.7,545.8a2.60,2.60 0 1,0 5.20,0a2.60,2.60 0 1,0 -5.20,0M178.6,546.0h1.4M189.8,548.8a2.60,2.60 0 1,0 5.20,0a2.60,2.60 0 1,0 -5.20,0M191.7,549.0h1.4M188.2,552.7a2.60,2.60 0 1,0 5.20,0a2.60,2.60 0 1,0 -5.20,0M190.1,552.9h1.4M202.3,556.8a2.60,2.60 0 1,0 5.20,0a2.60,2.60 0 1,0 -5.20,0M204.2,557.0h1.4M207.0,543.3a2.60,2.60 0 1,0 5.20,0a2.60,2.60 0 1,0 -5.20,0M208.9,543.5h1.4M203.9,545.4a2.60,2.60 0 1,0 5.20,0a2.60,2.60 0 1,0 -5.20,0M205.8,545.6h1.4M207.8,551.6a2.60,2.60 0 1,0 5.20,0a2.60,2.60 0 1,0 -5.20,0M209.7,551.8h1.4M214.1,548.8a2.60,2.60 0 1,0 5.20,0a2.60,2.60 0 1,0 -5.20,0M216.0,549.0h1.4M263.6,498.2a2.60,2.60 0 1,0 5.20,0a2.60,2.60 0 1,0 -5.20,0M265.5,498.4h1.4M198.1,465.7a2.60,2.60 0 1,0 5.20,0a2.60,2.60 0 1,0 -5.20,0M200.0,465.9h1.4M258.1,545.4a2.60,2.60 0 1,0 5.20,0a2.60,2.60 0 1,0 -5.20,0M260.0,545.6h1.4M271.5,525.7a2.60,2.60 0 1,0 5.20,0a2.60,2.60 0 1,0 -5.20,0M273.4,525.9h1.4" fill="#fff" fill-opacity="0.6" stroke="#f54040" stroke-width="0.7"/>
<path d="M198.5,532.5l2,2.2M267.5,531.5l2.4,1.6M200.2,545.5l1.6,1.8" stroke="#333" stroke-width="0.7" fill="none"/>
<path d="M144.5,598.0l-1.0,-6.1M145.2,598.1l-1.3,-6.8M145.9,598.1l-0.4,-6.6M146.6,598.2l0.0,-5.6M147.3,598.2l-0.2,-5.6M148.0,598.2l-1.2,-5.6M148.7,598.3l1.0,-6.3M149.4,598.3l-0.8,-5.7M150.1,598.4l1.3,-6.8M150.8,598.4l-0.3,-6.7M151.5,598.4l-1.4,-7.5M152.2,598.5l-0.6,-7.2M152.9,598.5l-1.1,-5.8M153.6,598.6l0.9,-6.1M154.3,598.6l0.2,-5.9M155.0,598.7l-0.4,-6.8M155.7,598.7l-1.3,-6.6M156.4,598.7l-0.9,-5.6M157.1,598.8l-0.2,-6.9M157.8,598.8l0.3,-6.1M158.5,598.9l-0.6,-6.4M159.2,598.9l0.6,-7.1M159.9,598.9l0.2,-6.0M160.6,599.0l1.1,-6.6M161.3,599.0l-0.6,-7.0M162.0,599.1l-1.1,-7.5M162.7,599.1l0.8,-6.3M163.4,599.2l-0.0,-5.8M164.1,599.2l0.5,-5.6M164.8,599.2l0.2,-7.0M165.5,599.3l-0.6,-7.3M166.2,599.3l0.3,-6.9M166.9,599.4l-0.1,-6.7M167.6,599.4l1.3,-7.2M168.3,599.5l0.5,-6.4M169.0,599.5l0.6,-5.6M169.7,599.6l1.5,-6.8M170.4,599.6l-0.6,-7.1M171.1,599.7l0.5,-6.3M171.8,599.7l-0.1,-5.5M172.5,599.8l-1.1,-5.8M173.2,599.8l0.8,-5.6M173.9,599.9l-0.8,-5.8M174.6,599.9l1.1,-6.3M175.3,600.0l-0.2,-5.7M176.0,600.0l1.2,-6.6M176.7,600.1l1.1,-7.1M177.4,600.1l-0.3,-6.1M178.1,600.2l1.2,-6.2M178.8,600.2l-1.0,-7.4M179.5,600.3l-0.8,-5.9M180.2,600.3l-0.0,-6.0M180.9,600.4l-0.7,-6.7M181.6,600.4l-0.2,-5.5M182.3,600.5l0.2,-6.2M183.0,600.6l0.6,-7.4M183.7,600.6l0.4,-6.5M184.4,600.7l-1.3,-6.9M185.1,600.7l0.8,-7.3M185.8,600.8l0.9,-7.2M186.5,600.8l-0.3,-6.3M187.2,600.9l0.4,-5.7M187.9,601.0l-1.3,-5.6M188.6,601.0l-1.0,-5.9M189.3,601.1l-1.3,-6.2M190.0,601.2l-1.0,-5.5M190.7,601.2l-0.4,-5.7M191.4,601.3l1.1,-5.6M192.1,601.3l-1.1,-6.7M192.8,601.4l-0.5,-6.0M193.5,601.5l-1.1,-6.2M194.2,601.5l1.5,-7.2M194.9,601.6l-0.0,-6.4M195.6,601.6l-1.2,-5.7M196.3,601.7l-0.7,-6.2M197.0,601.8l-1.0,-7.2M197.7,601.8l1.4,-5.5M198.4,601.9l-1.1,-6.6M199.1,602.0l-1.4,-6.6M199.8,602.0l1.4,-6.6M200.5,602.1l0.6,-7.2M201.2,602.1l-0.4,-6.0M201.9,602.2l0.8,-5.8M202.6,602.3l0.8,-6.6M203.3,602.3l-0.8,-6.2M204.0,602.4l1.5,-7.1M204.7,602.4l0.9,-7.2M205.4,602.5l0.7,-7.1M206.1,602.6l0.1,-6.0M206.8,602.6l-1.4,-6.2M207.5,602.7l-0.7,-5.6M208.2,602.7l0.6,-6.0M208.9,602.8l-0.2,-7.4M209.6,602.8l1.5,-7.4M210.3,602.9l-0.4,-7.4M211.0,602.9l-0.8,-5.9M211.7,603.0l-0.9,-5.9M212.4,603.0l1.2,-6.7M213.1,603.1l-0.1,-7.2M213.8,603.2l0.9,-6.8M214.5,603.2l0.5,-5.7M215.2,603.3l0.8,-7.3M215.9,603.3l-0.1,-7.0M216.6,603.4l0.9,-5.9M217.3,603.4l0.9,-6.2M218.0,603.4l-0.3,-7.4M218.7,603.5l1.3,-6.3M219.4,603.5l-1.0,-6.9M220.1,603.6l-1.0,-5.8M220.8,603.6l0.9,-7.3M221.5,603.7l1.0,-5.8M222.2,603.7l0.5,-7.5M222.9,603.7l0.1,-6.2M223.6,603.8l-1.5,-5.8M224.3,603.8l0.4,-7.4M225.0,603.9l1.3,-6.6M225.7,603.9l1.1,-6.4M226.4,603.9l-0.9,-7.2M227.1,604.0l-0.6,-6.0M227.8,604.0l0.3,-6.0M228.5,604.0l-0.2,-6.0M229.2,604.1l1.2,-5.8M229.9,604.1l-0.1,-6.2M230.6,604.1l1.2,-6.7M231.3,604.1l1.3,-6.3M232.0,604.2l0.1,-6.5M232.7,604.2l-1.4,-6.5M233.4,604.2l-1.0,-6.4M234.1,604.3l0.9,-5.5M234.8,604.3l-0.1,-5.8M235.5,604.3l0.2,-7.0M236.2,604.3l0.1,-6.2M236.9,604.3l0.9,-6.6M237.6,604.4l0.2,-5.7M238.3,604.4l-0.7,-6.0M239.0,604.4l0.0,-7.0M239.7,604.4l0.8,-6.6M240.4,604.5l-0.2,-7.3M241.1,604.5l0.0,-6.7M241.8,604.5l0.6,-6.5M242.5,604.5l0.1,-6.4M243.2,604.5l1.3,-6.5M243.9,604.6l1.1,-6.9M244.6,604.6l-0.7,-7.4M245.3,604.6l1.3,-6.6M246.0,604.6l-1.1,-7.2M246.7,604.7l-0.2,-5.7M247.4,604.7l-0.8,-5.6M248.1,604.7l0.5,-5.6M248.8,604.7l1.2,-7.1M249.5,604.7l0.6,-5.8M250.2,604.7l-1.1,-6.8M250.9,604.8l1.4,-7.3M251.6,604.8l1.4,-5.9M252.3,604.8l-0.0,-6.3M253.0,604.8l1.0,-7.5M253.7,604.8l-0.2,-5.8M254.4,604.9l-0.5,-6.5M255.1,604.9l-0.5,-5.9M255.8,604.9l-1.4,-6.9M256.5,604.9l-0.2,-6.6M257.2,604.9l-0.5,-5.5M257.9,605.0l0.0,-6.7M258.6,605.0l1.5,-5.6M259.3,605.0l1.4,-7.1M260.0,605.0l-0.7,-5.7M260.7,605.1l0.8,-5.6M261.4,605.1l-1.1,-6.0M262.1,605.1l1.2,-6.3M262.8,605.1l-0.7,-7.1M263.5,605.1l1.3,-5.8M264.2,605.2l0.6,-6.6M264.9,605.2l-1.3,-5.7M265.6,605.2l-0.2,-6.9M266.3,605.2l1.3,-5.6M267.0,605.3l0.9,-6.8M267.7,605.3l1.1,-5.7M268.4,605.3l1.1,-5.6M269.1,605.4l-0.5,-6.4M269.8,605.4l1.3,-6.6M270.5,605.4l-1.1,-6.0M271.2,605.5l-0.8,-6.6M271.9,605.5l-1.0,-5.7M272.6,605.5l-0.9,-5.6" fill="none" stroke="#2ad016" stroke-width="1.1"/><path d="M145.5,593.9l-1.5,-3.6M149.7,594.1l-1.5,-3.6M153.9,594.4l-1.5,-3.6M158.1,594.6l-1.5,-3.6M162.3,594.9l-1.5,-3.6M166.5,595.2l-1.5,-3.6M170.7,595.4l-1.5,-3.6M174.9,595.7l-1.5,-3.6M179.1,596.0l-1.5,-3.6M183.3,596.4l-1.5,-3.6M187.5,596.7l-1.5,-3.6M191.7,597.1l-1.5,-3.6M195.9,597.5l-1.5,-3.6M200.1,597.8l-1.5,-3.6M204.3,598.2l-1.5,-3.6M208.5,598.5l-1.5,-3.6M212.7,598.9l-1.5,-3.6M216.9,599.2l-1.5,-3.6M221.1,599.4l-1.5,-3.6M225.3,599.7l-1.5,-3.6M229.5,599.9l-1.5,-3.6M233.7,600.0l-1.5,-3.6M237.9,600.2l-1.5,-3.6M242.1,600.3l-1.5,-3.6M246.3,600.4l-1.5,-3.6M250.5,600.6l-1.5,-3.6M254.7,600.7l-1.5,-3.6M258.9,600.8l-1.5,-3.6M263.1,600.9l-1.5,-3.6M267.3,601.1l-1.5,-3.6M271.5,601.3l-1.5,-3.6" fill="none" stroke="#4636e6" stroke-width="1.2"/>
<path d="M272.0,605.6q-0.2,-11.2 -1.1,-18.6M272.9,605.6q0.0,-11.0 0.0,-18.4M273.4,605.7q-0.4,-11.4 -2.7,-19.1M274.0,605.7q0.2,-9.0 1.3,-15.0M274.7,605.7q-0.0,-10.3 -0.1,-17.2M275.7,605.8q0.3,-9.7 1.8,-16.2M276.4,605.8q0.3,-12.5 1.9,-20.9M277.0,605.8q0.2,-12.6 1.1,-21.0M278.0,605.9q0.3,-11.4 1.9,-19.1M278.9,605.9q-0.1,-13.6 -0.5,-22.6M279.5,605.9q-0.3,-9.3 -2.1,-15.6M280.0,606.0q-0.2,-14.4 -1.4,-23.9M280.5,606.0q0.3,-9.6 1.9,-15.9M281.4,606.0q-0.2,-13.8 -1.2,-23.1M282.0,606.1q-0.0,-11.1 -0.2,-18.5M282.5,606.1q-0.2,-12.2 -1.3,-20.3M283.5,606.1q0.0,-16.1 0.3,-26.8M284.1,606.2q-0.2,-16.0 -1.1,-26.7M284.7,606.2q-0.1,-9.0 -0.7,-14.9M285.4,606.2q-0.3,-12.6 -1.7,-21.1M286.2,606.3q-0.2,-9.0 -1.3,-15.0M286.6,606.3q-0.4,-11.9 -2.6,-19.8M287.1,606.3q-0.2,-11.2 -1.5,-18.6M287.9,606.4q0.2,-12.8 1.4,-21.4M288.7,606.4q0.3,-14.2 2.1,-23.7M289.3,606.5q0.4,-11.4 2.7,-18.9M289.8,606.5q0.1,-14.3 0.8,-23.8M290.3,606.6q0.3,-15.1 2.2,-25.2M291.1,606.6q0.3,-14.4 1.7,-23.9M291.6,606.7q0.0,-12.8 0.0,-21.4M292.5,606.8q0.3,-14.9 1.8,-24.8M293.3,606.8q0.2,-15.5 1.0,-25.9M294.1,606.9q-0.4,-10.7 -2.6,-17.8M294.6,607.0q-0.3,-11.6 -2.2,-19.4M295.5,607.1q0.1,-13.1 0.7,-21.8M296.3,607.1q-0.0,-14.0 -0.1,-23.3M296.8,607.2q0.2,-14.9 1.4,-24.8M297.5,607.3q0.1,-12.9 0.9,-21.5M298.0,607.3q-0.2,-14.4 -1.4,-24.0M298.4,607.4q0.2,-10.9 1.3,-18.2M299.0,607.5q0.4,-14.4 2.7,-24.1M299.7,607.5q-0.0,-11.8 -0.1,-19.7M300.5,607.7q0.1,-14.6 0.7,-24.4M301.3,607.8q-0.3,-9.6 -2.0,-16.0M301.9,607.8q-0.2,-14.5 -1.1,-24.1M302.7,608.0q-0.4,-9.1 -2.5,-15.2M303.3,608.1q0.2,-14.0 1.1,-23.3M304.1,608.2q0.0,-11.2 0.1,-18.6M304.8,608.3q-0.3,-12.5 -2.1,-20.8M305.7,608.4q0.4,-10.5 2.7,-17.5M306.7,608.6q-0.0,-9.1 -0.2,-15.2M307.6,608.8q-0.0,-16.2 -0.3,-26.9M308.2,608.9q0.4,-10.6 2.5,-17.6M308.7,609.0q-0.3,-13.3 -2.0,-22.2M309.5,609.1q-0.3,-16.1 -2.1,-26.8M310.4,609.3q0.3,-12.8 2.2,-21.3M311.2,609.4q0.3,-10.7 2.2,-17.9M311.9,609.5q-0.4,-9.2 -2.8,-15.4M312.6,609.7q-0.2,-12.4 -1.1,-20.6M313.2,609.8q-0.2,-11.6 -1.0,-19.3M314.1,609.9q0.2,-9.1 1.4,-15.1M315.0,610.1q0.4,-9.9 2.4,-16.6M315.8,610.3q-0.2,-15.7 -1.2,-26.2M316.5,610.4q0.4,-12.0 2.8,-19.9M317.2,610.6q-0.1,-11.7 -0.4,-19.5M317.8,610.7q-0.3,-9.4 -2.2,-15.7M318.7,610.8q0.4,-11.2 2.4,-18.6M319.3,611.0q0.0,-11.0 0.1,-18.4M319.9,611.1q0.4,-11.8 2.6,-19.7M320.8,611.2q0.1,-15.1 0.7,-25.1M321.8,611.4q0.0,-16.0 0.3,-26.7M322.6,611.6q0.2,-9.4 1.3,-15.7M323.3,611.7q0.1,-14.7 0.8,-24.4M323.9,611.8q0.4,-9.4 2.4,-15.7M324.4,611.9q-0.1,-12.6 -0.9,-21.0M325.0,612.0q0.4,-14.6 2.7,-24.3M325.6,612.1q-0.2,-14.0 -1.1,-23.3M326.3,612.3q-0.3,-12.0 -1.9,-20.0M326.9,612.4q0.3,-10.6 2.3,-17.7M327.6,612.5q0.3,-10.7 2.3,-17.9M328.6,612.7q-0.3,-12.4 -2.0,-20.7M329.1,612.8q-0.1,-9.8 -0.9,-16.3M329.6,612.8q-0.2,-10.9 -1.4,-18.1M330.4,613.0q0.2,-15.7 1.4,-26.2M331.0,613.1q0.0,-12.2 0.1,-20.3M331.7,613.3q-0.4,-11.6 -2.5,-19.4M332.3,613.4q-0.3,-16.3 -2.1,-27.2M333.0,613.5q0.3,-13.8 2.0,-23.0M333.6,613.6q-0.2,-11.1 -1.4,-18.5M334.2,613.8q0.4,-12.4 2.5,-20.7M335.2,613.9q-0.4,-15.6 -2.7,-26.0M335.6,614.0q0.3,-14.4 2.2,-24.0M336.3,614.1q-0.4,-13.5 -2.8,-22.5M337.0,614.2q0.3,-16.0 1.8,-26.7M337.9,614.3q-0.2,-16.4 -1.4,-27.3M338.4,614.3q0.0,-10.3 0.1,-17.1M339.2,614.4q0.2,-16.2 1.2,-26.9M340.0,614.5q-0.0,-14.8 -0.2,-24.7M340.8,614.6q0.2,-9.4 1.6,-15.7M341.3,614.6q0.1,-16.0 0.8,-26.7M341.9,614.6q-0.2,-10.1 -1.4,-16.8M342.7,614.7q-0.3,-14.4 -2.2,-23.9M343.2,614.7q0.1,-13.1 0.5,-21.8M343.9,614.7q0.1,-10.8 0.6,-18.0M344.3,614.8q-0.0,-11.4 -0.2,-19.0M345.3,614.8q0.3,-14.0 2.1,-23.3M346.0,614.8q-0.2,-10.9 -1.4,-18.2M347.0,614.8q-0.2,-14.4 -1.1,-24.0M347.4,614.9q0.1,-12.9 1.0,-21.5M348.1,614.9q0.1,-11.1 0.9,-18.5M349.1,614.9q-0.4,-10.9 -2.6,-18.1M349.7,614.9q0.2,-12.3 1.0,-20.5M350.2,614.9q0.2,-15.1 1.3,-25.2M351.0,614.9q0.4,-10.7 2.6,-17.8M351.6,614.9q-0.2,-15.3 -1.5,-25.5M352.1,614.9q-0.2,-14.9 -1.1,-24.8M353.1,614.9q-0.3,-12.9 -1.8,-21.5M353.7,615.0q0.1,-12.3 0.9,-20.5M354.6,615.0q-0.1,-10.3 -0.6,-17.1M355.2,615.0q-0.3,-16.5 -2.0,-27.5M355.7,615.0q-0.1,-9.6 -0.6,-16.0M356.6,615.0q0.2,-15.8 1.3,-26.4M357.6,615.0q-0.1,-16.2 -1.0,-27.0M358.2,615.0q0.2,-16.2 1.4,-27.0M358.6,615.0q-0.1,-14.2 -0.7,-23.6M359.3,615.0q-0.3,-11.7 -1.9,-19.5M359.7,615.0q-0.1,-11.3 -0.8,-18.8M360.7,615.0q0.4,-10.1 2.6,-16.9M361.2,615.1q0.3,-11.9 1.8,-19.8M362.1,615.1q-0.4,-12.4 -2.5,-20.7M362.8,615.1q0.4,-12.0 2.3,-20.0M363.4,615.1q0.3,-11.9 2.2,-19.9M363.8,615.1q0.3,-12.3 1.7,-20.5M364.7,615.1q-0.4,-9.5 -2.6,-15.9M365.2,615.1q-0.2,-16.1 -1.4,-26.9M366.0,615.2q-0.1,-16.0 -0.9,-26.6M366.6,615.2q0.1,-16.4 0.7,-27.4M367.2,615.2q-0.2,-14.6 -1.0,-24.4M367.8,615.2q0.2,-9.2 1.4,-15.4M368.8,615.3q0.4,-14.0 2.5,-23.3M369.2,615.3q-0.0,-11.0 -0.1,-18.3M370.2,615.3q-0.1,-16.4 -0.6,-27.4M370.8,615.3q-0.0,-12.5 -0.0,-20.8M371.7,615.4q0.3,-10.6 1.7,-17.7M372.6,615.4q0.2,-15.4 1.5,-25.7M373.4,615.4q-0.2,-11.7 -1.0,-19.5M374.0,615.5q-0.4,-15.1 -2.4,-25.2M374.5,615.5q-0.2,-14.9 -1.4,-24.9M375.0,615.5q0.0,-9.5 0.3,-15.8M375.6,615.5q0.3,-16.6 2.1,-27.7" fill="none" stroke="#38bd2e" stroke-width="0.8" stroke-linecap="round"/>
<path d="M275.0,605.7q-0.1,-3.0 -0.8,-5.1M278.4,605.9q0.1,-3.6 0.4,-6.0M283.2,606.1q-0.0,-3.0 -0.2,-4.9M288.7,606.4q0.1,-4.0 0.5,-6.7M295.0,607.0q-0.1,-4.0 -0.8,-6.7M301.4,607.8q0.0,-3.1 0.1,-5.2M305.9,608.5q-0.1,-4.2 -0.6,-7.0M309.9,609.2q-0.1,-3.0 -0.7,-5.0M316.4,610.4q-0.1,-3.8 -0.3,-6.3M321.0,611.3q0.0,-4.8 0.0,-8.0M324.9,612.0q0.0,-4.3 0.3,-7.2M331.9,613.3q-0.0,-2.6 -0.1,-4.4M338.2,614.3q0.1,-4.4 0.8,-7.4M341.3,614.6q-0.1,-3.1 -0.8,-5.2M345.1,614.8q0.0,-4.7 0.2,-7.9M351.8,614.9q0.1,-3.3 0.7,-5.5M356.6,615.0q0.1,-3.0 0.6,-5.0M363.4,615.1q0.0,-2.7 0.2,-4.4M368.9,615.3q-0.0,-2.9 -0.3,-4.9" fill="none" stroke="#e4704e" stroke-width="0.8" stroke-linecap="round"/>
<path d="M271.2,579.2V591.0H274.0V579.2Q272.6,576.8 271.2,579.2ZM281.2,578.2V589.5H284.0V578.2Q282.6,575.8 281.2,578.2ZM289.3,581.2V591.0H292.1V581.2Q290.7,578.8 289.3,581.2ZM299.3,581.2V591.0H302.1V581.2Q300.7,578.8 299.3,581.2ZM304.3,584.2V592.0H307.1V584.2Q305.7,581.8 304.3,584.2ZM326.5,587.2V597.0H329.2V587.2Q327.9,584.8 326.5,587.2ZM337.9,588.2V598.0H340.7V588.2Q339.3,585.8 337.9,588.2ZM342.2,590.2V598.0H345.0V590.2Q343.6,587.8 342.2,590.2ZM357.9,589.2V599.0H360.7V589.2Q359.3,586.8 357.9,589.2ZM367.9,587.2V598.5H370.7V587.2Q369.3,584.8 367.9,587.2ZM373.6,591.2V600.0H376.4V591.2Q375.0,588.8 373.6,591.2Z" fill="#c9a6f2" fill-opacity="0.55" stroke="#9a35f5" stroke-width="0.7" stroke-linejoin="round"/>
<path d="M293.2,606.5Q292.7,589.3 295.5,574.0M293.2,606.5Q292.2,589.3 294.1,574.0M293.1,606.5Q292.7,589.3 293.5,574.4M295.3,606.7Q294.4,589.4 293.0,573.2M300.8,607.4Q301.1,593.7 298.5,580.5M301.7,607.5Q301.5,593.8 299.4,580.9M303.2,607.7Q302.8,593.9 300.8,581.1M300.0,607.3Q300.7,593.6 303.0,581.1M337.5,614.0Q337.9,595.5 337.8,577.0M341.7,614.3Q341.6,595.7 340.9,578.2M341.6,614.3Q341.5,595.7 337.6,577.0M339.6,614.2Q339.9,595.6 341.3,577.3M345.0,614.5Q344.8,599.2 344.3,584.4M343.0,614.4Q343.0,599.2 346.4,584.3M344.2,614.5Q344.9,599.2 346.6,584.6M342.1,614.3Q342.9,599.2 346.7,585.4M307.3,608.4Q308.2,596.2 309.4,586.7M310.7,609.0Q311.4,596.5 308.3,586.4M308.3,608.6Q308.1,596.3 311.7,586.5M308.1,608.6Q307.5,596.3 309.5,585.6" fill="none" stroke="#38bd2e" stroke-width="0.8"/>
<path d="M292.8,572.1q-2.3,-1.5 1.3,2.4M297.9,571.2q0.4,1.5 -2.8,2.0M297.2,572.1q0.6,0.3 0.8,-1.2M292.4,571.7q0.5,-0.4 1.0,-0.3M292.2,571.5q-2.9,0.7 -0.1,-1.6M295.2,568.6q1.7,-0.3 -1.9,-0.2M303.0,580.6q-2.2,-0.4 -2.4,-0.3M297.7,579.2q-2.8,0.8 -2.5,1.4M301.2,577.2q0.1,-2.7 0.0,-0.7M303.6,578.7q-2.2,2.1 3.0,1.4M301.9,577.4q-1.8,2.9 -0.0,2.7M303.3,578.2q-2.0,1.7 2.6,-2.6M308.2,583.8q1.5,-2.0 2.4,-1.4M311.2,580.2q-2.1,0.0 2.5,-1.8M309.8,584.2q0.0,-1.1 -2.8,-1.9M311.6,583.9q2.6,1.1 2.4,-2.0M310.6,580.0q-2.3,0.2 0.8,-0.8M312.1,580.6q0.3,0.5 2.3,-2.4M342.3,575.6q0.8,-0.6 1.8,-1.4M342.3,575.6q0.5,-0.8 1.6,-0.3M340.6,577.6q1.5,-2.7 1.9,-1.5M337.4,574.1q2.9,0.5 1.0,-1.1M342.3,575.7q-2.8,-2.1 0.7,-0.4M336.3,575.5q2.4,-2.2 -1.6,0.9M347.3,583.2q-3.0,-0.9 -2.4,-0.9M344.8,585.0q0.5,0.5 -1.8,0.7M341.3,583.2q-2.2,2.6 -1.5,-2.1M346.8,584.1q0.8,2.2 1.7,-0.6M344.0,585.0q-2.9,0.9 0.4,-0.9M342.5,581.2q-0.3,2.6 1.4,-1.5M335.4,588.1q-2.7,0.2 -0.6,-1.6M335.7,590.1q1.7,-2.9 0.3,2.6M334.8,590.9q-1.8,0.6 0.0,0.8M334.1,587.4q-2.0,-1.1 -1.2,-2.7M335.2,588.0q1.7,1.3 -3.0,2.1M332.8,587.2q-0.2,1.5 -0.3,-1.6M289.4,587.3q-1.6,-2.8 -1.0,1.5M286.0,584.0q2.1,1.3 -1.4,0.3M284.2,586.8q1.7,0.1 -1.4,0.9M289.9,585.5q-1.7,2.3 -2.9,-1.4M287.3,588.1q1.5,2.7 1.5,-1.0M289.2,584.6q-1.0,-1.6 2.4,0.8M350.9,584.0q1.0,2.9 -0.2,2.0M351.0,584.0q2.1,-0.4 1.3,0.4M350.9,588.0q-1.7,0.7 -2.5,2.5M353.8,587.7q-2.8,-2.4 2.6,-0.9M353.9,587.6q-2.8,-2.8 1.2,0.8M351.0,584.0q1.4,-2.6 0.5,-0.8" fill="none" stroke="#f3ee38" stroke-width="0.9" stroke-linecap="round"/>
<path d="M293.3,570.0a1.00,1.00 0 1,0 2.00,0a1.00,1.00 0 1,0 -2.00,0M337.6,576.4a1.00,1.00 0 1,0 2.00,0a1.00,1.00 0 1,0 -2.00,0M288.0,573.5a1.00,1.00 0 1,0 2.00,0a1.00,1.00 0 1,0 -2.00,0M333.0,578.0a1.00,1.00 0 1,0 2.00,0a1.00,1.00 0 1,0 -2.00,0M301.0,574.5a1.00,1.00 0 1,0 2.00,0a1.00,1.00 0 1,0 -2.00,0M345.0,579.0a1.00,1.00 0 1,0 2.00,0a1.00,1.00 0 1,0 -2.00,0" fill="#dd44d2" stroke="none"/>
<path d="M292.3,575.0a0.70,0.70 0 1,0 1.40,0a0.70,0.70 0 1,0 -1.40,0M336.3,580.5a0.70,0.70 0 1,0 1.40,0a0.70,0.70 0 1,0 -1.40,0M298.3,584.0a0.70,0.70 0 1,0 1.40,0a0.70,0.70 0 1,0 -1.40,0M340.3,586.0a0.70,0.70 0 1,0 1.40,0a0.70,0.70 0 1,0 -1.40,0" fill="#6a3fe0" stroke="none"/>
<path d="M377.0,615.6V596.7M377.0,614.6l-2.2,-10.9M377.0,614.6l2.2,-10.9M383.0,615.9V598.8M383.0,614.9l-2.2,-10.0M383.0,614.9l2.2,-10.0M379.9,615.7V604.5M388.9,616.1V597.0M388.9,615.1l-2.2,-11.1M388.9,615.1l2.2,-11.1M385.8,616.0V603.5M394.3,616.4V599.2M394.3,615.4l-2.2,-10.0M394.3,615.4l2.2,-10.0M391.2,616.3V605.0M400.2,616.7V597.9M400.2,615.7l-2.2,-10.9M400.2,615.7l2.2,-10.9M397.1,616.5V604.2M406.1,617.0V598.6M406.1,616.0l-2.2,-10.7M406.1,616.0l2.2,-10.7M403.0,616.8V604.8M411.3,617.3V600.1M411.3,616.3l-2.2,-10.0M411.3,616.3l2.2,-10.0M408.2,617.1V605.9M416.6,617.6V600.0M416.6,616.6l-2.2,-10.3M416.6,616.6l2.2,-10.3M413.6,617.4V605.9" fill="none" stroke="#2cc326" stroke-width="1.25" stroke-linecap="round"/><path d="M375.3,595.7a1.85,1.85 0 1,0 3.70,0a1.85,1.85 0 1,0 -3.70,0M381.3,597.8a1.85,1.85 0 1,0 3.70,0a1.85,1.85 0 1,0 -3.70,0M378.0,604.1a1.85,1.85 0 1,0 3.70,0a1.85,1.85 0 1,0 -3.70,0M386.8,596.0a1.85,1.85 0 1,0 3.70,0a1.85,1.85 0 1,0 -3.70,0M384.0,603.1a1.85,1.85 0 1,0 3.70,0a1.85,1.85 0 1,0 -3.70,0M392.1,598.2a1.85,1.85 0 1,0 3.70,0a1.85,1.85 0 1,0 -3.70,0M389.3,604.6a1.85,1.85 0 1,0 3.70,0a1.85,1.85 0 1,0 -3.70,0M398.4,596.9a1.85,1.85 0 1,0 3.70,0a1.85,1.85 0 1,0 -3.70,0M395.2,603.8a1.85,1.85 0 1,0 3.70,0a1.85,1.85 0 1,0 -3.70,0M404.1,597.6a1.85,1.85 0 1,0 3.70,0a1.85,1.85 0 1,0 -3.70,0M401.1,604.4a1.85,1.85 0 1,0 3.70,0a1.85,1.85 0 1,0 -3.70,0M409.6,599.1a1.85,1.85 0 1,0 3.70,0a1.85,1.85 0 1,0 -3.70,0M406.4,605.5a1.85,1.85 0 1,0 3.70,0a1.85,1.85 0 1,0 -3.70,0M414.7,599.0a1.85,1.85 0 1,0 3.70,0a1.85,1.85 0 1,0 -3.70,0M411.7,605.5a1.85,1.85 0 1,0 3.70,0a1.85,1.85 0 1,0 -3.70,0" fill="#ad2828" stroke="none"/>
<path d="M411.0,617.3q0.8,-9.5 -1.0,-19.0M412.1,617.4q0.0,-9.9 2.0,-19.8M413.7,617.5q-0.3,-11.8 -2.1,-23.6M414.9,617.5q0.7,-12.8 -0.7,-25.6M416.2,617.6q-1.5,-9.2 1.6,-18.5M417.7,617.7q0.9,-18.0 -1.3,-36.0M419.4,617.9q1.1,-20.2 -0.0,-40.4M420.4,618.0q-0.9,-19.6 1.5,-39.1M422.0,618.2q-0.0,-19.0 0.9,-37.9M422.9,618.3q1.0,-11.9 -1.8,-23.9M424.3,618.4q-0.5,-12.9 0.6,-25.8M425.5,618.5q-1.5,-10.4 1.7,-20.8M427.1,618.7q-0.9,-8.0 -1.3,-16.0M428.7,618.8q1.4,-11.1 -0.5,-22.1M429.7,618.9q0.9,-10.8 0.1,-21.6M431.2,619.0q-0.6,-12.0 -0.7,-24.0M432.1,619.0q0.9,-13.3 0.7,-26.5M433.1,619.1q0.3,-10.7 1.2,-21.3M434.0,619.2q-0.9,-10.8 1.7,-21.6M435.0,619.2q1.2,-9.8 0.9,-19.6M435.9,619.3q-0.6,-8.8 -1.1,-17.7M437.2,619.4q-1.1,-8.9 -0.8,-17.8M438.9,619.5q-1.4,-18.9 2.0,-37.7M440.0,619.5q-0.2,-22.1 1.0,-44.1M441.0,619.6q-0.4,-18.9 -1.3,-37.8M441.8,619.6q0.0,-22.0 0.9,-44.1M443.2,619.7q-0.3,-13.7 0.5,-27.3M444.6,619.8q0.9,-14.6 0.3,-29.2M445.8,619.9q1.0,-15.6 1.7,-31.2" fill="none" stroke="#d79d45" stroke-width="0.8" stroke-linecap="round"/><path d="M416.5,617.6q-1.6,-23.0 0.6,-41.4q0.6,-2.8 -1.0,-4.0q-1.6,-1.2 -3.4,-0.6q2.2,0 2.8,1.9M418.3,617.6q1.6,-20.7 0.4,-38.6" fill="none" stroke="#d79d45" stroke-width="0.9" stroke-linecap="round"/>
<path d="M447.0,619.9q0.1,-15.9 0.9,-26.4M447.8,620.0q-0.1,-13.3 -0.9,-22.2M448.7,620.0q-0.1,-11.0 -0.4,-18.4M449.6,620.1q0.1,-14.9 0.6,-24.9M450.2,620.1q-0.0,-13.1 -0.2,-21.8M451.0,620.2q0.1,-13.0 0.9,-21.6M452.0,620.2q0.1,-11.5 0.8,-19.2M452.9,620.3q-0.0,-12.8 -0.1,-21.3M454.0,620.3q0.0,-10.6 0.2,-17.6M454.5,620.4q0.3,-15.3 2.2,-25.4M455.3,620.4q0.1,-10.9 0.4,-18.2M456.0,620.5q0.0,-14.8 0.1,-24.7M456.9,620.5q0.0,-15.5 0.1,-25.9M457.6,620.6q-0.2,-16.2 -1.4,-27.1M458.4,620.6q0.2,-12.7 1.3,-21.2M459.0,620.6q-0.1,-16.5 -0.7,-27.4M459.4,620.7q-0.1,-12.0 -0.5,-20.0M459.9,620.7q-0.1,-12.9 -0.4,-21.5M460.8,620.8q-0.2,-12.4 -1.2,-20.7M461.4,620.8q0.3,-14.9 2.2,-24.8M462.1,620.9q0.2,-11.6 1.5,-19.3M462.8,620.9q-0.3,-11.5 -1.9,-19.2M463.7,621.0q0.1,-15.3 0.7,-25.4M464.5,621.0q-0.2,-13.7 -1.4,-22.8M465.5,621.1q0.1,-12.4 0.7,-20.6M466.4,621.2q-0.0,-15.2 -0.2,-25.4M467.1,621.2q-0.3,-13.6 -1.9,-22.6M468.0,621.3q0.3,-12.3 1.8,-20.6M468.6,621.3q-0.2,-12.5 -1.2,-20.8M469.3,621.4q-0.4,-11.3 -2.5,-18.8M470.2,621.5q-0.2,-11.9 -1.3,-19.8M470.8,621.5q-0.1,-13.1 -0.4,-21.8M471.7,621.6q-0.1,-14.2 -0.7,-23.6M472.7,621.7q-0.3,-15.4 -2.2,-25.6M473.6,621.8q0.2,-15.7 1.4,-26.1M474.2,621.8q0.1,-15.2 0.7,-25.3M474.6,621.9q0.3,-10.1 2.3,-16.9M475.5,621.9q-0.3,-11.6 -2.0,-19.3M476.0,622.0q0.2,-11.5 1.4,-19.1M476.6,622.1q0.3,-11.0 2.0,-18.3M477.6,622.1q0.3,-11.0 2.0,-18.4M478.4,622.2q0.1,-14.8 0.8,-24.7M479.4,622.3q0.3,-14.8 1.7,-24.7M479.9,622.4q0.0,-14.2 0.2,-23.7M480.8,622.5q0.3,-12.7 1.9,-21.1M481.6,622.6q-0.2,-11.6 -1.3,-19.3M482.2,622.6q-0.3,-13.0 -2.2,-21.6M482.9,622.7q-0.0,-10.8 -0.0,-18.0M483.6,622.8q0.3,-13.2 1.8,-22.0M484.1,622.8q-0.0,-15.0 -0.2,-25.1M484.9,622.9q0.3,-14.0 1.7,-23.3M485.6,623.0q0.3,-12.5 2.3,-20.8M486.0,623.0q0.1,-13.8 0.7,-23.0M486.5,623.1q0.1,-13.6 0.9,-22.7M487.5,623.2q0.4,-11.9 2.4,-19.8M488.3,623.3q0.3,-12.8 2.0,-21.4M488.7,623.3q0.1,-14.2 0.6,-23.7M489.4,623.4q-0.1,-15.1 -0.7,-25.1M490.1,623.5q0.2,-13.0 1.4,-21.7M490.7,623.5q-0.1,-12.5 -0.4,-20.8M491.5,623.6q-0.2,-14.8 -1.0,-24.7M492.4,623.7q0.0,-12.3 0.0,-20.4M493.1,623.8q0.4,-12.9 2.4,-21.4M493.9,623.9q-0.1,-14.6 -0.8,-24.3M494.5,624.0q0.1,-11.6 0.4,-19.3M495.4,624.1q-0.3,-14.5 -2.3,-24.1M496.3,624.2q0.0,-15.1 0.2,-25.1M496.7,624.2q-0.4,-11.6 -2.5,-19.3M497.3,624.3q0.1,-15.3 0.5,-25.5M498.1,624.4q0.3,-14.5 2.0,-24.1M499.0,624.5q0.1,-13.4 0.6,-22.4M499.8,624.6q0.1,-13.3 0.9,-22.1M500.4,624.7q-0.0,-13.7 -0.2,-22.8M501.3,624.8q-0.2,-10.3 -1.6,-17.2M501.8,624.9q0.3,-14.3 2.1,-23.8M502.6,625.0q0.2,-11.9 1.6,-19.8M503.5,625.1q-0.2,-13.0 -1.2,-21.7" fill="none" stroke="#3cc032" stroke-width="0.7" stroke-linecap="round"/>
<path d="M447.9,592.9V604.5H450.7V592.9Q449.3,590.5 447.9,592.9ZM457.9,592.7V603.0H460.7V592.7Q459.3,590.3 457.9,592.7ZM469.4,595.2V604.5H472.2V595.2Q470.8,592.8 469.4,595.2ZM480.0,592.2V603.5H482.8V592.2Q481.4,589.8 480.0,592.2ZM485.8,596.2V605.0H488.5V596.2Q487.1,593.8 485.8,596.2ZM493.6,592.7V604.5H496.4V592.7Q495.0,590.3 493.6,592.7ZM499.3,597.2V605.5H502.1V597.2Q500.7,594.8 499.3,597.2ZM465.6,596.2V605.0H468.4V596.2Q467.0,593.8 465.6,596.2Z" fill="#c9a6f2" fill-opacity="0.55" stroke="#9a35f5" stroke-width="0.7" stroke-linejoin="round"/>
<path d="M513.0,626.3V610.8M513.0,625.3l-2.2,-9.1M513.0,625.3l2.2,-9.1M523.4,627.9V611.9M523.4,626.9l-2.2,-9.3M523.4,626.9l2.2,-9.3M517.6,627.0V616.5M533.1,629.6V613.8M533.1,628.6l-2.2,-9.2M533.1,628.6l2.2,-9.2M527.4,628.5V618.1" fill="none" stroke="#2cc326" stroke-width="1.25" stroke-linecap="round"/><path d="M511.0,609.8a1.85,1.85 0 1,0 3.70,0a1.85,1.85 0 1,0 -3.70,0M521.8,610.9a1.85,1.85 0 1,0 3.70,0a1.85,1.85 0 1,0 -3.70,0M515.8,616.1a1.85,1.85 0 1,0 3.70,0a1.85,1.85 0 1,0 -3.70,0M531.0,612.8a1.85,1.85 0 1,0 3.70,0a1.85,1.85 0 1,0 -3.70,0M525.5,617.8a1.85,1.85 0 1,0 3.70,0a1.85,1.85 0 1,0 -3.70,0" fill="#ad2828" stroke="none"/>
<path d="M505.6,607.5a1.45,1.45 0 1,0 2.90,0a1.45,1.45 0 1,0 -2.90,0M509.6,606.5a1.45,1.45 0 1,0 2.90,0a1.45,1.45 0 1,0 -2.90,0M517.0,606.0a1.45,1.45 0 1,0 2.90,0a1.45,1.45 0 1,0 -2.90,0M520.0,607.5a1.45,1.45 0 1,0 2.90,0a1.45,1.45 0 1,0 -2.90,0M528.0,606.5a1.45,1.45 0 1,0 2.90,0a1.45,1.45 0 1,0 -2.90,0M531.0,607.5a1.45,1.45 0 1,0 2.90,0a1.45,1.45 0 1,0 -2.90,0M537.0,608.5a1.45,1.45 0 1,0 2.90,0a1.45,1.45 0 1,0 -2.90,0M515.0,613.0a1.45,1.45 0 1,0 2.90,0a1.45,1.45 0 1,0 -2.90,0M523.0,615.0a1.45,1.45 0 1,0 2.90,0a1.45,1.45 0 1,0 -2.90,0M534.5,614.5a1.45,1.45 0 1,0 2.90,0a1.45,1.45 0 1,0 -2.90,0M526.0,609.5a1.45,1.45 0 1,0 2.90,0a1.45,1.45 0 1,0 -2.90,0M503.6,613.0a1.45,1.45 0 1,0 2.90,0a1.45,1.45 0 1,0 -2.90,0" fill="#ad2828" stroke="none"/>
<path d="M540.0,630.9q-0.3,-20.8 3.3,-32.1M541.1,631.1q-0.2,-15.5 1.6,-23.9M541.7,618.0q0.6,-4.8 2.6,-7.9M542.8,631.4q-0.2,-21.8 2.4,-33.5M543.6,613.0q0.6,-6.7 3.0,-11.1M543.6,631.6q-0.0,-19.5 0.1,-30.1M543.6,615.0q0.6,-6.0 1.9,-9.9M544.3,631.7q-0.4,-15.3 4.2,-23.6M545.8,618.7q0.6,-4.7 3.9,-7.8M546.0,632.0q-0.6,-15.8 5.9,-24.3M548.0,618.7q0.6,-4.9 4.7,-8.0M546.7,632.2q-0.0,-19.9 0.4,-30.5M547.6,632.3q-0.5,-15.5 5.0,-23.8M549.1,632.6q0.1,-19.8 -1.0,-30.4M548.8,615.9q0.6,-6.1 1.3,-10.0M550.5,632.9q-0.6,-18.0 6.4,-27.6M552.8,617.7q0.6,-5.5 5.0,-9.1M552.2,633.3q0.2,-19.5 -1.7,-30.0M551.6,616.7q0.6,-6.0 1.0,-9.9M553.5,633.5q0.1,-20.1 -1.1,-30.9M553.2,616.5q0.6,-6.2 1.3,-10.2M555.0,633.8q-0.6,-15.9 5.8,-24.4M557.0,620.4q0.6,-4.9 4.7,-8.1M555.7,634.0q-0.3,-17.1 3.3,-26.3M556.9,619.5q0.6,-5.3 3.4,-8.7M557.1,634.2q-0.5,-15.6 5.2,-24.1M558.9,621.0q0.6,-4.8 4.4,-7.9M558.4,634.5q-0.2,-18.6 1.9,-28.6M559.1,618.8q0.6,-5.7 2.8,-9.5M559.9,634.8q-0.5,-20.5 5.1,-31.6M561.7,617.5q0.6,-6.3 4.4,-10.4M560.9,635.0q-0.7,-14.9 6.8,-23.0M562.4,635.4q-0.4,-16.6 3.6,-25.5M564.0,635.7q-0.1,-18.1 1.0,-27.9M564.3,620.3q0.6,-5.6 2.3,-9.2M565.5,636.0q-0.4,-16.7 4.2,-25.6M567.0,621.9q0.6,-5.1 3.9,-8.5M567.1,636.4q-0.1,-19.2 0.7,-29.6M567.4,620.1q0.6,-5.9 2.2,-9.8M568.1,636.6q-0.3,-16.8 3.4,-25.9M569.7,636.9q-0.6,-14.4 5.5,-22.2M571.2,637.3q-0.1,-17.6 0.6,-27.0M572.7,637.7q-0.6,-18.2 6.2,-27.9M574.9,622.3q0.6,-5.6 4.9,-9.2M573.5,637.9q-0.5,-17.3 5.2,-26.7M575.3,623.2q0.6,-5.3 4.4,-8.8M574.9,638.2q-0.0,-19.5 0.3,-30.0M575.0,621.7q0.6,-6.0 1.9,-9.9M576.3,638.6q-0.0,-16.6 0.1,-25.6M576.3,624.5q0.6,-5.1 1.8,-8.5M577.8,639.0q-0.2,-18.5 2.3,-28.5M578.5,623.4q0.6,-5.7 2.9,-9.4M579.2,639.5q-0.0,-18.3 0.3,-28.2M579.3,624.0q0.6,-5.6 1.9,-9.3M580.8,640.0q-0.3,-18.9 2.8,-29.0M581.8,624.1q0.6,-5.8 3.2,-9.6M582.1,640.5q0.0,-14.7 -0.1,-22.7M582.1,628.0q0.6,-4.5 1.8,-7.5M583.5,641.0q-0.3,-15.7 3.2,-24.1M584.6,627.7q0.6,-4.8 3.4,-8.0M584.7,641.4q0.1,-14.4 -1.4,-22.1M585.8,641.8q-0.4,-14.1 3.8,-21.7M586.7,642.0q-0.1,-16.9 1.3,-25.9M587.1,627.7q0.6,-5.2 2.4,-8.6M587.4,642.2q-0.7,-13.6 6.9,-20.9M588.6,642.3q-0.1,-16.6 0.5,-25.5M589.7,642.5q-0.5,-18.7 5.0,-28.7M591.4,644.4q0.1,-14.7 -1.4,-22.6M590.9,632.0q0.6,-4.5 1.1,-7.4" fill="none" stroke="#35ea14" stroke-width="0.6" stroke-linecap="round"/>
<path d="M721.0,636.1H727.4V666.5L722.0,673.2L721.0,673Z" fill="#bb8877" stroke="#8f5f50" stroke-width="0.5"/>
<g fill="none" stroke="#62dc28" stroke-width="0.6"><ellipse cx="734.5" cy="640.3" rx="5.6" ry="3"/><ellipse cx="741.5" cy="642.6" rx="5.2" ry="2.4"/><ellipse cx="749.5" cy="639.3" rx="5" ry="3"/><ellipse cx="756" cy="641.4" rx="4.6" ry="2.2"/><ellipse cx="759.5" cy="637.4" rx="4" ry="2.6"/></g>
<path d="M733.3,640.4a1.90,1.90 0 1,0 3.80,0a1.90,1.90 0 1,0 -3.80,0M747.4,639.2a1.90,1.90 0 1,0 3.80,0a1.90,1.90 0 1,0 -3.80,0M757.5,637.0a1.90,1.90 0 1,0 3.80,0a1.90,1.90 0 1,0 -3.80,0" fill="#f0ee40" stroke="none"/>
<path d="M760,643.5l0.5,-6l1.8,3.5l1.6,-6l1.4,5l2.2,-4.5l0.8,4.5l2.4,-3l0.6,5.5Z" fill="#45e81a" stroke="#45e81a" stroke-width="0.5"/>
<path d="M770.0,642.7q0.2,-5.5 -2.0,-10.9M771.6,642.5q1.5,-7.0 2.0,-14.1M772.4,642.3q-1.4,-7.6 -0.5,-15.2M774.1,642.1q0.5,-6.2 0.3,-12.4M775.8,641.9q-0.2,-7.9 -0.5,-15.8M776.7,641.8q-1.0,-9.2 2.2,-18.3M777.5,641.7q1.4,-6.2 -0.7,-12.4M779.2,641.6q1.0,-8.6 -2.0,-17.2M780.6,641.5q-1.6,-7.8 2.1,-15.6M781.5,641.4q0.6,-8.3 1.9,-16.5M782.6,641.3q-1.4,-7.6 1.1,-15.2M783.7,641.3q-0.1,-6.2 -1.7,-12.4M784.6,641.2q0.6,-6.1 -1.6,-12.2M785.5,641.2q-1.7,-8.1 -1.3,-16.2M787.1,641.1q1.3,-6.0 1.9,-12.1M788.7,641.1q-1.5,-5.7 -0.2,-11.4M790.3,641.0q-0.2,-8.6 0.6,-17.3M791.4,641.0q0.5,-8.6 -0.1,-17.1M792.4,641.0q0.8,-6.0 -2.0,-12.1M793.7,641.0q-0.8,-5.7 1.6,-11.4M794.8,640.9q1.2,-5.8 -1.0,-11.5M795.9,640.9q-0.7,-5.8 -0.0,-11.6M797.5,640.9q1.4,-14.4 -1.9,-28.9M798.9,640.8q-0.9,-13.0 -0.9,-26.0M799.9,640.8q1.5,-14.5 2.2,-28.9M800.8,640.8q0.8,-14.2 -1.9,-28.4M801.9,640.8q1.1,-9.2 -2.1,-18.4M803.0,640.7q1.2,-5.7 -2.2,-11.4M804.3,640.7q-1.0,-11.5 1.8,-23.1M805.6,640.7q0.8,-10.9 1.2,-21.7M806.5,640.7q-0.0,-10.6 0.5,-21.3M807.6,640.6q1.1,-12.0 0.9,-24.0" fill="none" stroke="#d79d45" stroke-width="0.8" stroke-linecap="round"/><path d="M774.5,642.0q-1.6,-15.0 0.6,-27.0q0.6,-2.8 -1.0,-4.0q-1.6,-1.2 -3.4,-0.6q2.2,0 2.8,1.9M776.3,642.0q1.6,-13.5 0.4,-25.2M788.5,641.1q-1.6,-15.0 0.6,-27.0q0.6,-2.8 -1.0,-4.0q-1.6,-1.2 -3.4,-0.6q2.2,0 2.8,1.9M790.3,641.1q1.6,-13.5 0.4,-25.2" fill="none" stroke="#d79d45" stroke-width="0.9" stroke-linecap="round"/>
<path d="M806.0,640.7q0.1,-15.8 -0.8,-24.3M807.1,640.6q0.1,-19.0 -0.9,-29.3M808.1,640.6q-0.4,-19.8 4.2,-30.4M809.5,623.9q0.6,-6.1 3.9,-10.0M808.8,640.6q-0.2,-20.2 1.7,-31.0M809.7,640.6q-0.4,-15.6 3.9,-24.1M811.1,627.3q0.6,-4.8 3.8,-7.9M810.5,640.5q-0.2,-16.8 2.5,-25.8M811.4,626.3q0.6,-5.2 3.0,-8.5M811.7,640.5q-0.2,-17.2 2.0,-26.5M812.4,625.9q0.6,-5.3 2.8,-8.7M813.1,640.4q-0.4,-19.5 4.2,-29.9M814.5,624.0q0.6,-6.0 3.9,-9.9M814.4,640.4q-0.3,-16.7 3.4,-25.8M815.6,626.2q0.6,-5.2 3.5,-8.5M815.9,640.3q-0.2,-20.2 1.8,-31.1M816.5,623.2q0.6,-6.2 2.7,-10.3M817.1,640.3q0.1,-17.6 -1.1,-27.1M818.0,640.3q0.1,-15.4 -0.6,-23.7M817.8,627.2q0.6,-4.7 1.5,-7.8M819.4,640.2q0.1,-14.5 -0.6,-22.3M819.2,628.0q0.6,-4.5 1.5,-7.3M820.3,640.2q-0.2,-14.4 2.5,-22.1M821.2,628.0q0.6,-4.4 3.0,-7.3M821.5,640.2q0.1,-18.5 -0.6,-28.5M822.8,640.1q0.0,-14.5 -0.5,-22.3M822.6,627.9q0.6,-4.5 1.6,-7.4M824.0,640.1q0.0,-15.9 -0.5,-24.4M823.8,626.6q0.6,-4.9 1.6,-8.1M824.8,640.1q-0.4,-17.8 4.1,-27.3M826.2,625.0q0.6,-5.5 3.9,-9.0M826.0,640.0q0.0,-18.7 -0.2,-28.7M827.5,640.0q-0.1,-16.5 1.4,-25.3M828.7,639.9q-0.5,-16.5 4.6,-25.4M829.7,639.9q-0.1,-15.5 0.8,-23.9M830.0,626.7q0.6,-4.8 2.2,-7.9M831.3,639.8q-0.4,-18.9 4.5,-29.0M832.8,639.8q-0.2,-14.3 2.0,-22.0M834.3,639.7q-0.1,-15.5 1.4,-23.8M834.8,626.6q0.6,-4.8 2.5,-7.9M835.4,639.7q0.1,-17.1 -0.8,-26.3M835.1,625.2q0.6,-5.3 1.4,-8.7M836.5,639.6q0.0,-14.1 -0.4,-21.6M837.9,639.6q-0.3,-19.5 2.7,-30.0M839.4,639.5q0.1,-19.1 -1.0,-29.4M839.1,623.3q0.6,-5.9 1.3,-9.7M840.3,639.5q-0.0,-17.9 0.5,-27.5M840.5,624.3q0.6,-5.5 2.0,-9.1M841.9,639.4q-0.0,-17.5 0.3,-26.9M842.0,624.6q0.6,-5.4 2.0,-8.9M843.0,639.3q-0.1,-19.4 0.5,-29.9M843.2,622.9q0.6,-6.0 2.1,-9.9M844.3,639.3q-0.2,-14.5 2.5,-22.3M845.4,639.2q-0.2,-15.3 1.7,-23.6M846.0,626.2q0.6,-4.7 2.6,-7.8M846.3,639.1q0.0,-14.5 -0.4,-22.2M846.1,626.9q0.6,-4.4 1.6,-7.3M847.3,639.1q-0.0,-15.4 0.3,-23.7M847.4,626.0q0.6,-4.7 1.9,-7.8M848.5,639.0q-0.3,-18.6 2.6,-28.6M849.4,623.3q0.6,-5.7 3.1,-9.4M849.8,638.9q-0.3,-14.8 3.2,-22.8M850.9,626.4q0.6,-4.6 3.4,-7.5" fill="none" stroke="#35ea14" stroke-width="0.65" stroke-linecap="round"/>
<path d="M849.0,639.0q-0.0,-14.5 -0.2,-24.2M849.6,638.9q-0.3,-11.2 -1.7,-18.7M850.4,638.9q0.1,-12.5 0.5,-20.8M850.9,638.8q0.3,-12.2 2.2,-20.4M851.4,638.8q-0.0,-14.1 -0.1,-23.4M852.1,638.7q-0.2,-18.0 -1.2,-30.0M853.0,638.7q-0.4,-10.5 -2.6,-17.5M854.0,638.6q-0.4,-13.1 -2.6,-21.8M854.6,638.5q0.2,-13.1 1.4,-21.8M855.1,638.5q0.4,-11.1 2.8,-18.6M856.0,638.4q-0.1,-10.5 -1.0,-17.5M856.7,638.4q0.1,-15.3 0.7,-25.4M857.7,638.3q0.0,-16.6 0.1,-27.7M858.6,638.2q0.2,-15.9 1.6,-26.6M859.3,638.1q0.2,-16.3 1.3,-27.2M860.3,638.0q0.3,-10.3 2.2,-17.2M860.7,637.9q0.1,-16.2 0.5,-27.0M861.5,637.9q0.1,-18.0 0.4,-30.0M862.2,637.8q0.3,-16.4 2.2,-27.3M863.0,637.7q-0.0,-12.7 -0.3,-21.2M863.7,637.6q-0.2,-15.9 -1.2,-26.5M864.4,637.5q-0.1,-14.4 -0.7,-23.9M865.1,637.5q0.3,-16.5 2.1,-27.5M865.8,637.4q-0.3,-13.4 -1.9,-22.3M866.4,637.3q0.1,-10.6 0.5,-17.7M867.2,637.2q0.4,-10.1 2.5,-16.8M867.9,637.2q0.3,-17.1 2.0,-28.5M868.9,637.0q-0.1,-11.2 -0.4,-18.7M869.9,636.9q-0.4,-9.4 -2.7,-15.7M870.7,636.8q0.4,-14.0 2.5,-23.3M871.6,636.7q0.4,-14.4 3.0,-23.9M872.4,636.6q0.2,-14.2 1.1,-23.6M873.1,636.6q0.1,-12.7 0.6,-21.2M873.7,636.5q0.2,-18.2 1.1,-30.4M874.5,636.4q-0.1,-10.3 -0.8,-17.2M875.2,636.3q0.1,-14.7 0.4,-24.4M876.1,636.2q-0.0,-18.5 -0.1,-30.8M876.9,636.1q0.4,-15.3 3.0,-25.5M877.5,636.1q0.3,-14.4 1.9,-24.0M878.1,636.0q0.4,-12.4 2.9,-20.7M879.0,635.9q-0.4,-14.3 -2.3,-23.8M880.0,635.8q0.3,-16.0 1.9,-26.6M881.0,635.7q-0.1,-17.9 -0.5,-29.8M881.6,635.6q0.0,-12.2 0.1,-20.4M882.3,635.5q-0.3,-11.3 -1.9,-18.8M883.2,635.5q-0.1,-15.2 -0.9,-25.4M884.2,635.3q-0.4,-15.6 -2.7,-26.0M884.9,635.3q-0.2,-17.0 -1.2,-28.4M885.8,635.2q-0.2,-9.6 -1.2,-16.0M886.7,635.0q0.2,-15.2 1.0,-25.3M887.3,635.0q0.0,-14.3 0.3,-23.9M887.9,634.9q0.0,-15.8 0.2,-26.3M889.0,634.8q-0.1,-15.1 -0.5,-25.2M889.5,634.7q0.2,-11.1 1.6,-18.5M890.0,634.7q-0.3,-10.6 -2.0,-17.6M890.8,634.6q0.1,-17.5 0.7,-29.2M891.7,634.5q-0.4,-10.2 -2.9,-17.1M892.6,634.4q0.2,-12.8 1.3,-21.3M893.3,634.3q-0.2,-11.3 -1.4,-18.8M893.8,634.2q0.1,-18.4 0.5,-30.7M894.4,634.2q-0.1,-14.0 -0.7,-23.4M894.9,634.1q0.1,-18.3 0.5,-30.5M895.9,634.0q0.1,-14.0 0.7,-23.3M896.5,633.9q0.4,-10.1 2.6,-16.9M897.5,633.8q0.4,-12.8 2.4,-21.3M898.4,633.7q0.1,-12.7 0.6,-21.1M899.5,633.6q0.4,-14.6 2.7,-24.3M900.1,633.5q0.2,-13.6 1.3,-22.6M900.7,633.5q0.3,-12.8 2.3,-21.3M901.4,633.4q-0.2,-17.5 -1.5,-29.2M901.9,633.3q-0.3,-13.3 -1.9,-22.2M903.0,633.2q0.1,-12.6 0.4,-21.1M903.5,633.2q-0.1,-15.0 -0.7,-25.1M904.2,633.1q-0.3,-10.5 -2.3,-17.4M905.1,633.0q-0.2,-13.3 -1.5,-22.1M905.7,633.0q-0.2,-12.6 -1.6,-21.1M906.2,632.9q-0.1,-16.4 -1.0,-27.3M906.7,632.9q-0.4,-16.8 -2.4,-28.0M907.3,632.8q-0.3,-18.1 -2.2,-30.2M908.0,632.8q0.3,-18.1 1.8,-30.2M908.6,632.7q0.2,-13.4 1.3,-22.3M909.3,632.7q-0.3,-19.4 -1.8,-32.3M910.3,632.6q-0.2,-14.9 -1.6,-24.8M911.0,632.6q0.2,-11.2 1.2,-18.7M911.6,632.6q0.1,-18.9 0.5,-31.4M912.3,632.6q0.1,-12.4 0.6,-20.6M912.9,632.6q-0.3,-18.6 -2.3,-31.0M913.6,632.6q-0.2,-15.4 -1.4,-25.6M914.5,632.6q0.1,-13.8 0.9,-23.0M915.3,632.6q-0.1,-13.1 -0.7,-21.8M915.8,632.6q0.3,-11.8 2.1,-19.6M916.5,632.6q-0.4,-16.6 -2.3,-27.7M917.3,632.6q0.0,-13.6 0.0,-22.7M917.9,632.6q-0.2,-10.7 -1.1,-17.8M918.5,632.6q0.2,-11.3 1.3,-18.8M919.1,632.6q0.4,-14.1 2.5,-23.5M920.0,632.6q0.3,-18.9 2.2,-31.5M920.5,632.6q-0.4,-12.8 -2.8,-21.4M921.4,632.5q-0.1,-16.8 -0.9,-27.9M922.1,632.5q0.2,-16.7 1.2,-27.9M922.7,632.5q-0.1,-18.6 -0.9,-31.1M923.5,632.5q-0.3,-11.9 -2.3,-19.9M924.5,632.5q0.2,-17.5 1.3,-29.2M925.0,632.5q-0.3,-10.5 -2.0,-17.6M925.6,632.5q-0.1,-13.2 -0.7,-22.0M926.0,632.5q0.1,-13.3 0.8,-22.2M926.6,632.5q0.1,-18.7 0.4,-31.1M927.5,632.5q-0.1,-12.8 -0.4,-21.3M928.3,632.5q-0.4,-13.7 -3.0,-22.9M929.3,632.5q-0.2,-18.1 -1.3,-30.2M929.8,632.5q0.1,-18.9 0.6,-31.5" fill="none" stroke="#33b82d" stroke-width="0.55" stroke-linecap="round"/>
<path d="M850.8,609.0a1.50,1.50 0 1,0 3.00,0a1.50,1.50 0 1,0 -3.00,0M856.0,608.5a1.50,1.50 0 1,0 3.00,0a1.50,1.50 0 1,0 -3.00,0M853.5,614.6a1.50,1.50 0 1,0 3.00,0a1.50,1.50 0 1,0 -3.00,0M884.2,604.4a1.50,1.50 0 1,0 3.00,0a1.50,1.50 0 1,0 -3.00,0M879.5,610.9a1.50,1.50 0 1,0 3.00,0a1.50,1.50 0 1,0 -3.00,0M897.2,603.4a1.50,1.50 0 1,0 3.00,0a1.50,1.50 0 1,0 -3.00,0M902.8,602.5a1.50,1.50 0 1,0 3.00,0a1.50,1.50 0 1,0 -3.00,0M877.5,605.0a1.50,1.50 0 1,0 3.00,0a1.50,1.50 0 1,0 -3.00,0M898.5,608.0a1.50,1.50 0 1,0 3.00,0a1.50,1.50 0 1,0 -3.00,0" fill="#e255c4" stroke="none"/>
<path d="M893.4,595.5a0.60,0.60 0 1,0 1.20,0a0.60,0.60 0 1,0 -1.20,0M902.4,597.0a0.60,0.60 0 1,0 1.20,0a0.60,0.60 0 1,0 -1.20,0M909.4,595.0a0.60,0.60 0 1,0 1.20,0a0.60,0.60 0 1,0 -1.20,0M870.4,599.5a0.60,0.60 0 1,0 1.20,0a0.60,0.60 0 1,0 -1.20,0M914.4,600.0a0.60,0.60 0 1,0 1.20,0a0.60,0.60 0 1,0 -1.20,0M920.4,604.0a0.60,0.60 0 1,0 1.20,0a0.60,0.60 0 1,0 -1.20,0" fill="#a070e8" stroke="none"/>
<path d="M859.4,631.3a1.60,1.60 0 1,0 3.20,0a1.60,1.60 0 1,0 -3.20,0M861.0,630.8a1.60,1.60 0 1,0 3.20,0a1.60,1.60 0 1,0 -3.20,0M862.6,632.5a1.60,1.60 0 1,0 3.20,0a1.60,1.60 0 1,0 -3.20,0M864.2,630.7a1.60,1.60 0 1,0 3.20,0a1.60,1.60 0 1,0 -3.20,0M865.8,632.5a1.60,1.60 0 1,0 3.20,0a1.60,1.60 0 1,0 -3.20,0M867.4,631.8a1.60,1.60 0 1,0 3.20,0a1.60,1.60 0 1,0 -3.20,0M869.0,629.8a1.60,1.60 0 1,0 3.20,0a1.60,1.60 0 1,0 -3.20,0M870.6,631.3a1.60,1.60 0 1,0 3.20,0a1.60,1.60 0 1,0 -3.20,0M872.2,630.3a1.60,1.60 0 1,0 3.20,0a1.60,1.60 0 1,0 -3.20,0M873.8,631.1a1.60,1.60 0 1,0 3.20,0a1.60,1.60 0 1,0 -3.20,0M875.4,631.2a1.60,1.60 0 1,0 3.20,0a1.60,1.60 0 1,0 -3.20,0M877.0,629.4a1.60,1.60 0 1,0 3.20,0a1.60,1.60 0 1,0 -3.20,0M878.6,628.7a1.60,1.60 0 1,0 3.20,0a1.60,1.60 0 1,0 -3.20,0M880.2,631.0a1.60,1.60 0 1,0 3.20,0a1.60,1.60 0 1,0 -3.20,0M881.8,629.3a1.60,1.60 0 1,0 3.20,0a1.60,1.60 0 1,0 -3.20,0M883.4,630.5a1.60,1.60 0 1,0 3.20,0a1.60,1.60 0 1,0 -3.20,0M885.0,629.7a1.60,1.60 0 1,0 3.20,0a1.60,1.60 0 1,0 -3.20,0M886.6,629.6a1.60,1.60 0 1,0 3.20,0a1.60,1.60 0 1,0 -3.20,0M888.2,629.7a1.60,1.60 0 1,0 3.20,0a1.60,1.60 0 1,0 -3.20,0M889.8,629.0a1.60,1.60 0 1,0 3.20,0a1.60,1.60 0 1,0 -3.20,0M891.4,628.3a1.60,1.60 0 1,0 3.20,0a1.60,1.60 0 1,0 -3.20,0M893.0,627.0a1.60,1.60 0 1,0 3.20,0a1.60,1.60 0 1,0 -3.20,0M894.6,628.6a1.60,1.60 0 1,0 3.20,0a1.60,1.60 0 1,0 -3.20,0M896.2,627.7a1.60,1.60 0 1,0 3.20,0a1.60,1.60 0 1,0 -3.20,0M897.8,627.7a1.60,1.60 0 1,0 3.20,0a1.60,1.60 0 1,0 -3.20,0M899.4,628.7a1.60,1.60 0 1,0 3.20,0a1.60,1.60 0 1,0 -3.20,0M901.0,626.3a1.60,1.60 0 1,0 3.20,0a1.60,1.60 0 1,0 -3.20,0M902.6,627.9a1.60,1.60 0 1,0 3.20,0a1.60,1.60 0 1,0 -3.20,0M904.2,625.8a1.60,1.60 0 1,0 3.20,0a1.60,1.60 0 1,0 -3.20,0M905.8,627.5a1.60,1.60 0 1,0 3.20,0a1.60,1.60 0 1,0 -3.20,0M907.4,627.7a1.60,1.60 0 1,0 3.20,0a1.60,1.60 0 1,0 -3.20,0M909.0,626.1a1.60,1.60 0 1,0 3.20,0a1.60,1.60 0 1,0 -3.20,0M910.6,626.9a1.60,1.60 0 1,0 3.20,0a1.60,1.60 0 1,0 -3.20,0M912.2,628.0a1.60,1.60 0 1,0 3.20,0a1.60,1.60 0 1,0 -3.20,0M913.8,627.1a1.60,1.60 0 1,0 3.20,0a1.60,1.60 0 1,0 -3.20,0M915.4,626.8a1.60,1.60 0 1,0 3.20,0a1.60,1.60 0 1,0 -3.20,0M917.0,626.0a1.60,1.60 0 1,0 3.20,0a1.60,1.60 0 1,0 -3.20,0M918.6,625.4a1.60,1.60 0 1,0 3.20,0a1.60,1.60 0 1,0 -3.20,0M920.2,626.2a1.60,1.60 0 1,0 3.20,0a1.60,1.60 0 1,0 -3.20,0M921.8,626.4a1.60,1.60 0 1,0 3.20,0a1.60,1.60 0 1,0 -3.20,0M923.4,625.8a1.60,1.60 0 1,0 3.20,0a1.60,1.60 0 1,0 -3.20,0" fill="#ee2626" stroke="none"/>
<path d="M111.8,596.4L112.8,596.5L114.1,596.7L115.7,597.0L117.4,597.3L119.3,597.6L121.2,597.9L123.0,598.2L124.7,598.4L126.2,598.6L127.3,598.7L128.4,598.8L129.6,599.0L131.0,599.1L132.6,599.2L134.8,599.4L137.6,599.6L141.2,599.8L145.2,600.1L149.8,600.4L154.7,600.6L159.9,600.9L165.2,601.3L170.5,601.6L175.8,602.0L181.2,602.4L186.7,602.9L192.4,603.4L198.2,603.9L204.1,604.4L210.0,604.9L215.9,605.3L221.9,605.7L227.9,606.0L234.2,606.3L240.6,606.5L247.0,606.7L253.3,606.8L259.2,607.0L264.8,607.2L269.9,607.4L274.4,607.6L278.4,607.8L282.0,608.0L285.4,608.1L288.6,608.3L291.7,608.6L294.9,608.9L298.3,609.3L301.9,609.8L305.7,610.4L309.5,611.0L313.3,611.7L317.0,612.5L320.6,613.1L323.8,613.8L326.7,614.3L329.1,614.7L330.9,615.0L332.4,615.4L333.8,615.6L335.3,615.9L336.9,616.1L338.8,616.3L341.3,616.5L344.1,616.6L347.2,616.7L350.4,616.8L353.9,616.9L357.6,616.9L361.5,617.0L365.6,617.1L369.9,617.2L374.8,617.4L380.2,617.6L386.1,617.9L392.1,618.2L398.0,618.5L403.5,618.8L408.6,619.1L412.8,619.3L415.9,619.5L418.2,619.7L419.8,619.8L421.2,620.0L422.6,620.2L424.3,620.3L426.6,620.5L429.8,620.8L434.0,621.1L438.8,621.4L444.1,621.7L449.7,622.0L455.5,622.3L461.4,622.7L467.2,623.1L472.7,623.6L478.1,624.1L483.7,624.7L489.3,625.3L494.9,625.9L500.4,626.6L505.7,627.3L510.7,627.9L515.4,628.6L519.6,629.2L523.5,629.8L527.1,630.4L530.5,631.0L533.8,631.6L537.1,632.2L540.4,632.9L543.9,633.6L547.6,634.3L551.4,635.0L555.3,635.8L559.1,636.6L562.9,637.4L566.4,638.2L569.6,638.9L572.4,639.5L574.8,640.1L576.8,640.7L578.6,641.3L580.2,641.8L581.6,642.3L582.9,642.8L584.1,643.2L585.3,643.6L586.4,643.9L587.3,644.1L588.1,644.2L588.6,644.2L588.9,644.3L589.0,644.3L588.9,644.3L589.0,644.3L589.1,644.4L589.1,644.5L589.2,644.7L589.4,645.1L589.6,645.6L589.8,646.2L590.1,647.0L590.4,647.7L590.7,648.3L591.0,648.9L591.3,649.7L591.7,650.6L592.2,651.6L592.8,652.6L593.6,653.7L594.6,654.7L595.8,655.6L597.0,656.4L598.3,657.3L599.7,658.2L601.3,659.0L602.9,659.8L604.5,660.6L606.3,661.3L608.1,662.0L610.0,662.7L612.0,663.4L614.1,664.1L616.2,664.7L618.3,665.2L620.4,665.7L622.5,666.2L624.4,666.5L626.1,666.8L627.8,667.1L629.6,667.3L631.4,667.4L633.4,667.6L635.8,667.7L638.5,667.8L641.8,667.9L645.5,668.0L649.5,668.1L653.8,668.1L658.1,668.1L662.3,668.2L666.4,668.1L670.0,668.1L673.4,668.0L676.7,668.0L679.8,667.9L682.9,667.8L685.8,667.6L688.6,667.5L691.3,667.2L693.8,667.0L696.3,666.7L698.5,666.3L700.7,665.9L702.7,665.5L704.6,665.0L706.4,664.6L708.1,664.2L709.8,663.7L711.5,663.3L713.1,662.9L714.6,662.5L716.0,662.1L717.4,661.7L718.8,661.2L720.2,660.8L721.7,660.3L723.2,659.8L724.6,659.3L726.0,658.8L727.5,658.2L728.9,657.7L730.4,657.1L732.0,656.5L733.7,655.8L735.5,655.1L737.4,654.3L739.4,653.5L741.4,652.6L743.4,651.8L745.4,651.0L747.4,650.3L749.3,649.6L751.2,649.0L753.1,648.4L755.0,647.9L757.0,647.4L758.9,647.0L760.8,646.6L762.8,646.2L764.7,645.8L766.6,645.4L768.3,645.0L769.9,644.7L771.5,644.4L773.3,644.1L775.2,643.9L777.5,643.6L780.2,643.4L783.2,643.2L786.7,643.1L790.4,642.9L794.4,642.8L798.6,642.7L802.8,642.7L807.2,642.5L811.5,642.4L815.9,642.2L820.6,642.1L825.4,641.9L830.3,641.8L835.2,641.6L839.9,641.4L844.5,641.1L848.7,640.9L852.7,640.6L856.4,640.3L859.9,639.9L863.3,639.6L866.6,639.2L869.9,638.8L873.2,638.5L876.6,638.1L880.2,637.7L884.0,637.3L887.9,636.8L891.7,636.4L895.3,636.0L898.8,635.6L901.9,635.3L904.5,635.0L906.5,634.8L908.0,634.7L908.9,634.6L909.7,634.6L910.5,634.5L911.5,634.5L913.0,634.5L915.0,634.5L917.9,634.5L921.5,634.4L925.6,634.4L929.8,634.4L934.0,634.4L937.8,634.4L941.0,634.4L943.3,634.4" fill="none" stroke="#333" stroke-width="0.7"/><path d="M112.2,594.2L113.2,594.4L114.5,594.6L116.1,594.8L117.8,595.1L119.6,595.4L121.5,595.7L123.3,596.0L125.0,596.2L126.4,596.4L127.6,596.5L128.7,596.7L129.8,596.8L131.1,596.9L132.8,597.0L135.0,597.2L137.8,597.4L141.3,597.6L145.4,597.9L149.9,598.2L154.8,598.4L160.0,598.8L165.3,599.1L170.7,599.4L176.0,599.8L181.4,600.2L186.9,600.7L192.6,601.2L198.4,601.7L204.3,602.2L210.2,602.7L216.1,603.1L222.0,603.5L228.0,603.8L234.3,604.1L240.7,604.3L247.1,604.5L253.3,604.6L259.3,604.8L264.9,605.0L270.0,605.2L274.5,605.4L278.5,605.6L282.2,605.8L285.5,605.9L288.7,606.2L291.9,606.4L295.2,606.7L298.6,607.1L302.3,607.6L306.1,608.2L309.9,608.9L313.7,609.6L317.5,610.3L321.0,611.0L324.2,611.6L327.1,612.1L329.5,612.5L331.3,612.9L332.9,613.2L334.2,613.5L335.6,613.7L337.2,613.9L339.0,614.1L341.4,614.3L344.2,614.4L347.2,614.5L350.4,614.6L353.9,614.7L357.6,614.7L361.5,614.8L365.6,614.9L370.0,615.0L374.9,615.2L380.3,615.4L386.2,615.7L392.2,616.0L398.1,616.3L403.7,616.6L408.7,616.9L412.9,617.1L416.1,617.3L418.4,617.5L420.1,617.6L421.4,617.8L422.8,618.0L424.5,618.1L426.8,618.4L430.0,618.6L434.1,618.9L438.9,619.2L444.2,619.5L449.8,619.8L455.7,620.1L461.6,620.5L467.4,620.9L472.9,621.4L478.4,621.9L483.9,622.5L489.6,623.1L495.2,623.8L500.7,624.4L506.0,625.1L511.0,625.8L515.7,626.4L520.0,627.0L523.8,627.6L527.5,628.2L530.9,628.8L534.2,629.5L537.5,630.1L540.8,630.7L544.3,631.4L548.0,632.1L551.8,632.9L555.7,633.7L559.6,634.5L563.3,635.2L566.8,636.0L570.1,636.7L572.9,637.4L575.3,638.0L577.4,638.6L579.3,639.2L580.9,639.8L582.3,640.3L583.6,640.7L584.8,641.1L585.9,641.5L586.9,641.8L587.7,641.9L588.3,642.0L588.8,642.0L589.3,642.1L589.6,642.2L590.0,642.3L590.4,642.6L590.8,643.0L591.0,643.4L591.3,643.8L591.5,644.3L591.6,644.9L591.8,645.5L592.1,646.1L592.4,646.7L592.7,647.4L593.0,648.1L593.3,648.9L593.7,649.7L594.1,650.5L594.6,651.4L595.3,652.2L596.1,653.0L597.1,653.8L598.2,654.6L599.5,655.4L600.8,656.2L602.3,657.1L603.8,657.8L605.4,658.6L607.1,659.3L608.8,660.0L610.7,660.7L612.7,661.3L614.7,661.9L616.8,662.5L618.8,663.1L620.9,663.6L622.9,664.0L624.8,664.4L626.5,664.6L628.1,664.9L629.8,665.1L631.6,665.2L633.6,665.4L635.9,665.5L638.6,665.6L641.8,665.7L645.5,665.8L649.6,665.9L653.8,665.9L658.1,665.9L662.3,666.0L666.3,665.9L670.0,665.9L673.4,665.8L676.6,665.8L679.8,665.7L682.8,665.6L685.7,665.4L688.4,665.3L691.1,665.0L693.6,664.8L696.0,664.5L698.2,664.2L700.2,663.8L702.2,663.3L704.1,662.9L705.8,662.5L707.6,662.0L709.3,661.6L711.0,661.2L712.5,660.8L714.0,660.4L715.4,660.0L716.8,659.6L718.2,659.1L719.6,658.7L721.0,658.2L722.5,657.7L723.9,657.2L725.3,656.7L726.7,656.2L728.2,655.6L729.7,655.1L731.2,654.4L732.9,653.8L734.7,653.1L736.6,652.3L738.5,651.5L740.5,650.6L742.5,649.8L744.6,649.0L746.6,648.2L748.6,647.5L750.6,646.9L752.5,646.3L754.5,645.8L756.5,645.3L758.4,644.8L760.4,644.4L762.3,644.0L764.3,643.6L766.2,643.2L767.9,642.9L769.5,642.5L771.2,642.2L773.0,641.9L775.0,641.7L777.3,641.4L780.0,641.2L783.1,641.0L786.6,640.9L790.4,640.7L794.4,640.6L798.5,640.6L802.8,640.5L807.1,640.3L811.4,640.2L815.8,640.0L820.5,639.9L825.3,639.7L830.2,639.6L835.1,639.4L839.8,639.2L844.4,639.0L848.6,638.7L852.5,638.4L856.2,638.1L859.7,637.8L863.1,637.4L866.4,637.0L869.7,636.7L873.0,636.3L876.4,635.9L880.0,635.5L883.8,635.1L887.6,634.6L891.4,634.2L895.1,633.8L898.5,633.4L901.6,633.1L904.3,632.8L906.3,632.6L907.8,632.5L908.8,632.4L909.6,632.4L910.5,632.3L911.5,632.3L912.9,632.3L915.0,632.3L917.9,632.3L921.5,632.2L925.6,632.2L929.8,632.2L934.0,632.2L937.8,632.2L941.0,632.2L943.3,632.2" fill="none" stroke="#111" stroke-width="1.55" stroke-linejoin="round"/>
<g class="ax"><text x="391.0" y="672.6" font-size="6.5" textLength="86.5" lengthAdjust="spacing">summer-autumn interests</text></g>
<g fill="none" stroke="#2c2c2c" stroke-width="0.95">
<path d="M135.3,693.8V894.1M102.0,693.8H135.3M111.0,726.8H135.3M118.2,760.2H135.3M123.5,793.4H135.3M117.7,826.7H135.3M125.2,859.4H135.3M112.8,894.1H135.3"/>
</g><g class="ax">
<text x="87.1" y="696.2" font-size="6.5" textLength="8.6" lengthAdjust="spacingAndGlyphs">5m</text>
<text x="98.9" y="729.2" font-size="6.5" textLength="8.9" lengthAdjust="spacingAndGlyphs">4m</text>
<text x="105.1" y="762.6" font-size="6.5" textLength="7.9" lengthAdjust="spacingAndGlyphs">3m</text>
<text x="110.3" y="795.8" font-size="6.5" textLength="8.2" lengthAdjust="spacingAndGlyphs">2m</text>
<text x="108.3" y="829.1" font-size="6.5" textLength="6.6" lengthAdjust="spacingAndGlyphs">1m</text>
<text x="116.3" y="860.7" font-size="6.5" textLength="3.2" lengthAdjust="spacingAndGlyphs">0</text>
<text x="106.0" y="896.5" font-size="6.5" textLength="11.8" lengthAdjust="spacingAndGlyphs">-1m</text>
</g>
<path d="M598.6,867.6H748" stroke="#6f6fff" stroke-width="0.7" fill="none"/>
<path d="M152.2,818.2C151.5,815.6 149.8,807.0 148.3,802.5C146.8,798.0 145.1,794.6 143.3,791.1C141.6,787.7 139.4,784.5 137.7,781.9C136.0,779.4 132.8,776.4 133.1,775.9C133.3,775.5 137.3,777.6 139.1,779.1C140.9,780.6 142.4,782.6 144.1,784.8C145.7,786.9 147.8,789.4 149.0,791.8C150.2,794.3 150.8,795.2 151.5,799.6C152.2,804.0 153.0,815.1 153.3,818.2M152.9,818.2C152.6,814.6 151.8,802.8 151.1,796.8C150.5,790.8 150.0,787.0 149.0,781.9C148.1,776.9 145.4,767.0 145.5,766.4C145.5,765.8 148.3,775.0 149.4,778.4C150.4,781.8 151.2,783.8 151.8,786.9C152.5,790.0 152.8,791.6 153.3,796.8C153.7,802.0 154.4,814.6 154.7,818.2M154.7,818.2C154.3,813.7 152.6,797.4 152.2,791.1C151.8,784.9 152.0,783.4 152.2,780.5C152.4,777.7 152.9,773.3 153.3,774.2C153.6,775.0 154.0,781.7 154.3,785.5C154.7,789.3 155.0,791.4 155.4,796.8C155.8,802.3 156.6,814.6 156.8,818.2M157.5,818.2C157.4,813.9 156.8,799.0 157.1,792.6C157.5,786.2 158.7,783.6 159.6,779.8C160.5,776.0 162.3,769.8 162.5,769.9C162.6,770.0 161.3,776.5 160.7,780.5C160.1,784.5 159.2,787.7 158.9,794.0C158.7,800.2 159.2,814.1 159.3,818.2M159.6,818.2C159.7,813.9 159.5,798.8 160.3,792.6C161.2,786.3 162.7,784.3 164.6,780.5C166.4,776.8 170.8,770.0 171.3,769.9C171.8,769.8 168.9,776.4 167.4,779.8C165.9,783.2 163.5,784.0 162.5,790.4C161.4,796.8 161.3,813.6 161.0,818.2M161.7,796.8C162.6,794.6 164.9,787.2 166.7,783.4C168.5,779.5 172.1,773.4 172.4,773.4C172.7,773.4 169.9,779.8 168.5,783.4C167.0,786.9 164.3,792.8 163.5,794.7M161.7,818.2C161.9,815.1 162.1,803.9 162.5,799.6C162.8,795.4 162.6,794.9 163.9,792.6C165.2,790.2 167.3,787.3 170.2,785.5C173.1,783.7 180.5,781.4 181.2,781.6C181.9,781.8 176.8,784.6 174.5,786.9C172.2,789.2 169.1,792.8 167.4,795.4C165.7,798.0 164.9,798.7 164.2,802.5C163.5,806.3 163.3,815.6 163.2,818.2" fill="none" stroke="#56e22c" stroke-width="0.62" stroke-linejoin="round"/>
<path d="M249.2,824.0C248.5,821.4 246.8,812.8 245.3,808.3C243.8,803.8 242.1,800.4 240.3,796.9C238.6,793.5 236.4,790.3 234.7,787.7C233.0,785.2 229.8,782.2 230.1,781.7C230.3,781.3 234.3,783.4 236.1,784.9C237.9,786.4 239.4,788.5 241.1,790.6C242.7,792.7 244.8,795.2 246.0,797.7C247.2,800.1 247.8,801.0 248.5,805.4C249.2,809.8 250.0,820.9 250.3,824.0M249.9,824.0C249.6,820.4 248.8,808.6 248.1,802.6C247.5,796.6 247.0,792.8 246.0,787.7C245.1,782.7 242.4,772.8 242.5,772.2C242.5,771.6 245.3,780.8 246.4,784.2C247.4,787.6 248.2,789.6 248.8,792.7C249.5,795.8 249.8,797.4 250.3,802.6C250.7,807.8 251.4,820.4 251.7,824.0M251.7,824.0C251.3,819.5 249.6,803.2 249.2,796.9C248.8,790.7 249.0,789.2 249.2,786.3C249.4,783.5 249.9,779.1 250.3,780.0C250.6,780.8 251.0,787.5 251.3,791.3C251.7,795.1 252.0,797.2 252.4,802.6C252.8,808.1 253.6,820.4 253.8,824.0M254.5,824.0C254.4,819.7 253.8,804.8 254.1,798.4C254.5,792.0 255.7,789.4 256.6,785.6C257.5,781.8 259.3,775.6 259.5,775.7C259.6,775.8 258.3,782.3 257.7,786.3C257.1,790.3 256.2,793.5 255.9,799.8C255.7,806.0 256.2,819.9 256.3,824.0M256.6,824.0C256.7,819.7 256.5,804.6 257.3,798.4C258.2,792.1 259.7,790.1 261.6,786.3C263.4,782.6 267.8,775.8 268.3,775.7C268.8,775.6 265.9,782.2 264.4,785.6C262.9,789.0 260.5,789.8 259.5,796.2C258.4,802.6 258.3,819.4 258.0,824.0M258.7,802.6C259.6,800.4 261.9,793.1 263.7,789.2C265.5,785.3 269.1,779.3 269.4,779.3C269.7,779.3 266.9,785.6 265.5,789.2C264.0,792.7 261.3,798.6 260.5,800.5M258.7,824.0C258.9,820.9 259.1,809.7 259.5,805.4C259.8,801.2 259.6,800.7 260.9,798.4C262.2,796.0 264.3,793.1 267.2,791.3C270.1,789.5 277.5,787.2 278.2,787.4C278.9,787.6 273.8,790.4 271.5,792.7C269.2,795.0 266.1,798.6 264.4,801.2C262.7,803.8 261.9,804.5 261.2,808.3C260.5,812.1 260.3,821.4 260.2,824.0" fill="none" stroke="#56e22c" stroke-width="0.62" stroke-linejoin="round"/>
<path d="M259.9,824.2C259.2,821.6 257.5,813.0 256.0,808.5C254.5,804.0 252.8,800.6 251.0,797.2C249.3,793.8 247.1,790.5 245.4,788.0C243.7,785.5 240.5,782.5 240.8,782.0C241.0,781.5 245.0,783.7 246.8,785.2C248.6,786.6 250.1,788.7 251.8,790.8C253.4,792.9 255.5,795.4 256.7,797.9C257.9,800.4 258.5,801.3 259.2,805.7C259.9,810.1 260.7,821.1 261.0,824.2M260.6,824.2C260.3,820.7 259.5,808.9 258.8,802.9C258.2,796.8 257.7,793.1 256.7,788.0C255.8,782.9 253.1,773.0 253.2,772.4C253.2,771.8 256.0,781.0 257.1,784.5C258.1,787.9 258.9,789.9 259.5,792.9C260.2,796.0 260.5,797.6 261.0,802.9C261.4,808.1 262.1,820.7 262.4,824.2M262.4,824.2C262.0,819.7 260.3,803.5 259.9,797.2C259.5,790.9 259.7,789.4 259.9,786.6C260.1,783.7 260.6,779.4 261.0,780.2C261.3,781.0 261.7,787.8 262.0,791.5C262.4,795.3 262.7,797.4 263.1,802.9C263.5,808.3 264.3,820.7 264.5,824.2M265.2,824.2C265.1,820.0 264.5,805.0 264.8,798.6C265.2,792.2 266.4,789.6 267.3,785.9C268.2,782.1 270.0,775.8 270.2,776.0C270.3,776.1 269.0,782.6 268.4,786.6C267.8,790.6 266.9,793.8 266.6,800.0C266.4,806.3 266.9,820.2 267.0,824.2M267.3,824.2C267.4,820.0 267.2,804.9 268.0,798.6C268.9,792.3 270.4,790.4 272.3,786.6C274.1,782.8 278.5,776.1 279.0,776.0C279.5,775.8 276.6,782.5 275.1,785.9C273.6,789.3 271.2,790.1 270.2,796.5C269.1,802.9 269.0,819.6 268.7,824.2M269.4,802.9C270.3,800.6 272.6,793.3 274.4,789.4C276.2,785.5 279.8,779.5 280.1,779.5C280.4,779.5 277.6,785.9 276.2,789.4C274.7,792.9 272.0,798.8 271.2,800.7M269.4,824.2C269.6,821.1 269.8,810.0 270.2,805.7C270.5,801.4 270.3,801.0 271.6,798.6C272.9,796.3 275.0,793.4 277.9,791.5C280.8,789.7 288.2,787.4 288.9,787.6C289.6,787.9 284.5,790.6 282.2,792.9C279.9,795.2 276.8,798.8 275.1,801.4C273.4,804.0 272.6,804.7 271.9,808.5C271.2,812.3 271.0,821.6 270.9,824.2" fill="none" stroke="#56e22c" stroke-width="0.62" stroke-linejoin="round"/>
<path d="M442.5,839.0C441.8,836.4 440.1,827.8 438.6,823.3C437.1,818.8 435.4,815.4 433.6,812.0C431.9,808.6 429.7,805.3 428.0,802.8C426.3,800.2 423.1,797.2 423.4,796.8C423.6,796.3 427.6,798.5 429.4,800.0C431.2,801.4 432.7,803.5 434.4,805.6C436.0,807.7 438.1,810.2 439.3,812.7C440.5,815.2 441.1,816.1 441.8,820.5C442.5,824.9 443.3,835.9 443.6,839.0M443.2,839.0C442.9,835.5 442.1,823.7 441.4,817.6C440.8,811.6 440.3,807.9 439.3,802.8C438.4,797.7 435.7,787.8 435.8,787.2C435.8,786.6 438.6,795.8 439.7,799.2C440.7,802.7 441.5,804.7 442.1,807.7C442.8,810.8 443.1,812.4 443.6,817.6C444.0,822.9 444.7,835.5 445.0,839.0M445.0,839.0C444.6,834.5 442.9,818.3 442.5,812.0C442.1,805.7 442.3,804.2 442.5,801.4C442.7,798.5 443.2,794.2 443.6,795.0C443.9,795.8 444.3,802.5 444.6,806.3C445.0,810.1 445.3,812.2 445.7,817.6C446.1,823.1 446.9,835.5 447.1,839.0M447.8,839.0C447.7,834.7 447.1,819.8 447.4,813.4C447.8,807.0 449.0,804.4 449.9,800.7C450.8,796.9 452.6,790.6 452.8,790.7C452.9,790.9 451.6,797.4 451.0,801.4C450.4,805.4 449.5,808.5 449.2,814.8C449.0,821.1 449.5,835.0 449.6,839.0M449.9,839.0C450.0,834.7 449.8,819.7 450.6,813.4C451.5,807.1 453.0,805.1 454.9,801.4C456.7,797.6 461.1,790.9 461.6,790.7C462.1,790.6 459.2,797.2 457.7,800.7C456.2,804.1 453.8,804.9 452.8,811.3C451.7,817.7 451.6,834.4 451.3,839.0M452.0,817.6C452.9,815.4 455.2,808.1 457.0,804.2C458.8,800.3 462.4,794.3 462.7,794.3C463.0,794.3 460.2,800.7 458.8,804.2C457.3,807.7 454.6,813.6 453.8,815.5M452.0,839.0C452.2,835.9 452.4,824.7 452.8,820.5C453.1,816.2 452.9,815.8 454.2,813.4C455.5,811.0 457.6,808.1 460.5,806.3C463.4,804.5 470.8,802.2 471.5,802.4C472.2,802.7 467.1,805.4 464.8,807.7C462.5,810.0 459.4,813.6 457.7,816.2C456.0,818.8 455.2,819.5 454.5,823.3C453.8,827.1 453.6,836.4 453.5,839.0" fill="none" stroke="#56e22c" stroke-width="0.62" stroke-linejoin="round"/>
<path d="M453.2,840.0C452.5,837.4 450.8,828.8 449.3,824.3C447.8,819.8 446.1,816.4 444.3,812.9C442.6,809.5 440.4,806.3 438.7,803.7C437.0,801.2 433.8,798.2 434.1,797.7C434.3,797.3 438.3,799.4 440.1,800.9C441.9,802.4 443.4,804.5 445.1,806.6C446.7,808.7 448.8,811.2 450.0,813.7C451.2,816.1 451.8,817.0 452.5,821.4C453.2,825.8 454.0,836.9 454.3,840.0M453.9,840.0C453.6,836.4 452.8,824.6 452.1,818.6C451.5,812.6 451.0,808.8 450.0,803.7C449.1,798.7 446.4,788.8 446.5,788.2C446.5,787.6 449.3,796.8 450.4,800.2C451.4,803.6 452.2,805.6 452.8,808.7C453.5,811.8 453.8,813.4 454.3,818.6C454.7,823.8 455.4,836.4 455.7,840.0M455.7,840.0C455.3,835.5 453.6,819.2 453.2,812.9C452.8,806.7 453.0,805.2 453.2,802.3C453.4,799.5 453.9,795.1 454.3,796.0C454.6,796.8 455.0,803.5 455.3,807.3C455.7,811.1 456.0,813.2 456.4,818.6C456.8,824.1 457.6,836.4 457.8,840.0M458.5,840.0C458.4,835.7 457.8,820.8 458.1,814.4C458.5,808.0 459.7,805.4 460.6,801.6C461.5,797.8 463.3,791.6 463.5,791.7C463.6,791.8 462.3,798.3 461.7,802.3C461.1,806.3 460.2,809.5 459.9,815.8C459.7,822.1 460.2,835.9 460.3,840.0M460.6,840.0C460.7,835.7 460.5,820.6 461.3,814.4C462.2,808.1 463.7,806.1 465.6,802.3C467.4,798.6 471.8,791.8 472.3,791.7C472.8,791.6 469.9,798.2 468.4,801.6C466.9,805.0 464.5,805.8 463.5,812.2C462.4,818.6 462.3,835.4 462.0,840.0M462.7,818.6C463.6,816.4 465.9,809.1 467.7,805.2C469.5,801.3 473.1,795.3 473.4,795.3C473.7,795.3 470.9,801.6 469.5,805.2C468.0,808.7 465.3,814.6 464.5,816.5M462.7,840.0C462.9,836.9 463.1,825.7 463.5,821.4C463.8,817.2 463.6,816.7 464.9,814.4C466.2,812.0 468.3,809.1 471.2,807.3C474.1,805.5 481.5,803.2 482.2,803.4C482.9,803.6 477.8,806.4 475.5,808.7C473.2,811.0 470.1,814.6 468.4,817.2C466.7,819.8 465.9,820.5 465.2,824.3C464.5,828.1 464.3,837.4 464.2,840.0" fill="none" stroke="#56e22c" stroke-width="0.62" stroke-linejoin="round"/>
<path d="M864.7,856.5C864.0,853.9 862.3,845.3 860.8,840.8C859.3,836.3 857.6,832.9 855.8,829.5C854.1,826.0 851.9,822.8 850.2,820.3C848.5,817.7 845.3,814.7 845.6,814.2C845.8,813.8 849.8,815.9 851.6,817.4C853.4,818.9 854.9,821.0 856.6,823.1C858.2,825.2 860.3,827.7 861.5,830.2C862.7,832.6 863.3,833.6 864.0,837.9C864.7,842.3 865.5,853.4 865.8,856.5M865.4,856.5C865.1,852.9 864.3,841.2 863.6,835.1C863.0,829.1 862.5,825.3 861.5,820.3C860.6,815.2 857.9,805.3 858.0,804.7C858.0,804.1 860.8,813.3 861.9,816.7C862.9,820.1 863.7,822.1 864.3,825.2C865.0,828.3 865.3,829.9 865.8,835.1C866.2,840.3 866.9,852.9 867.2,856.5M867.2,856.5C866.8,852.0 865.1,835.7 864.7,829.5C864.3,823.2 864.5,821.7 864.7,818.8C864.9,816.0 865.4,811.6 865.8,812.5C866.1,813.3 866.5,820.0 866.8,823.8C867.2,827.6 867.5,829.7 867.9,835.1C868.3,840.6 869.1,852.9 869.3,856.5M870.0,856.5C869.9,852.2 869.3,837.3 869.6,830.9C870.0,824.5 871.2,821.9 872.1,818.1C873.0,814.4 874.8,808.1 875.0,808.2C875.1,808.3 873.8,814.8 873.2,818.8C872.6,822.8 871.7,826.0 871.4,832.3C871.2,838.6 871.7,852.5 871.8,856.5M872.1,856.5C872.2,852.2 872.0,837.1 872.8,830.9C873.7,824.6 875.2,822.6 877.1,818.8C878.9,815.1 883.3,808.3 883.8,808.2C884.3,808.1 881.4,814.7 879.9,818.1C878.4,821.5 876.0,822.4 875.0,828.7C873.9,835.1 873.8,851.9 873.5,856.5M874.2,835.1C875.1,832.9 877.4,825.6 879.2,821.7C881.0,817.8 884.6,811.8 884.9,811.8C885.2,811.8 882.4,818.1 881.0,821.7C879.5,825.2 876.8,831.1 876.0,833.0M874.2,856.5C874.4,853.4 874.6,842.2 875.0,837.9C875.3,833.7 875.1,833.2 876.4,830.9C877.7,828.5 879.8,825.6 882.7,823.8C885.6,822.0 893.0,819.7 893.7,819.9C894.4,820.1 889.3,822.9 887.0,825.2C884.7,827.5 881.6,831.1 879.9,833.7C878.2,836.3 877.4,837.0 876.7,840.8C876.0,844.6 875.8,853.9 875.7,856.5" fill="none" stroke="#56e22c" stroke-width="0.62" stroke-linejoin="round"/>
<path d="M906.0,851.5C905.3,848.9 903.6,840.3 902.1,835.8C900.6,831.3 898.9,827.9 897.1,824.5C895.4,821.1 893.2,817.8 891.5,815.3C889.8,812.8 886.6,809.8 886.9,809.3C887.1,808.8 891.1,811.0 892.9,812.5C894.7,813.9 896.2,816.0 897.9,818.1C899.5,820.3 901.6,822.7 902.8,825.2C904.0,827.7 904.6,828.6 905.3,833.0C906.0,837.4 906.8,848.4 907.1,851.5M906.7,851.5C906.4,848.0 905.6,836.2 904.9,830.2C904.3,824.1 903.8,820.4 902.8,815.3C901.9,810.2 899.2,800.3 899.3,799.7C899.3,799.1 902.1,808.3 903.2,811.8C904.2,815.2 905.0,817.2 905.6,820.3C906.3,823.3 906.6,824.9 907.1,830.2C907.5,835.4 908.2,848.0 908.5,851.5M908.5,851.5C908.1,847.0 906.4,830.8 906.0,824.5C905.6,818.2 905.8,816.7 906.0,813.9C906.2,811.1 906.7,806.7 907.1,807.5C907.4,808.3 907.8,815.1 908.1,818.8C908.5,822.6 908.8,824.7 909.2,830.2C909.6,835.6 910.4,848.0 910.6,851.5M911.3,851.5C911.2,847.3 910.6,832.3 910.9,825.9C911.3,819.5 912.5,816.9 913.4,813.2C914.3,809.4 916.1,803.1 916.3,803.3C916.4,803.4 915.1,809.9 914.5,813.9C913.9,817.9 913.0,821.1 912.7,827.3C912.5,833.6 913.0,847.5 913.1,851.5M913.4,851.5C913.5,847.3 913.3,832.2 914.1,825.9C915.0,819.6 916.5,817.7 918.4,813.9C920.2,810.1 924.6,803.4 925.1,803.3C925.6,803.1 922.7,809.8 921.2,813.2C919.7,816.6 917.3,817.4 916.3,823.8C915.2,830.2 915.1,846.9 914.8,851.5M915.5,830.2C916.4,827.9 918.7,820.6 920.5,816.7C922.3,812.8 925.9,806.8 926.2,806.8C926.5,806.8 923.7,813.2 922.3,816.7C920.8,820.3 918.1,826.1 917.3,828.0M915.5,851.5C915.7,848.4 915.9,837.3 916.3,833.0C916.6,828.7 916.4,828.3 917.7,825.9C919.0,823.6 921.1,820.7 924.0,818.8C926.9,817.0 934.3,814.7 935.0,814.9C935.7,815.2 930.6,818.0 928.3,820.3C926.0,822.6 922.9,826.1 921.2,828.7C919.5,831.3 918.7,832.0 918.0,835.8C917.3,839.6 917.1,848.9 917.0,851.5" fill="none" stroke="#56e22c" stroke-width="0.62" stroke-linejoin="round"/>
<path d="M916.7,851.5C916.0,848.9 914.3,840.3 912.8,835.8C911.3,831.3 909.6,827.9 907.8,824.5C906.1,821.1 903.9,817.8 902.2,815.3C900.5,812.8 897.3,809.8 897.6,809.3C897.8,808.8 901.8,811.0 903.6,812.5C905.4,814.0 906.9,816.0 908.6,818.1C910.2,820.3 912.3,822.7 913.5,825.2C914.7,827.7 915.3,828.6 916.0,833.0C916.7,837.4 917.5,848.5 917.8,851.5M917.4,851.5C917.1,848.0 916.3,836.2 915.6,830.2C915.0,824.1 914.5,820.4 913.5,815.3C912.6,810.2 909.9,800.3 910.0,799.7C910.0,799.1 912.8,808.3 913.9,811.8C914.9,815.2 915.7,817.2 916.3,820.3C917.0,823.3 917.3,825.0 917.8,830.2C918.2,835.4 918.9,848.0 919.2,851.5M919.2,851.5C918.8,847.0 917.1,830.8 916.7,824.5C916.3,818.2 916.5,816.7 916.7,813.9C916.9,811.1 917.4,806.7 917.8,807.5C918.1,808.3 918.5,815.1 918.8,818.8C919.2,822.6 919.5,824.7 919.9,830.2C920.3,835.6 921.1,848.0 921.3,851.5M922.0,851.5C921.9,847.3 921.3,832.3 921.6,825.9C922.0,819.5 923.2,817.0 924.1,813.2C925.0,809.4 926.8,803.2 927.0,803.3C927.1,803.4 925.8,809.9 925.2,813.9C924.6,817.9 923.7,821.1 923.4,827.3C923.2,833.6 923.7,847.5 923.8,851.5M924.1,851.5C924.2,847.3 924.0,832.2 924.8,825.9C925.7,819.6 927.2,817.7 929.1,813.9C930.9,810.1 935.3,803.4 935.8,803.3C936.3,803.2 933.4,809.8 931.9,813.2C930.4,816.6 928.0,817.4 927.0,823.8C925.9,830.2 925.8,846.9 925.5,851.5M926.2,830.2C927.1,827.9 929.4,820.6 931.2,816.7C933.0,812.8 936.6,806.8 936.9,806.8C937.2,806.8 934.4,813.2 933.0,816.7C931.5,820.3 928.8,826.2 928.0,828.0M926.2,851.5C926.4,848.5 926.6,837.3 927.0,833.0C927.3,828.7 927.1,828.3 928.4,825.9C929.7,823.6 931.8,820.7 934.7,818.8C937.6,817.0 945.0,814.7 945.7,815.0C946.4,815.2 941.3,818.0 939.0,820.3C936.7,822.6 933.6,826.2 931.9,828.8C930.2,831.3 929.4,832.0 928.7,835.8C928.0,839.6 927.8,848.9 927.7,851.5" fill="none" stroke="#56e22c" stroke-width="0.62" stroke-linejoin="round"/>
<path d="M211.4,818.4L212.4,806.9L214.4,798.9L216.7,793.1L220.6,793.1L220.0,798.9L219.0,806.9L219.0,818.4Z" fill="#3ef20c" stroke="#3ef20c" stroke-width="0.6" stroke-linejoin="round"/>
<path d="M217.4,792.1L220.2,791.9L220.0,793.5L217.7,793.7Z" fill="#fff" stroke="none"/>
<path d="M218.9,791.3L217.9,789.8L216.5,787.7L214.9,785.2L213.1,782.7L211.2,780.1L209.0,777.3L206.9,774.5L205.0,771.8L203.4,769.3L201.9,766.9L200.6,764.5L199.6,762.3L198.9,760.1L198.5,757.9L198.1,755.6L197.5,753.4L196.7,751.7L195.8,750.4L194.8,749.1L193.6,747.5L191.8,745.2L189.8,742.5L187.5,739.6L185.4,737.1L183.3,734.9L181.3,733.0L179.2,731.2L177.1,729.5L174.9,727.9L172.6,726.5L170.4,725.2L168.4,724.1L166.4,723.0L164.4,722.0L162.7,721.2L161.6,720.6L160.8,722.0L162.0,722.6L163.6,723.5L165.5,724.6L167.4,725.7L169.4,727.0L171.5,728.3L173.7,729.7L175.7,731.3L177.7,732.9L179.6,734.7L181.5,736.6L183.4,738.7L185.5,741.3L187.6,744.1L189.6,746.9L191.2,749.3L192.5,750.9L193.3,752.1L193.9,753.1L194.5,754.4L194.9,756.2L195.2,758.4L195.5,760.9L196.2,763.5L197.3,766.1L198.7,768.7L200.2,771.3L201.8,774.0L203.7,776.8L205.8,779.7L207.9,782.5L209.7,785.1L211.3,787.6L212.9,790.1L214.2,792.2L215.1,793.7Z" fill="#3ef20c" stroke="#3ef20c" stroke-width="0.3"/>
<path d="M222.2,793.5L223.0,791.6L224.3,789.0L225.7,786.0L227.2,782.8L228.9,779.3L230.6,775.6L232.4,771.7L234.1,768.2L235.6,765.0L236.9,761.9L238.2,759.2L239.4,756.7L240.4,754.9L241.4,753.5L242.4,751.9L243.7,749.6L245.3,746.6L247.0,743.0L248.8,739.2L250.6,735.5L252.5,732.0L254.5,728.3L256.6,724.7L258.4,721.5L260.1,718.6L261.8,715.8L263.3,713.5L264.7,711.6L265.9,710.4L267.0,709.6L268.3,709.0L269.8,708.2L271.9,707.0L274.3,705.6L276.5,704.4L278.0,703.5L277.4,702.3L275.8,703.1L273.5,704.2L271.1,705.5L269.0,706.6L267.5,707.4L266.1,708.0L264.7,708.8L263.1,710.2L261.5,712.2L259.9,714.6L258.2,717.4L256.4,720.3L254.4,723.5L252.3,727.0L250.2,730.7L248.2,734.3L246.3,737.9L244.4,741.7L242.6,745.2L241.1,748.2L239.8,750.2L238.7,751.6L237.6,753.1L236.4,755.1L235.1,757.6L233.7,760.4L232.3,763.4L230.7,766.6L229.0,770.1L227.1,773.9L225.3,777.6L223.6,781.0L222.0,784.2L220.5,787.2L219.2,789.7L218.2,791.5Z" fill="#3ef20c" stroke="#3ef20c" stroke-width="0.3"/>
<path d="M234.1,769.4L235.2,769.3L236.8,769.2L238.7,769.1L240.6,768.7L242.6,768.2L244.6,767.6L246.7,766.9L248.9,766.0L251.1,764.8L253.4,763.5L255.7,762.1L257.9,760.8L260.0,759.4L262.1,758.0L264.0,756.7L265.8,755.7L267.5,754.9L269.0,754.2L270.5,753.7L272.1,753.2L273.8,752.7L275.7,752.2L277.4,751.7L278.5,751.4L278.3,750.4L277.1,750.6L275.4,750.9L273.5,751.4L271.7,751.8L270.1,752.3L268.5,752.7L266.8,753.3L265.0,754.1L263.1,755.2L261.0,756.4L259.0,757.8L256.9,759.0L254.7,760.3L252.4,761.6L250.1,762.8L247.9,763.8L245.9,764.6L243.9,765.2L241.9,765.7L240.2,766.1L238.4,766.3L236.6,766.4L235.1,766.4L233.9,766.4Z" fill="#3ef20c" stroke="#3ef20c" stroke-width="0.3"/>
<path d="M272.2,752.9L273.3,752.1L275.0,751.0L276.8,749.6L278.6,748.2L280.5,746.5L282.5,744.6L284.3,742.8L285.6,741.6L285.2,741.2L283.9,742.4L282.1,744.1L280.0,746.0L278.2,747.6L276.3,749.0L274.5,750.2L272.8,751.3L271.6,752.1Z" fill="#3ef20c" stroke="#3ef20c" stroke-width="0.3"/>
<path d="M265.8,755.2L266.5,754.1L267.6,752.6L268.7,751.0L269.7,749.6L270.4,748.5L271.1,747.5L271.7,746.6L272.1,746.0L271.7,745.8L271.3,746.3L270.7,747.2L270.0,748.1L269.1,749.2L268.1,750.6L266.9,752.1L265.8,753.6L265.0,754.6Z" fill="#3ef20c" stroke="#3ef20c" stroke-width="0.3"/>
<path d="M243.7,748.6L243.1,746.6L242.3,743.7L241.4,740.4L240.5,737.6L239.5,735.1L238.5,732.8L237.6,730.6L236.8,728.6L236.1,726.8L235.5,725.2L235.0,723.6L234.5,721.7L234.1,719.6L233.7,717.2L233.4,714.6L233.0,711.8L232.5,708.5L231.9,704.7L231.4,701.2L231.0,698.8L230.2,699.0L230.5,701.4L230.9,704.8L231.4,708.6L231.8,712.0L232.1,714.8L232.4,717.4L232.7,719.8L233.1,722.1L233.5,724.0L233.9,725.7L234.4,727.4L235.0,729.2L235.8,731.3L236.6,733.5L237.5,735.8L238.3,738.2L239.1,741.1L239.9,744.3L240.7,747.2L241.1,749.2Z" fill="#3ef20c" stroke="#3ef20c" stroke-width="0.3"/>
<path d="M234.6,722.6L235.1,720.9L235.8,718.5L236.7,715.8L237.4,713.1L238.2,710.2L239.0,707.2L239.7,704.3L240.3,702.0L240.8,700.5L241.2,699.5L241.4,698.7L241.3,697.8L240.8,696.8L240.0,695.9L239.1,695.2L238.6,694.7L238.2,695.1L238.8,695.6L239.6,696.4L240.3,697.2L240.7,698.0L240.7,698.6L240.4,699.3L240.0,700.2L239.5,701.8L238.8,704.1L238.0,706.9L237.2,710.0L236.4,712.7L235.5,715.4L234.7,718.2L233.9,720.5L233.4,722.2Z" fill="#3ef20c" stroke="#3ef20c" stroke-width="0.3"/>
<path d="M184.9,736.4L184.3,735.2L183.5,733.4L182.7,731.5L181.8,729.7L180.8,728.0L179.7,726.3L178.7,724.8L178.0,723.8L177.6,724.0L178.2,725.1L179.1,726.7L180.1,728.4L181.0,730.1L181.8,731.9L182.6,733.8L183.3,735.6L183.7,736.8Z" fill="#3ef20c" stroke="#3ef20c" stroke-width="0.3"/>
<path d="M170.5,726.3L170.2,724.9L169.7,722.9L169.2,720.7L168.7,718.8L168.3,717.2L168.0,715.6L167.6,714.3L167.4,713.4L167.0,713.4L167.2,714.4L167.4,715.7L167.7,717.3L168.1,719.0L168.4,720.9L168.9,723.1L169.3,725.1L169.5,726.5Z" fill="#3ef20c" stroke="#3ef20c" stroke-width="0.3"/>
<path d="M278.1,703.0L278.2,702.6L278.3,702.0L278.4,701.4L278.4,701.0L278.0,700.8L277.8,701.2L277.6,701.8L277.4,702.4L277.3,702.8Z" fill="#3ef20c" stroke="#3ef20c" stroke-width="0.3"/>
<path d="M206.2,724.8C206.8,723.3 208.9,718.9 209.7,715.9C210.5,712.9 210.8,708.3 211.0,706.8" fill="none" stroke="#3ef20c" stroke-width="0.55"/>
<path d="M213.3,746.8C212.3,749.0 209.1,756.1 207.4,759.9C205.7,763.7 203.8,768.0 203.1,769.6" fill="none" stroke="#3ef20c" stroke-width="0.55"/>
<path d="M174.8,762.5C176.9,764.1 182.4,768.4 187.4,771.9C192.4,775.4 201.8,781.8 204.7,783.8" fill="none" stroke="#3ef20c" stroke-width="0.55"/>
<path d="M145.2,820.3l0.2,-6.3M145.9,820.3l-0.1,-7.1M146.7,820.4l0.3,-6.4M147.4,820.4l0.0,-5.8M148.2,820.5l1.1,-6.6M148.9,820.5l-0.7,-5.7M149.7,820.5l1.1,-5.7M150.4,820.6l-1.6,-6.7M151.2,820.6l1.7,-7.2M151.9,820.6l0.4,-6.6M152.7,820.7l-1.7,-5.8M153.4,820.7l-1.6,-6.4M154.2,820.8l-0.9,-5.8M154.9,820.8l-0.1,-5.6M155.7,820.8l1.2,-6.2M156.4,820.9l0.5,-6.4M157.2,820.9l0.6,-6.3M157.9,820.9l-0.8,-6.3M158.7,821.0l1.8,-7.2M159.4,821.0l0.7,-6.9M160.2,821.1l-1.0,-6.0M160.9,821.1l-1.5,-6.0M161.7,821.1l-0.4,-6.8M162.4,821.2l-0.4,-6.9M163.2,821.2l1.3,-7.1M163.9,821.3l-1.0,-5.5M164.7,821.3l-0.1,-7.0M165.4,821.3l-0.4,-7.2M166.2,821.4l0.5,-5.6M166.9,821.4l-0.8,-6.8M167.7,821.5l-0.6,-5.6M168.4,821.5l0.9,-7.1M169.2,821.6l-0.9,-5.7M169.9,821.6l-1.6,-5.7M170.7,821.6l-1.2,-6.9M171.4,821.7l-0.2,-6.5M172.2,821.7l0.8,-5.8M172.9,821.8l0.5,-5.7M173.7,821.8l-0.3,-5.7M174.4,821.9l-0.8,-5.9M175.2,821.9l1.1,-7.2M175.9,822.0l1.4,-6.0M176.7,822.0l-0.4,-5.9M177.4,822.1l0.5,-7.0M178.2,822.1l1.8,-5.7M178.9,822.2l-0.9,-5.9M179.7,822.2l-0.6,-6.8M180.4,822.3l-1.5,-6.0M181.2,822.4l0.3,-5.7M181.9,822.4l0.4,-5.9M182.7,822.5l-0.2,-6.1M183.4,822.5l-0.1,-7.1M184.2,822.6l1.3,-6.5M184.9,822.7l-1.2,-5.8M185.7,822.7l1.1,-7.0M186.4,822.8l-1.1,-5.9M187.2,822.8l1.6,-6.8M187.9,822.9l1.6,-5.8M188.7,823.0l0.4,-7.0M189.4,823.0l-1.4,-6.2M190.2,823.1l1.7,-5.6M190.9,823.2l0.7,-5.9M191.7,823.2l1.2,-5.9M192.4,823.3l-0.7,-6.5M193.2,823.4l0.8,-5.8M193.9,823.4l-1.0,-5.6M194.7,823.5l1.3,-6.5M195.4,823.6l-0.8,-6.5M196.2,823.6l-1.1,-7.1M196.9,823.7l-0.8,-5.5M197.7,823.8l-1.6,-6.3M198.4,823.8l-0.5,-5.8M199.2,823.9l-1.3,-6.5M199.9,824.0l1.4,-6.1M200.7,824.0l0.6,-7.2M201.4,824.1l0.3,-6.7M202.2,824.1l-1.7,-5.7M202.9,824.2l1.5,-5.5M203.7,824.3l1.7,-6.7M204.4,824.3l0.5,-5.5M205.2,824.4l0.8,-6.3M205.9,824.5l1.8,-6.0M206.7,824.5l0.2,-5.6M207.4,824.6l1.4,-6.8M208.2,824.6l0.7,-6.8M208.9,824.7l1.5,-6.8M209.7,824.8l0.7,-6.1M210.4,824.8l1.3,-7.0M211.2,824.9l1.0,-6.2M211.9,824.9l0.3,-7.0M212.7,825.0l-0.4,-6.6M213.4,825.0l0.4,-6.5M214.2,825.1l0.5,-5.6M214.9,825.2l1.4,-7.2M215.7,825.2l-0.4,-6.7M216.4,825.3l0.3,-6.7M217.2,825.3l1.2,-6.2M217.9,825.4l0.9,-5.6M218.7,825.4l0.4,-5.6M219.4,825.4l-1.0,-6.3M220.2,825.5l-0.0,-6.7M220.9,825.5l1.5,-6.5M221.7,825.6l-1.8,-5.9M222.4,825.6l0.6,-6.0M223.2,825.7l-1.2,-5.8M223.9,825.7l0.6,-7.0M224.7,825.7l1.4,-6.3M225.4,825.8l0.6,-6.1M226.2,825.8l-0.2,-5.8M226.9,825.8l1.5,-6.9M227.7,825.9l-0.4,-7.0M228.4,825.9l-0.7,-6.5M229.2,825.9l-0.0,-5.7M229.9,826.0l1.3,-6.9M230.7,826.0l1.6,-6.7M231.4,826.0l-1.2,-6.0M232.2,826.1l-0.8,-6.3M232.9,826.1l-0.3,-5.9M233.7,826.1l-0.0,-6.6M234.4,826.1l1.2,-6.0M235.2,826.2l-0.2,-7.2M235.9,826.2l-1.7,-5.6M236.7,826.2l-1.7,-7.0M237.4,826.2l0.3,-6.7M238.2,826.3l1.0,-6.0M238.9,826.3l-1.3,-5.5M239.7,826.3l-1.7,-6.3M240.4,826.3l-0.9,-6.9M241.2,826.4l-1.6,-5.7M241.9,826.4l-0.2,-6.6M242.7,826.4l0.6,-6.6M243.4,826.4l1.7,-6.9M244.2,826.5l-1.1,-6.7M244.9,826.5l-1.2,-6.3M245.7,826.5l-0.1,-5.5M246.4,826.5l-1.2,-6.7M247.2,826.5l-0.6,-6.0M247.9,826.6l0.1,-6.7M248.7,826.6l0.9,-6.5M249.4,826.6l1.1,-6.2M250.2,826.6l-1.5,-7.0M250.9,826.6l0.8,-7.1M251.7,826.7l-0.2,-5.7M252.4,826.7l1.5,-6.6M253.2,826.7l0.2,-6.1M253.9,826.7l1.1,-7.0M254.7,826.7l-0.1,-7.1M255.4,826.7l-1.1,-6.6M256.2,826.8l1.1,-6.7M256.9,826.8l0.8,-6.6M257.7,826.8l1.4,-5.9M258.4,826.8l1.7,-7.2M259.2,826.8l1.0,-6.4M259.9,826.9l1.5,-6.0M260.7,826.9l-0.5,-7.0M261.4,826.9l-0.2,-5.6M262.2,826.9l1.0,-6.4M262.9,826.9l-1.7,-6.3M263.7,826.9l-1.6,-6.9M264.4,827.0l-1.2,-6.9M265.2,827.0l1.0,-6.1M265.9,827.0l-1.3,-5.7M266.7,827.0l0.8,-6.4M267.4,827.0l0.7,-6.9M268.2,827.1l-0.0,-7.1M268.9,827.1l-1.5,-7.1M269.7,827.1l0.1,-5.9" fill="none" stroke="#3fdc22" stroke-width="1.15"/>
<path d="M270.0,827.2q0.2,-3.5 1.5,-5.8M271.2,827.2q0.3,-4.1 2.2,-6.9M272.4,827.2q-0.1,-3.5 -0.8,-5.9M273.8,827.3q-0.3,-5.1 -1.9,-8.6M275.2,827.3q0.0,-5.3 0.2,-8.9M276.4,827.3q0.0,-3.2 0.2,-5.4M277.5,827.3q-0.5,-4.3 -3.0,-7.2M279.0,827.3q-0.1,-4.1 -0.6,-6.8M280.3,827.3q-0.0,-4.2 -0.1,-7.0M281.6,827.3q0.0,-2.9 0.2,-4.8M282.6,827.3q0.4,-5.3 2.7,-8.8M283.5,827.3q-0.4,-4.0 -2.4,-6.6M284.6,827.3q0.4,-4.9 2.6,-8.2M285.6,827.3q-0.3,-3.6 -2.0,-5.9M286.8,827.3q-0.4,-5.2 -2.4,-8.7M288.2,827.4q-0.3,-2.8 -2.0,-4.6M289.1,827.4q-0.2,-4.6 -1.1,-7.6M290.0,827.5q-0.4,-4.4 -2.5,-7.3M291.3,827.6q0.0,-3.0 0.1,-5.1M292.2,827.7q0.0,-3.2 0.2,-5.4M293.3,827.8q-0.1,-3.7 -0.6,-6.2M294.4,827.9q-0.3,-3.1 -1.9,-5.2M295.6,828.1q0.0,-4.4 0.2,-7.4M297.0,828.2q0.3,-4.4 2.3,-7.3M297.9,828.4q0.3,-4.7 2.0,-7.8M299.3,828.6q-0.2,-3.6 -1.2,-5.9M300.8,828.8q0.5,-3.3 3.2,-5.5M302.2,829.0q-0.3,-3.1 -1.7,-5.1M303.5,829.3q-0.4,-3.4 -2.6,-5.7M304.9,829.5q0.3,-3.8 1.9,-6.4M305.7,829.6q0.2,-3.8 1.2,-6.3M306.4,829.8q0.2,-3.2 1.2,-5.4M307.8,830.0q-0.4,-5.3 -2.5,-8.9M308.9,830.2q0.0,-4.7 0.0,-7.9M310.2,830.5q-0.4,-3.2 -2.7,-5.4M311.0,830.6q0.0,-2.8 0.3,-4.7M312.1,830.8q-0.3,-4.2 -2.3,-7.1M312.9,831.0q0.3,-3.3 2.2,-5.4M314.4,831.3q-0.4,-5.2 -2.6,-8.7M315.1,831.5q-0.0,-5.3 -0.2,-8.8M316.5,831.8q-0.0,-3.6 -0.2,-6.0M317.6,832.0q0.1,-3.9 0.6,-6.4M318.3,832.2q0.3,-4.6 2.2,-7.7M319.1,832.4q0.2,-3.9 1.5,-6.5M320.1,832.6q-0.3,-3.2 -2.1,-5.4M321.2,832.9q0.4,-2.7 2.5,-4.6M322.6,833.3q0.3,-4.6 2.3,-7.7M323.8,833.6q0.1,-3.8 0.6,-6.3M324.9,833.8q0.3,-5.4 2.0,-8.9M325.8,834.1q0.2,-5.2 1.6,-8.6M327.1,834.4q-0.1,-4.9 -0.6,-8.2M328.6,834.8q0.2,-5.1 1.2,-8.5M329.9,835.1q-0.1,-4.8 -0.6,-7.9M331.2,835.4q-0.2,-2.9 -1.0,-4.8M332.3,835.6q-0.1,-2.7 -0.9,-4.5M333.5,835.8q-0.3,-4.4 -1.7,-7.3M335.0,836.1q-0.2,-4.5 -1.0,-7.5M336.2,836.3q0.0,-4.2 0.2,-7.1M337.2,836.5q0.1,-5.4 0.9,-9.0M338.5,836.7q0.5,-4.8 3.1,-7.9M339.2,836.8q0.2,-4.4 1.5,-7.3M340.1,836.9q-0.4,-3.8 -2.9,-6.3M340.9,837.0q-0.4,-3.7 -2.6,-6.2M341.8,837.1q0.0,-5.1 0.3,-8.6M342.9,837.2q0.1,-5.3 0.4,-8.9M344.4,837.2q0.3,-4.4 2.0,-7.4M345.2,837.3q0.2,-4.3 1.7,-7.2M345.9,837.3q-0.3,-5.2 -2.2,-8.7M346.9,837.3q-0.0,-3.2 -0.0,-5.3M348.1,837.4q0.4,-2.9 2.8,-4.8M349.2,837.4q0.1,-4.1 0.6,-6.9M350.1,837.4q0.1,-3.5 1.0,-5.8M351.3,837.5q0.2,-3.5 1.4,-5.8M352.2,837.5q-0.2,-2.7 -1.6,-4.6M352.9,837.5q0.2,-3.1 1.6,-5.2M353.9,837.5q0.2,-5.1 1.6,-8.5M354.6,837.5q0.4,-5.4 2.8,-8.9M355.3,837.5q-0.1,-5.1 -0.5,-8.6M356.4,837.5q-0.2,-5.3 -1.6,-8.9M357.5,837.5q0.2,-5.2 1.4,-8.7M358.6,837.5q0.3,-5.3 2.0,-8.9M359.8,837.5q0.1,-3.0 0.8,-5.0M360.9,837.5q-0.4,-3.2 -2.9,-5.4M362.0,837.5q-0.1,-3.0 -0.4,-5.1M363.2,837.5q-0.2,-3.9 -1.5,-6.5M364.4,837.5q0.3,-3.8 1.8,-6.4M365.5,837.5q0.4,-5.4 2.9,-9.0M366.8,837.5q-0.4,-3.3 -2.5,-5.6M368.3,837.5q0.1,-4.8 0.8,-8.0M369.3,837.5q0.2,-3.4 1.2,-5.7M370.4,837.5q0.1,-4.3 0.9,-7.2M371.7,837.5q-0.2,-3.2 -1.6,-5.4M373.3,837.5q0.4,-5.2 2.4,-8.6M374.0,837.5q-0.2,-2.9 -1.5,-4.8M375.0,837.5q-0.4,-4.4 -2.5,-7.3" fill="none" stroke="#45e51c" stroke-width="0.75" stroke-linecap="round"/>
<path d="M272.0,817.7v-2.2M274.9,817.8v-2.2M277.8,818.5v-2.2M282.4,818.3v-2.2M285.3,818.4v-2.2M288.2,818.2v-2.2M292.8,818.7v-2.2M295.7,818.7v-2.2M298.6,819.3v-2.2M303.2,820.5v-2.2M306.1,821.1v-2.2M309.0,820.7v-2.2M313.6,821.7v-2.2M316.5,823.1v-2.2M319.4,823.6v-2.2M324.0,824.9v-2.2M326.9,825.0v-2.2M329.8,826.0v-2.2M334.4,826.7v-2.2M337.3,827.9v-2.2M340.2,827.8v-2.2M344.8,828.4v-2.2M347.7,829.0v-2.2M350.6,828.2v-2.2M355.2,828.6v-2.2M358.1,828.8v-2.2M361.0,829.0v-2.2M365.6,828.4v-2.2M368.5,828.3v-2.2M371.4,828.0v-2.2" fill="none" stroke="#9a35e0" stroke-width="1.3" stroke-linecap="round"/>
<path d="M377.0,837.2V824.2M377.0,828.2l-2.2,-3.6M377.0,828.2l2.2,-3.6M381.3,837.3V824.3M381.3,828.3l-2.2,-3.6M381.3,828.3l2.2,-3.6M385.6,837.3V824.3M385.6,828.3l-2.2,-3.6M385.6,828.3l2.2,-3.6M389.9,837.5V824.5M389.9,828.5l-2.2,-3.6M389.9,828.5l2.2,-3.6M394.2,837.6V824.6M394.2,828.6l-2.2,-3.6M394.2,828.6l2.2,-3.6M398.5,837.8V824.8M398.5,828.8l-2.2,-3.6M398.5,828.8l2.2,-3.6M402.8,838.0V825.0M402.8,829.0l-2.2,-3.6M402.8,829.0l2.2,-3.6M407.1,838.2V825.2M407.1,829.2l-2.2,-3.6M407.1,829.2l2.2,-3.6" fill="none" stroke="#66e838" stroke-width="0.55"/>
<path d="M374.2,823.8a1.15,1.15 0 1,0 2.30,0a1.15,1.15 0 1,0 -2.30,0M373.7,818.5a1.15,1.15 0 1,0 2.30,0a1.15,1.15 0 1,0 -2.30,0M375.9,823.0a1.15,1.15 0 1,0 2.30,0a1.15,1.15 0 1,0 -2.30,0M376.1,819.1a1.15,1.15 0 1,0 2.30,0a1.15,1.15 0 1,0 -2.30,0M377.7,822.2a1.15,1.15 0 1,0 2.30,0a1.15,1.15 0 1,0 -2.30,0M377.4,820.0a1.15,1.15 0 1,0 2.30,0a1.15,1.15 0 1,0 -2.30,0M377.5,817.2a1.15,1.15 0 1,0 2.30,0a1.15,1.15 0 1,0 -2.30,0M379.4,823.4a1.15,1.15 0 1,0 2.30,0a1.15,1.15 0 1,0 -2.30,0M379.2,818.7a1.15,1.15 0 1,0 2.30,0a1.15,1.15 0 1,0 -2.30,0M379.6,816.8a1.15,1.15 0 1,0 2.30,0a1.15,1.15 0 1,0 -2.30,0M381.2,822.3a1.15,1.15 0 1,0 2.30,0a1.15,1.15 0 1,0 -2.30,0M381.4,819.8a1.15,1.15 0 1,0 2.30,0a1.15,1.15 0 1,0 -2.30,0M382.9,824.0a1.15,1.15 0 1,0 2.30,0a1.15,1.15 0 1,0 -2.30,0M383.3,819.5a1.15,1.15 0 1,0 2.30,0a1.15,1.15 0 1,0 -2.30,0M384.7,822.7a1.15,1.15 0 1,0 2.30,0a1.15,1.15 0 1,0 -2.30,0M384.5,819.5a1.15,1.15 0 1,0 2.30,0a1.15,1.15 0 1,0 -2.30,0M386.4,824.0a1.15,1.15 0 1,0 2.30,0a1.15,1.15 0 1,0 -2.30,0M386.1,819.4a1.15,1.15 0 1,0 2.30,0a1.15,1.15 0 1,0 -2.30,0M386.3,817.0a1.15,1.15 0 1,0 2.30,0a1.15,1.15 0 1,0 -2.30,0M388.2,823.0a1.15,1.15 0 1,0 2.30,0a1.15,1.15 0 1,0 -2.30,0M387.8,820.0a1.15,1.15 0 1,0 2.30,0a1.15,1.15 0 1,0 -2.30,0M389.9,823.4a1.15,1.15 0 1,0 2.30,0a1.15,1.15 0 1,0 -2.30,0M390.2,820.1a1.15,1.15 0 1,0 2.30,0a1.15,1.15 0 1,0 -2.30,0M390.2,817.7a1.15,1.15 0 1,0 2.30,0a1.15,1.15 0 1,0 -2.30,0M391.7,822.9a1.15,1.15 0 1,0 2.30,0a1.15,1.15 0 1,0 -2.30,0M391.2,820.0a1.15,1.15 0 1,0 2.30,0a1.15,1.15 0 1,0 -2.30,0M393.4,823.6a1.15,1.15 0 1,0 2.30,0a1.15,1.15 0 1,0 -2.30,0M393.9,820.4a1.15,1.15 0 1,0 2.30,0a1.15,1.15 0 1,0 -2.30,0M395.2,822.6a1.15,1.15 0 1,0 2.30,0a1.15,1.15 0 1,0 -2.30,0M395.2,820.8a1.15,1.15 0 1,0 2.30,0a1.15,1.15 0 1,0 -2.30,0M394.7,817.7a1.15,1.15 0 1,0 2.30,0a1.15,1.15 0 1,0 -2.30,0M396.9,824.4a1.15,1.15 0 1,0 2.30,0a1.15,1.15 0 1,0 -2.30,0M396.5,820.5a1.15,1.15 0 1,0 2.30,0a1.15,1.15 0 1,0 -2.30,0M397.1,817.6a1.15,1.15 0 1,0 2.30,0a1.15,1.15 0 1,0 -2.30,0M398.7,823.1a1.15,1.15 0 1,0 2.30,0a1.15,1.15 0 1,0 -2.30,0M398.4,820.9a1.15,1.15 0 1,0 2.30,0a1.15,1.15 0 1,0 -2.30,0M400.4,824.3a1.15,1.15 0 1,0 2.30,0a1.15,1.15 0 1,0 -2.30,0M400.3,819.9a1.15,1.15 0 1,0 2.30,0a1.15,1.15 0 1,0 -2.30,0M402.2,824.2a1.15,1.15 0 1,0 2.30,0a1.15,1.15 0 1,0 -2.30,0M402.1,820.5a1.15,1.15 0 1,0 2.30,0a1.15,1.15 0 1,0 -2.30,0M403.9,824.3a1.15,1.15 0 1,0 2.30,0a1.15,1.15 0 1,0 -2.30,0M404.3,820.3a1.15,1.15 0 1,0 2.30,0a1.15,1.15 0 1,0 -2.30,0M405.7,824.4a1.15,1.15 0 1,0 2.30,0a1.15,1.15 0 1,0 -2.30,0M406.0,821.4a1.15,1.15 0 1,0 2.30,0a1.15,1.15 0 1,0 -2.30,0M407.4,824.9a1.15,1.15 0 1,0 2.30,0a1.15,1.15 0 1,0 -2.30,0M407.9,821.1a1.15,1.15 0 1,0 2.30,0a1.15,1.15 0 1,0 -2.30,0M409.2,824.7a1.15,1.15 0 1,0 2.30,0a1.15,1.15 0 1,0 -2.30,0M409.5,820.6a1.15,1.15 0 1,0 2.30,0a1.15,1.15 0 1,0 -2.30,0M408.8,818.4a1.15,1.15 0 1,0 2.30,0a1.15,1.15 0 1,0 -2.30,0" fill="#1c3fe0" stroke="none"/>
<path d="M411.0,838.8q-0.1,-2.8 -0.3,-4.7M412.6,838.9q-0.1,-2.5 -0.7,-4.2M414.9,839.0q-0.1,-2.6 -0.8,-4.4M415.8,839.1q-0.1,-2.4 -0.4,-4.1M417.8,839.2q0.0,-2.7 0.3,-4.5M419.0,839.3q-0.1,-2.1 -0.5,-3.5M420.3,839.4q0.0,-2.9 0.0,-4.8M422.0,839.6q-0.1,-3.0 -0.7,-5.0M423.7,839.7q0.1,-2.1 0.8,-3.5M424.7,839.8q0.2,-2.8 1.0,-4.7M426.7,840.0q-0.1,-2.0 -0.7,-3.4M428.5,840.1q-0.0,-2.1 -0.1,-3.4M430.1,840.3q0.0,-3.0 0.3,-4.9M432.2,840.5q0.1,-2.3 0.9,-3.8M433.7,840.6q-0.2,-2.9 -1.2,-4.9M435.7,840.8q0.0,-2.2 0.1,-3.6M437.3,840.9q0.1,-2.1 1.0,-3.5M438.7,841.1q-0.2,-2.3 -1.3,-3.8M440.0,841.2q0.1,-2.4 0.6,-4.1M441.4,841.3q-0.2,-2.7 -1.2,-4.5M442.9,841.4q0.2,-2.4 1.4,-4.1M444.9,841.6q-0.2,-2.6 -1.5,-4.4M446.4,841.7q-0.1,-2.7 -0.8,-4.5M448.0,841.9q-0.2,-2.4 -1.5,-4.1" fill="none" stroke="#66e838" stroke-width="0.5" stroke-linecap="round"/>
<path d="M410.5,828.0a1.00,1.00 0 1,0 2.00,0a1.00,1.00 0 1,0 -2.00,0M411.3,831.0a1.00,1.00 0 1,0 2.00,0a1.00,1.00 0 1,0 -2.00,0M412.8,825.4a1.00,1.00 0 1,0 2.00,0a1.00,1.00 0 1,0 -2.00,0M413.6,831.5a1.00,1.00 0 1,0 2.00,0a1.00,1.00 0 1,0 -2.00,0M415.1,828.2a1.00,1.00 0 1,0 2.00,0a1.00,1.00 0 1,0 -2.00,0M415.9,831.7a1.00,1.00 0 1,0 2.00,0a1.00,1.00 0 1,0 -2.00,0M417.4,825.4a1.00,1.00 0 1,0 2.00,0a1.00,1.00 0 1,0 -2.00,0M419.7,827.9a1.00,1.00 0 1,0 2.00,0a1.00,1.00 0 1,0 -2.00,0M420.5,831.4a1.00,1.00 0 1,0 2.00,0a1.00,1.00 0 1,0 -2.00,0M422.0,827.0a1.00,1.00 0 1,0 2.00,0a1.00,1.00 0 1,0 -2.00,0M424.3,828.7a1.00,1.00 0 1,0 2.00,0a1.00,1.00 0 1,0 -2.00,0M425.1,831.9a1.00,1.00 0 1,0 2.00,0a1.00,1.00 0 1,0 -2.00,0M426.6,826.4a1.00,1.00 0 1,0 2.00,0a1.00,1.00 0 1,0 -2.00,0M427.4,832.5a1.00,1.00 0 1,0 2.00,0a1.00,1.00 0 1,0 -2.00,0M428.9,828.5a1.00,1.00 0 1,0 2.00,0a1.00,1.00 0 1,0 -2.00,0M431.2,827.0a1.00,1.00 0 1,0 2.00,0a1.00,1.00 0 1,0 -2.00,0M432.0,833.0a1.00,1.00 0 1,0 2.00,0a1.00,1.00 0 1,0 -2.00,0M433.5,827.0a1.00,1.00 0 1,0 2.00,0a1.00,1.00 0 1,0 -2.00,0M435.8,827.7a1.00,1.00 0 1,0 2.00,0a1.00,1.00 0 1,0 -2.00,0M438.1,829.7a1.00,1.00 0 1,0 2.00,0a1.00,1.00 0 1,0 -2.00,0M438.9,833.6a1.00,1.00 0 1,0 2.00,0a1.00,1.00 0 1,0 -2.00,0M440.4,830.1a1.00,1.00 0 1,0 2.00,0a1.00,1.00 0 1,0 -2.00,0M442.7,828.4a1.00,1.00 0 1,0 2.00,0a1.00,1.00 0 1,0 -2.00,0M445.0,830.8a1.00,1.00 0 1,0 2.00,0a1.00,1.00 0 1,0 -2.00,0M445.8,834.1a1.00,1.00 0 1,0 2.00,0a1.00,1.00 0 1,0 -2.00,0M447.3,827.8a1.00,1.00 0 1,0 2.00,0a1.00,1.00 0 1,0 -2.00,0" fill="#8f35dd" stroke="none"/>
<path d="M446.0,841.7q-0.2,-21.4 -1.4,-35.6M447.3,841.8q-0.1,-14.6 -0.6,-24.3M448.5,841.9q-0.1,-14.6 -0.8,-24.4M449.6,842.0q-0.2,-19.4 -1.2,-32.3M450.6,842.1q-0.1,-20.2 -0.8,-33.6M452.2,842.3q0.2,-17.9 1.1,-29.8M453.2,842.3q-0.3,-21.3 -2.0,-35.4M454.1,842.4q0.1,-11.8 0.9,-19.6M455.5,842.6q-0.1,-12.8 -0.5,-21.3M457.0,842.7q-0.3,-18.0 -2.0,-30.0M457.9,842.8q-0.3,-12.4 -1.8,-20.7M459.1,842.9q0.3,-11.3 2.0,-18.8M460.2,843.0q0.1,-16.8 0.7,-28.0M461.6,843.1q-0.1,-20.6 -0.5,-34.4M462.7,843.2q-0.3,-15.4 -2.3,-25.7M463.8,843.3q0.3,-19.0 2.3,-31.7M465.3,843.5q0.1,-18.4 0.5,-30.7M466.0,843.5q-0.1,-14.3 -0.8,-23.8M467.3,843.6q-0.1,-11.4 -0.6,-19.1M468.5,843.8q0.2,-19.8 1.6,-33.0M469.9,843.9q0.2,-12.0 1.3,-20.0M471.4,844.0q-0.1,-16.7 -0.7,-27.8M472.6,844.1q0.2,-11.7 1.0,-19.5M474.3,844.3q0.2,-16.1 1.0,-26.9M475.8,844.4q0.3,-12.2 2.1,-20.4M477.2,844.6q-0.3,-12.2 -2.0,-20.3M478.1,844.6q0.1,-16.7 0.9,-27.8M479.1,844.7q-0.1,-20.8 -0.7,-34.7M480.3,844.8q0.3,-11.2 2.3,-18.6M481.2,844.9q0.0,-20.4 0.2,-34.0M482.4,845.0q-0.2,-16.2 -1.1,-27.1M484.0,845.2q0.2,-21.2 1.5,-35.4M485.3,845.3q0.2,-11.0 1.6,-18.3M486.3,845.4q-0.2,-20.0 -1.2,-33.3M487.6,845.5q-0.2,-19.1 -1.5,-31.8M488.8,845.6q-0.3,-10.3 -2.2,-17.2M489.7,845.7q0.3,-20.8 2.1,-34.6M491.1,845.9q0.1,-12.9 0.8,-21.5M492.5,846.0q0.1,-13.7 0.4,-22.8M494.0,846.1q-0.2,-9.5 -1.4,-15.8M495.2,846.3q-0.1,-10.9 -0.5,-18.1M496.4,846.4q0.0,-11.2 0.1,-18.6" fill="none" stroke="#4aa83a" stroke-width="0.65" stroke-linecap="round"/>
<path d="M497.0,846.1l-7,-9.5l5,4.6l-0.4,-10.5l2.6,9.5l5.6,-8.5l-3.2,10.4l5,-3.2l-5.2,7.2ZM506.0,847.1l-7,-9.5l5,4.6l-0.4,-10.5l2.6,9.5l5.6,-8.5l-3.2,10.4l5,-3.2l-5.2,7.2ZM517.0,848.6l-7,-9.5l5,4.6l-0.4,-10.5l2.6,9.5l5.6,-8.5l-3.2,10.4l5,-3.2l-5.2,7.2ZM525.0,849.9l-7,-9.5l5,4.6l-0.4,-10.5l2.6,9.5l5.6,-8.5l-3.2,10.4l5,-3.2l-5.2,7.2ZM536.0,851.7l-7,-9.5l5,4.6l-0.4,-10.5l2.6,9.5l5.6,-8.5l-3.2,10.4l5,-3.2l-5.2,7.2Z" fill="none" stroke="#4fe822" stroke-width="0.7" stroke-linejoin="round"/>
<path d="M493.6,822.7V843.8M502.6,819.9V844.7M515.4,823.7V846.4M518.3,822.0V846.8M524.3,821.3V847.8M538.9,824.1V850.2" fill="none" stroke="#4fe822" stroke-width="0.5"/>
<path d="M493.6,823.0q-1.6,-2.6 0,-4.6q1.8,2.0 0,4.6ZM502.6,820.2q-1.6,-2.6 0,-4.6q1.8,2.0 0,4.6ZM515.4,824.0q-1.6,-2.6 0,-4.6q1.8,2.0 0,4.6ZM518.3,822.3q-1.6,-2.6 0,-4.6q1.8,2.0 0,4.6ZM524.3,821.6q-1.6,-2.6 0,-4.6q1.8,2.0 0,4.6ZM538.9,824.4q-1.6,-2.6 0,-4.6q1.8,2.0 0,4.6Z" fill="#fffbd0" stroke="#ece530" stroke-width="0.6"/>
<path d="M534.0,851.7q-0.1,-19.2 1.2,-29.6M534.4,835.4q0.6,-5.9 2.4,-9.8M534.8,851.8q0.0,-19.9 -0.5,-30.6M536.1,852.0q-0.2,-18.5 1.8,-28.5M536.7,836.3q0.6,-5.7 2.7,-9.4M537.4,852.2q-0.5,-20.3 4.8,-31.3M539.1,835.0q0.6,-6.3 4.2,-10.3M539.1,852.5q-0.6,-20.8 5.7,-32.0M541.1,834.9q0.6,-6.4 4.7,-10.5M540.2,852.7q-0.6,-18.9 6.2,-29.1M542.4,836.7q0.6,-5.8 4.9,-9.6M541.5,852.9q-0.6,-18.0 6.2,-27.7M543.6,837.6q0.6,-5.5 4.9,-9.1M542.2,853.0q-0.6,-19.9 6.1,-30.6M543.5,853.2q-0.1,-20.0 0.9,-30.8M543.9,836.3q0.6,-6.2 2.3,-10.2M544.3,853.4q-0.2,-15.9 2.2,-24.5M545.1,839.9q0.6,-4.9 2.9,-8.1M545.4,853.6q-0.4,-15.4 4.3,-23.7M546.9,840.5q0.6,-4.7 4.0,-7.8M546.4,853.7q-0.2,-17.0 1.7,-26.1M547.0,839.3q0.6,-5.2 2.7,-8.6M547.2,853.9q-0.7,-20.9 6.7,-32.1M549.5,836.2q0.6,-6.4 5.2,-10.6M548.7,854.1q-0.5,-17.6 5.3,-27.1M550.6,839.2q0.6,-5.4 4.4,-9.0M550.1,854.4q-0.6,-18.5 6.2,-28.5M552.3,838.7q0.6,-5.7 4.9,-9.4M551.6,854.6q-0.3,-15.6 3.0,-24.0M552.3,854.8q-0.1,-16.4 0.9,-25.2M552.7,840.9q0.6,-5.0 2.2,-8.3M553.1,854.9q-0.5,-20.4 5.4,-31.5M555.0,837.6q0.6,-6.3 4.5,-10.4M554.2,855.1q0.1,-18.4 -1.3,-28.4M553.7,839.5q0.6,-5.7 1.1,-9.4M555.8,855.4q-0.3,-16.6 2.6,-25.6M557.4,855.7q-0.0,-17.6 0.1,-27.1M557.5,840.8q0.6,-5.4 1.8,-8.9M559.0,856.0q0.0,-20.2 -0.0,-31.0M560.1,856.2q0.0,-17.5 -0.2,-26.9M561.8,856.5q-0.4,-15.7 3.8,-24.2M563.1,843.2q0.6,-4.8 3.7,-8.0M563.3,856.8q0.1,-14.7 -0.8,-22.6M564.4,857.0q-0.6,-19.9 5.9,-30.6M565.2,857.1q-0.6,-18.6 6.5,-28.6M567.5,841.4q0.6,-5.7 5.0,-9.5M566.0,857.3q-0.1,-15.7 0.9,-24.1M566.9,857.5q-0.0,-15.4 0.3,-23.7M567.0,844.5q0.6,-4.7 2.0,-7.8M568.4,857.8q-0.4,-16.5 4.0,-25.4M569.7,858.0q-0.1,-15.6 0.9,-24.0M571.0,858.3q-0.4,-15.8 3.8,-24.3M572.4,844.9q0.6,-4.9 3.7,-8.0M572.7,858.7q-0.3,-16.7 2.9,-25.7M573.7,844.5q0.6,-5.1 3.2,-8.5M573.5,858.8q-0.1,-17.7 0.7,-27.2M573.7,843.9q0.6,-5.4 2.2,-9.0M575.0,859.1q-0.1,-14.5 0.7,-22.3M575.9,859.4q-0.3,-15.6 3.0,-24.0M577.0,846.1q0.6,-4.8 3.3,-7.9M577.5,859.7q0.1,-19.8 -1.5,-30.4M577.0,843.0q0.6,-6.1 1.1,-10.0M578.9,860.0q-0.6,-16.1 6.4,-24.8M581.2,846.4q0.6,-5.0 5.0,-8.2M579.8,860.2q-0.4,-17.1 3.9,-26.3M581.2,845.7q0.6,-5.3 3.7,-8.7M581.2,860.5q-0.3,-18.4 2.8,-28.3M582.1,844.9q0.6,-5.7 3.2,-9.3M582.7,860.8q-0.3,-17.7 2.8,-27.3M583.6,861.0q0.0,-18.2 -0.3,-28.1M583.5,845.6q0.6,-5.6 1.6,-9.3M584.5,861.2q-0.5,-16.2 5.0,-25.0M586.0,861.5q-0.3,-15.0 2.5,-23.0M586.9,848.8q0.6,-4.6 3.1,-7.6M587.3,861.8q0.1,-16.4 -1.4,-25.3M586.8,847.9q0.6,-5.1 1.1,-8.3M588.7,862.0q-0.6,-16.8 5.9,-25.9M590.8,847.8q0.6,-5.2 4.7,-8.5M589.6,862.2q-0.3,-13.6 2.6,-20.9M590.5,850.7q0.6,-4.2 3.1,-6.9M590.7,862.4q-0.5,-14.9 5.2,-23.0M592.5,849.8q0.6,-4.6 4.4,-7.6M592.3,862.8q-0.3,-16.6 3.0,-25.6M593.3,863.0q-0.1,-14.2 1.0,-21.8M593.6,851.0q0.6,-4.4 2.3,-7.2M594.3,863.2q-0.3,-16.8 2.8,-25.9M595.3,849.0q0.6,-5.2 3.2,-8.5M595.6,863.6q-0.5,-13.7 5.4,-21.2M597.5,852.0q0.6,-4.2 4.5,-7.0M596.5,864.0q-0.4,-14.1 4.3,-21.7" fill="none" stroke="#35ea14" stroke-width="0.6" stroke-linecap="round"/>
<path d="M726.9,858.4H733.3V888L727.9,895.2L726.9,895Z" fill="#bb8877" stroke="#8f5f50" stroke-width="0.5"/>
<path d="M746.5,872.0l-0.6,-8l2,4l1.4,-7.5l1.4,6l2.2,-5.5l0.4,9.5Z" fill="#45e81a" stroke="#45e81a" stroke-width="0.5"/>
<path d="M755.5,869.1l-0.6,-8l2,4l1.4,-7.5l1.4,6l2.2,-5.5l0.4,9.5Z" fill="#45e81a" stroke="#45e81a" stroke-width="0.5"/>
<path d="M763.5,867.1l-0.6,-8l2,4l1.4,-7.5l1.4,6l2.2,-5.5l0.4,9.5Z" fill="#45e81a" stroke="#45e81a" stroke-width="0.5"/>
<path d="M769.0,866.4q-0.5,-5.5 -0.4,-11.1M770.0,866.2q-0.0,-9.5 -2.0,-19.0M771.5,865.9q-0.2,-9.6 -1.6,-19.1M773.0,865.6q1.4,-5.5 -1.1,-10.9M773.9,865.5q-0.3,-7.0 -0.9,-14.0M774.7,865.3q0.9,-5.4 2.2,-10.9M776.2,865.1q0.2,-6.3 -1.1,-12.6M777.2,865.0q-0.5,-7.3 1.9,-14.6M778.3,864.9q-1.7,-9.5 0.5,-19.1M779.5,864.8q-0.6,-8.1 -1.9,-16.2M780.9,864.6q1.4,-9.0 0.4,-18.0M782.1,864.5q-0.4,-7.0 1.5,-14.0M783.6,864.3q-1.1,-6.2 -0.7,-12.4M784.9,864.2q-1.0,-6.0 -1.3,-12.0M786.2,864.1q1.8,-6.6 -0.2,-13.2M787.6,863.9q-0.4,-9.0 -1.3,-18.0M788.4,863.9q-0.8,-8.3 -0.6,-16.6M789.2,863.8q-0.4,-6.1 -1.0,-12.1M790.9,863.6q-0.5,-8.4 -1.0,-16.8M791.8,863.6q1.0,-9.3 -0.6,-18.7M793.3,863.5q-0.6,-9.2 -2.1,-18.4M794.4,863.4q-0.6,-5.6 1.7,-11.3M795.9,863.3q-0.4,-7.5 -2.0,-15.1M796.9,863.2q-1.7,-12.0 0.4,-24.1M798.0,863.2q0.7,-13.2 -1.6,-26.4M799.0,863.1q-1.1,-13.5 -1.6,-27.1M800.1,863.0q1.3,-12.8 -0.5,-25.6M801.1,863.0q-1.7,-12.6 -1.3,-25.2M801.9,863.0q1.1,-8.0 0.3,-16.0M803.6,862.9q-1.0,-12.1 1.8,-24.3M805.0,862.8q-1.0,-12.9 1.6,-25.8M806.4,862.8q-1.6,-11.5 -0.5,-23.0" fill="none" stroke="#d79d45" stroke-width="0.8" stroke-linecap="round"/><path d="M773.5,865.5q-1.6,-15.5 0.6,-27.9q0.6,-2.8 -1.0,-4.0q-1.6,-1.2 -3.4,-0.6q2.2,0 2.8,1.9M775.3,865.5q1.6,-14.0 0.4,-26.0M788.0,863.9q-1.6,-15.5 0.6,-27.9q0.6,-2.8 -1.0,-4.0q-1.6,-1.2 -3.4,-0.6q2.2,0 2.8,1.9M789.8,863.9q1.6,-14.0 0.4,-26.0" fill="none" stroke="#d79d45" stroke-width="0.9" stroke-linecap="round"/>
<path d="M799.0,863.1q-0.2,-16.6 1.9,-25.6M799.6,849.1q0.6,-5.1 2.7,-8.4M799.8,863.1q-0.2,-17.0 1.7,-26.2M800.4,848.6q0.6,-5.2 2.7,-8.7M801.1,863.0q0.1,-16.0 -0.7,-24.6M800.9,849.5q0.6,-4.9 1.5,-8.1M802.2,862.9q-0.2,-15.4 2.4,-23.7M803.4,862.9q0.1,-18.8 -1.1,-28.9M803.0,847.0q0.6,-5.8 1.2,-9.5M804.4,862.8q-0.1,-14.8 1.3,-22.8M804.9,850.3q0.6,-4.6 2.4,-7.5M805.6,862.8q-0.2,-18.0 1.7,-27.7M806.2,847.5q0.6,-5.5 2.6,-9.2M806.5,862.8q-0.1,-14.5 0.9,-22.4M807.7,862.7q-0.3,-16.0 2.9,-24.6M808.7,849.2q0.6,-4.9 3.3,-8.1M808.8,862.7q-0.5,-18.1 4.7,-27.9M810.5,847.3q0.6,-5.6 4.2,-9.2M810.1,862.6q-0.4,-20.1 3.6,-30.9M811.3,845.6q0.6,-6.2 3.6,-10.2M811.3,862.6q-0.1,-16.8 1.3,-25.8M811.8,848.4q0.6,-5.2 2.5,-8.5M812.8,862.5q-0.1,-19.6 1.1,-30.2M813.5,862.5q-0.2,-15.1 1.9,-23.2M814.2,849.8q0.6,-4.6 2.8,-7.6M814.5,862.5q0.0,-20.1 -0.3,-31.0M814.4,845.4q0.6,-6.2 1.6,-10.2M815.4,862.5q-0.0,-18.3 0.2,-28.2M815.5,847.0q0.6,-5.6 1.9,-9.3M816.6,862.4q-0.0,-16.5 0.2,-25.4M816.7,848.4q0.6,-5.1 1.9,-8.4M817.9,862.4q-0.3,-17.4 2.7,-26.8M818.8,847.6q0.6,-5.4 3.1,-8.9M819.4,862.4q-0.1,-19.9 0.8,-30.7M819.6,845.5q0.6,-6.1 2.2,-10.1M820.9,862.3q-0.3,-15.9 3.2,-24.5M822.0,848.8q0.6,-4.9 3.4,-8.1M822.2,862.3q-0.4,-19.8 3.9,-30.5M823.5,845.5q0.6,-6.1 3.8,-10.1M823.4,862.3q-0.2,-16.9 2.3,-26.1M824.2,847.9q0.6,-5.2 2.9,-8.6M824.4,862.2q-0.2,-18.5 2.1,-28.4M825.1,846.6q0.6,-5.7 2.8,-9.4M825.3,862.2q0.0,-15.9 -0.1,-24.5M825.3,848.8q0.6,-4.9 1.7,-8.1M826.1,862.2q0.1,-14.3 -0.8,-22.0M825.8,850.1q0.6,-4.4 1.4,-7.3M827.5,862.2q-0.2,-14.6 1.6,-22.4M828.6,862.1q-0.4,-14.8 4.2,-22.8M829.3,862.1q-0.2,-15.4 1.9,-23.6M830.4,862.1q-0.0,-18.1 0.3,-27.8M831.4,862.1q-0.3,-15.8 3.5,-24.3M832.8,862.0q-0.1,-17.1 1.4,-26.4M834.1,862.0q-0.4,-18.6 3.8,-28.7M835.4,846.2q0.6,-5.7 3.7,-9.5M835.1,861.9q-0.0,-17.7 0.2,-27.2M835.2,847.0q0.6,-5.4 1.9,-9.0M835.8,861.9q-0.5,-17.1 4.6,-26.4M836.6,861.9q-0.1,-17.7 1.4,-27.3M837.1,846.9q0.6,-5.5 2.5,-9.0M837.7,861.9q-0.5,-19.1 4.9,-29.4M839.4,845.7q0.6,-5.9 4.3,-9.7M839.0,861.8q0.1,-14.3 -1.0,-22.0M838.7,849.7q0.6,-4.4 1.3,-7.3M840.4,861.8q0.0,-19.4 -0.5,-29.8M840.2,845.3q0.6,-6.0 1.6,-9.8M841.1,861.7q-0.2,-16.7 1.8,-25.8M841.7,847.6q0.6,-5.2 2.7,-8.5M842.1,861.7q-0.4,-18.2 4.0,-28.0M843.5,846.3q0.6,-5.6 3.8,-9.2M843.1,861.6q-0.4,-17.1 3.5,-26.3M844.2,861.6q-0.2,-17.5 2.2,-27.0M845.0,861.6q0.1,-14.5 -0.6,-22.3M845.9,861.5q0.0,-16.3 -0.5,-25.1M845.8,847.7q0.6,-5.0 1.6,-8.3M846.6,861.5q0.0,-16.7 -0.4,-25.7M846.5,847.3q0.6,-5.1 1.6,-8.5M847.6,861.4q-0.2,-14.7 1.8,-22.7M848.2,849.0q0.6,-4.5 2.7,-7.5M848.5,861.4q0.1,-13.7 -0.8,-21.1M849.5,861.3q0.0,-13.8 -0.1,-21.3M849.5,849.6q0.6,-4.3 1.7,-7.0M851.1,861.2q-0.4,-14.5 4.2,-22.3M852.6,848.9q0.6,-4.5 3.9,-7.4M852.2,861.1q-0.1,-17.9 1.2,-27.6M852.6,846.0q0.6,-5.5 2.4,-9.1M853.4,861.1q-0.3,-17.0 2.6,-26.2M854.3,846.6q0.6,-5.2 3.1,-8.7M854.9,860.9q-0.5,-18.2 5.0,-28.0M856.7,845.6q0.6,-5.6 4.3,-9.2M856.4,860.8q0.0,-17.3 -0.2,-26.7M856.3,846.1q0.6,-5.3 1.7,-8.8M857.2,860.7q0.1,-13.9 -0.8,-21.4M857.0,849.0q0.6,-4.3 1.4,-7.0" fill="none" stroke="#35ea14" stroke-width="0.65" stroke-linecap="round"/>
<path d="M849.0,861.1l-2.6,-4.5l2.6,1.6l0.2,-5.6l1.8,4.4l2.8,-3l-1.4,5.6l2.4,-1.2l-2.6,3M853.6,860.7l-2.6,-4.5l2.6,1.6l0.2,-5.6l1.8,4.4l2.8,-3l-1.4,5.6l2.4,-1.2l-2.6,3M858.2,860.4l-2.6,-4.5l2.6,1.6l0.2,-5.6l1.8,4.4l2.8,-3l-1.4,5.6l2.4,-1.2l-2.6,3M862.8,859.9l-2.6,-4.5l2.6,1.6l0.2,-5.6l1.8,4.4l2.8,-3l-1.4,5.6l2.4,-1.2l-2.6,3M867.4,859.4l-2.6,-4.5l2.6,1.6l0.2,-5.6l1.8,4.4l2.8,-3l-1.4,5.6l2.4,-1.2l-2.6,3M872.0,858.8l-2.6,-4.5l2.6,1.6l0.2,-5.6l1.8,4.4l2.8,-3l-1.4,5.6l2.4,-1.2l-2.6,3M876.6,858.2l-2.6,-4.5l2.6,1.6l0.2,-5.6l1.8,4.4l2.8,-3l-1.4,5.6l2.4,-1.2l-2.6,3M881.2,857.6l-2.6,-4.5l2.6,1.6l0.2,-5.6l1.8,4.4l2.8,-3l-1.4,5.6l2.4,-1.2l-2.6,3M885.8,857.1l-2.6,-4.5l2.6,1.6l0.2,-5.6l1.8,4.4l2.8,-3l-1.4,5.6l2.4,-1.2l-2.6,3M890.4,856.4l-2.6,-4.5l2.6,1.6l0.2,-5.6l1.8,4.4l2.8,-3l-1.4,5.6l2.4,-1.2l-2.6,3M895.0,855.8l-2.6,-4.5l2.6,1.6l0.2,-5.6l1.8,4.4l2.8,-3l-1.4,5.6l2.4,-1.2l-2.6,3M899.6,855.2l-2.6,-4.5l2.6,1.6l0.2,-5.6l1.8,4.4l2.8,-3l-1.4,5.6l2.4,-1.2l-2.6,3M904.2,854.6l-2.6,-4.5l2.6,1.6l0.2,-5.6l1.8,4.4l2.8,-3l-1.4,5.6l2.4,-1.2l-2.6,3M908.8,854.2l-2.6,-4.5l2.6,1.6l0.2,-5.6l1.8,4.4l2.8,-3l-1.4,5.6l2.4,-1.2l-2.6,3M913.4,854.1l-2.6,-4.5l2.6,1.6l0.2,-5.6l1.8,4.4l2.8,-3l-1.4,5.6l2.4,-1.2l-2.6,3M918.0,854.1l-2.6,-4.5l2.6,1.6l0.2,-5.6l1.8,4.4l2.8,-3l-1.4,5.6l2.4,-1.2l-2.6,3M922.6,854.1l-2.6,-4.5l2.6,1.6l0.2,-5.6l1.8,4.4l2.8,-3l-1.4,5.6l2.4,-1.2l-2.6,3M927.2,854.1l-2.6,-4.5l2.6,1.6l0.2,-5.6l1.8,4.4l2.8,-3l-1.4,5.6l2.4,-1.2l-2.6,3M931.8,854.1l-2.6,-4.5l2.6,1.6l0.2,-5.6l1.8,4.4l2.8,-3l-1.4,5.6l2.4,-1.2l-2.6,3M936.4,854.1l-2.6,-4.5l2.6,1.6l0.2,-5.6l1.8,4.4l2.8,-3l-1.4,5.6l2.4,-1.2l-2.6,3M941.0,854.1l-2.6,-4.5l2.6,1.6l0.2,-5.6l1.8,4.4l2.8,-3l-1.4,5.6l2.4,-1.2l-2.6,3" fill="none" stroke="#4fe822" stroke-width="0.85" stroke-linejoin="round"/>
<path d="M118.1,818.6L118.7,818.8L119.6,819.0L120.6,819.2L121.7,819.5L122.9,819.8L124.2,820.1L125.4,820.3L126.6,820.6L127.4,820.7L128.0,820.9L128.5,821.0L129.2,821.1L130.2,821.3L131.5,821.4L133.4,821.6L136.1,821.8L139.6,822.0L143.8,822.2L148.7,822.5L153.9,822.7L159.5,823.0L165.1,823.3L170.8,823.6L176.3,824.0L181.7,824.4L187.2,824.8L192.8,825.3L198.5,825.8L204.3,826.3L210.1,826.8L216.0,827.2L221.9,827.6L228.0,827.9L234.4,828.1L240.9,828.4L247.5,828.5L253.8,828.7L259.8,828.9L265.2,829.0L269.9,829.1L273.9,829.2L277.2,829.2L280.0,829.2L282.4,829.2L284.5,829.2L286.6,829.2L288.8,829.3L291.2,829.5L293.8,829.8L296.5,830.1L299.1,830.5L301.8,830.9L304.5,831.3L307.1,831.8L309.8,832.3L312.5,832.9L315.2,833.4L317.9,834.1L320.7,834.8L323.5,835.5L326.3,836.2L328.9,836.8L331.5,837.4L333.9,837.9L335.9,838.2L337.5,838.5L338.9,838.7L340.3,838.9L341.8,839.0L343.6,839.1L345.8,839.2L348.5,839.3L352.1,839.4L356.2,839.4L360.7,839.4L365.6,839.4L370.5,839.4L375.4,839.4L380.0,839.4L384.3,839.5L388.2,839.6L391.9,839.7L395.5,839.9L398.9,840.0L402.4,840.2L405.8,840.4L409.2,840.6L412.8,840.8L416.3,841.0L419.9,841.3L423.4,841.6L427.0,841.9L430.5,842.2L434.1,842.6L437.6,842.9L441.2,843.2L444.7,843.5L448.2,843.8L451.6,844.1L455.1,844.4L458.5,844.7L462.1,845.1L465.9,845.4L469.8,845.8L474.0,846.2L478.4,846.6L483.0,847.0L487.6,847.4L492.3,847.9L496.9,848.3L501.3,848.8L505.4,849.3L509.3,849.8L513.0,850.3L516.6,850.8L520.1,851.3L523.5,851.9L527.0,852.4L530.4,853.0L533.9,853.6L537.6,854.2L541.2,854.8L544.9,855.4L548.6,856.0L552.3,856.7L555.8,857.3L559.2,858.0L562.5,858.6L565.6,859.2L568.7,859.8L571.8,860.4L574.7,861.0L577.5,861.6L580.1,862.2L582.4,862.7L584.6,863.2L586.4,863.5L588.0,863.9L589.4,864.1L590.5,864.3L591.5,864.5L592.4,864.7L593.2,864.9L593.9,865.1L594.5,865.3L595.0,865.5L595.3,865.6L595.4,865.6L595.4,865.6L595.4,865.6L595.5,865.7L595.6,865.9L595.6,865.9L595.7,866.0L595.7,866.2L595.8,866.6L595.9,867.1L596.0,867.7L596.3,868.5L596.6,869.2L596.9,869.8L597.1,870.4L597.4,871.3L597.8,872.2L598.3,873.2L599.0,874.2L599.9,875.3L601.0,876.3L602.3,877.2L603.7,878.2L605.2,879.2L606.9,880.1L608.6,881.1L610.5,882.0L612.3,882.9L614.2,883.6L616.0,884.3L617.8,885.0L619.6,885.6L621.6,886.2L623.6,886.8L625.7,887.3L628.0,887.7L630.4,888.1L633.0,888.4L635.7,888.6L638.5,888.8L641.4,889.0L644.5,889.1L647.6,889.2L650.9,889.2L654.3,889.3L657.9,889.4L661.9,889.4L666.2,889.5L670.5,889.5L674.7,889.5L678.8,889.4L682.5,889.4L685.8,889.3L688.5,889.2L690.9,889.1L692.9,888.9L694.8,888.7L696.5,888.5L698.1,888.3L699.9,888.0L701.7,887.8L703.7,887.5L705.8,887.1L707.9,886.8L710.0,886.4L712.1,886.0L714.1,885.6L715.9,885.2L717.6,884.8L719.1,884.5L720.4,884.2L721.6,883.9L722.7,883.6L723.8,883.3L724.9,883.0L726.1,882.6L727.3,882.2L728.6,881.7L729.9,881.3L731.2,880.8L732.5,880.2L733.9,879.7L735.3,879.1L736.8,878.6L738.4,878.0L740.1,877.3L742.0,876.6L744.0,875.8L746.0,875.1L748.1,874.3L750.1,873.6L752.1,872.9L754.0,872.3L755.8,871.7L757.6,871.2L759.4,870.7L761.1,870.2L762.8,869.7L764.5,869.3L766.2,868.9L767.9,868.5L769.4,868.2L770.8,867.9L772.2,867.7L773.5,867.4L774.9,867.2L776.4,867.0L778.2,866.8L780.2,866.6L782.4,866.4L784.7,866.1L787.0,865.9L789.5,865.7L792.3,865.4L795.4,865.2L798.9,865.0L803.0,864.8L807.8,864.6L813.4,864.4L819.5,864.3L826.0,864.1L832.5,863.9L838.8,863.7L844.8,863.5L850.1,863.2L854.9,862.9L859.3,862.5L863.4,862.0L867.3,861.6L871.0,861.1L874.6,860.7L878.2,860.2L881.7,859.8L885.2,859.4L888.7,858.9L892.1,858.4L895.4,858.0L898.6,857.6L901.5,857.2L904.3,856.8L906.8,856.6L908.9,856.4L910.5,856.3L911.8,856.3L913.0,856.2L914.3,856.3L915.7,856.3L917.6,856.3L920.0,856.3L923.2,856.3L927.0,856.3L931.3,856.3L935.7,856.3L940.1,856.3L944.1,856.3L947.4,856.3L949.8,856.3" fill="none" stroke="#333" stroke-width="0.7"/><path d="M118.6,816.5L119.2,816.7L120.1,816.9L121.1,817.1L122.2,817.4L123.4,817.7L124.6,817.9L125.9,818.2L127.0,818.4L127.9,818.6L128.5,818.7L129.0,818.9L129.6,819.0L130.4,819.1L131.7,819.2L133.6,819.4L136.2,819.6L139.7,819.8L143.9,820.0L148.8,820.3L154.0,820.6L159.6,820.8L165.2,821.1L170.9,821.5L176.4,821.8L181.8,822.2L187.4,822.7L193.0,823.1L198.7,823.6L204.5,824.1L210.3,824.6L216.1,825.0L222.0,825.4L228.1,825.7L234.5,825.9L241.0,826.2L247.5,826.3L253.8,826.5L259.8,826.7L265.3,826.8L270.0,826.9L273.9,827.0L277.2,827.0L280.0,827.0L282.4,827.0L284.5,827.0L286.7,827.0L288.9,827.1L291.4,827.3L294.1,827.6L296.8,827.9L299.5,828.3L302.1,828.7L304.8,829.2L307.5,829.7L310.2,830.2L312.9,830.7L315.6,831.3L318.4,831.9L321.2,832.6L324.1,833.3L326.8,834.0L329.5,834.7L332.0,835.2L334.3,835.7L336.3,836.1L337.9,836.3L339.2,836.5L340.6,836.7L342.0,836.8L343.7,836.9L345.8,837.0L348.6,837.1L352.1,837.2L356.2,837.2L360.7,837.2L365.6,837.2L370.5,837.2L375.4,837.2L380.0,837.2L384.3,837.3L388.2,837.4L392.0,837.5L395.5,837.7L399.1,837.8L402.5,838.0L405.9,838.2L409.4,838.4L412.9,838.6L416.5,838.8L420.0,839.1L423.6,839.4L427.1,839.7L430.7,840.0L434.3,840.4L437.8,840.7L441.4,841.0L444.9,841.3L448.4,841.6L451.8,841.9L455.2,842.2L458.8,842.6L462.3,842.9L466.1,843.2L470.0,843.6L474.2,844.0L478.6,844.4L483.2,844.8L487.8,845.2L492.5,845.7L497.1,846.1L501.5,846.6L505.7,847.1L509.6,847.6L513.3,848.1L516.9,848.6L520.4,849.2L523.9,849.7L527.3,850.3L530.8,850.8L534.3,851.4L537.9,852.0L541.6,852.6L545.3,853.2L549.0,853.9L552.7,854.5L556.2,855.2L559.6,855.8L562.9,856.4L566.1,857.0L569.2,857.6L572.2,858.3L575.1,858.9L577.9,859.5L580.5,860.0L582.9,860.6L585.0,861.0L586.8,861.4L588.4,861.7L589.8,862.0L590.9,862.2L592.0,862.4L592.9,862.6L593.7,862.8L594.5,863.0L595.2,863.2L595.7,863.4L596.1,863.5L596.5,863.7L596.7,863.9L596.9,864.1L597.2,864.3L597.4,864.6L597.6,864.9L597.8,865.3L597.9,865.7L597.9,866.2L598.0,866.6L598.2,867.1L598.3,867.7L598.6,868.3L598.9,869.0L599.2,869.7L599.4,870.4L599.8,871.2L600.2,872.1L600.8,872.9L601.5,873.8L602.4,874.6L603.5,875.5L604.9,876.4L606.3,877.3L608.0,878.2L609.7,879.1L611.4,880.0L613.2,880.8L615.0,881.6L616.8,882.3L618.5,882.9L620.3,883.5L622.2,884.1L624.1,884.6L626.1,885.1L628.3,885.5L630.7,885.9L633.2,886.2L635.9,886.4L638.6,886.6L641.5,886.8L644.5,886.9L647.7,887.0L650.9,887.0L654.3,887.1L658.0,887.2L662.0,887.2L666.2,887.3L670.5,887.3L674.7,887.3L678.8,887.2L682.5,887.2L685.7,887.1L688.4,887.0L690.7,886.9L692.7,886.7L694.5,886.5L696.2,886.3L697.8,886.1L699.5,885.9L701.4,885.6L703.4,885.3L705.5,885.0L707.6,884.6L709.6,884.2L711.7,883.8L713.6,883.4L715.4,883.1L717.1,882.7L718.6,882.4L719.9,882.1L721.1,881.8L722.1,881.5L723.2,881.2L724.3,880.9L725.4,880.5L726.6,880.1L727.9,879.7L729.1,879.2L730.4,878.7L731.7,878.2L733.1,877.7L734.5,877.1L736.0,876.5L737.6,875.9L739.3,875.2L741.2,874.5L743.2,873.8L745.3,873.0L747.3,872.3L749.4,871.5L751.4,870.8L753.3,870.2L755.1,869.6L757.0,869.1L758.8,868.6L760.5,868.1L762.3,867.6L764.0,867.2L765.7,866.8L767.4,866.4L769.0,866.1L770.4,865.8L771.8,865.5L773.1,865.3L774.6,865.1L776.2,864.8L777.9,864.6L780.0,864.4L782.2,864.2L784.4,863.9L786.8,863.7L789.3,863.5L792.1,863.3L795.2,863.0L798.8,862.8L802.9,862.6L807.7,862.4L813.3,862.2L819.5,862.1L825.9,861.9L832.4,861.7L838.8,861.5L844.7,861.3L850.0,861.0L854.7,860.7L859.1,860.3L863.2,859.8L867.1,859.4L870.8,858.9L874.4,858.5L877.9,858.0L881.4,857.6L884.9,857.2L888.4,856.7L891.8,856.3L895.1,855.8L898.3,855.4L901.3,855.0L904.1,854.7L906.6,854.4L908.7,854.2L910.4,854.1L911.8,854.1L913.0,854.0L914.3,854.1L915.8,854.1L917.6,854.1L920.0,854.1L923.1,854.1L927.0,854.1L931.3,854.1L935.7,854.1L940.1,854.1L944.1,854.1L947.4,854.1L949.8,854.1" fill="none" stroke="#111" stroke-width="1.55" stroke-linejoin="round"/>
<g class="ax"><text x="391.0" y="888.1" font-size="6.5" textLength="79.5" lengthAdjust="spacing">winter-spring interests</text></g>
</svg>
</body>
</html>
